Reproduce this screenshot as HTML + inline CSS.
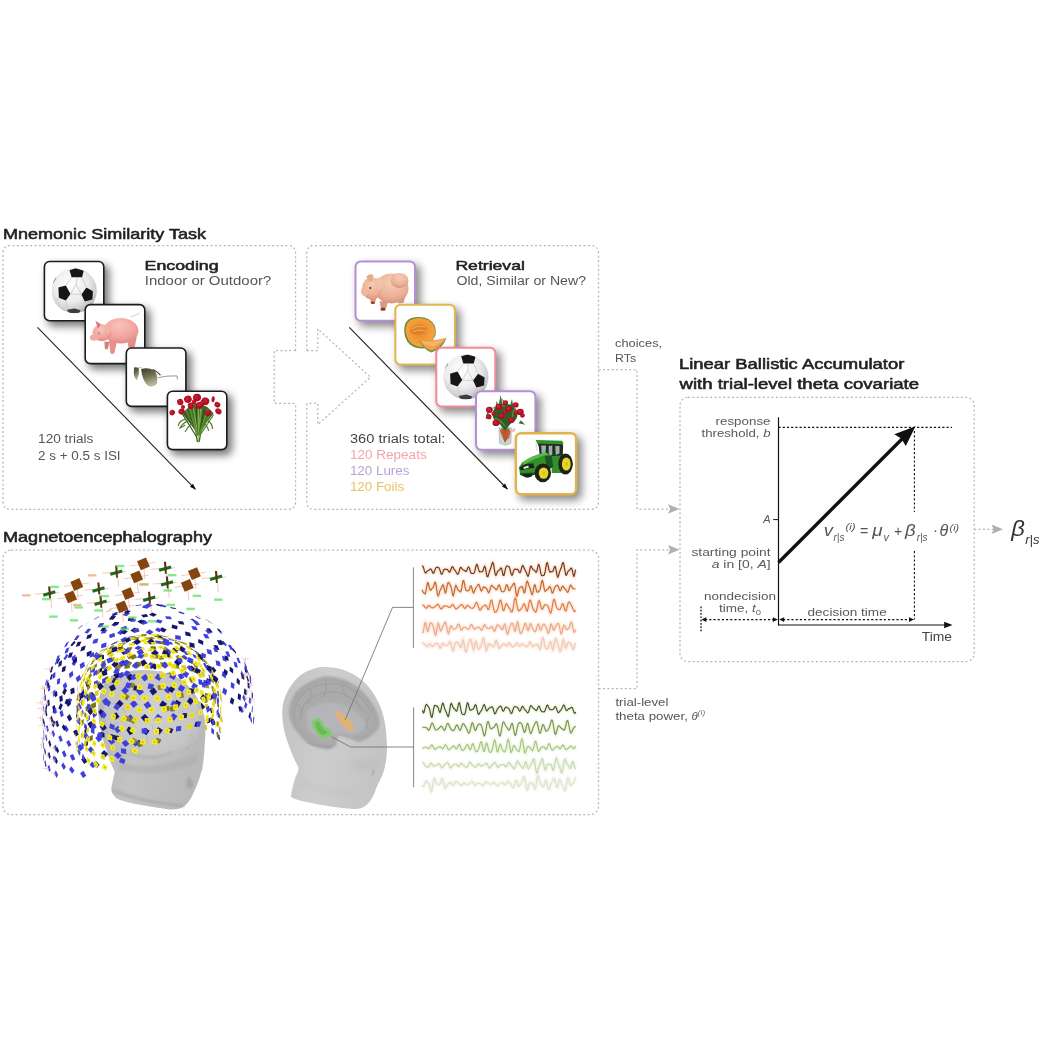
<!DOCTYPE html>
<html><head><meta charset="utf-8"><title>Figure</title>
<style>html,body{margin:0;padding:0;background:#fff;}svg{display:block;}text{font-family:"Liberation Sans", sans-serif;}</style>
</head><body>
<svg width="1042" height="1042" viewBox="0 0 1042 1042">
<rect width="1042" height="1042" fill="#fff"/>
<g opacity="0.999">
<defs>
<filter id="sh" x="-40%" y="-40%" width="190%" height="190%"><feGaussianBlur stdDeviation="4.2"/></filter>
<filter id="glow" x="-5%" y="-60%" width="110%" height="220%"><feGaussianBlur stdDeviation="1.3"/></filter>
<filter id="soft" x="-10%" y="-10%" width="120%" height="120%"><feGaussianBlur stdDeviation="0.6"/></filter>
<filter id="soft2" x="-20%" y="-20%" width="140%" height="140%"><feGaussianBlur stdDeviation="1.1"/></filter>
<filter id="soft3" x="-20%" y="-20%" width="140%" height="140%"><feGaussianBlur stdDeviation="3"/></filter>
</defs>
<text x="3" y="239.3" font-size="14.5" font-weight="normal" font-style="normal" fill="#222" text-anchor="start" textLength="203" lengthAdjust="spacingAndGlyphs" stroke="#222" stroke-width="0.55" stroke-linejoin="round">Mnemonic Similarity Task</text>
<text x="3" y="541.5" font-size="14.5" font-weight="normal" font-style="normal" fill="#222" text-anchor="start" textLength="209" lengthAdjust="spacingAndGlyphs" stroke="#222" stroke-width="0.55" stroke-linejoin="round">Magnetoencephalography</text>
<text x="679" y="369.4" font-size="14.5" font-weight="normal" font-style="normal" fill="#222" text-anchor="start" textLength="225.3" lengthAdjust="spacingAndGlyphs" stroke="#222" stroke-width="0.55" stroke-linejoin="round">Linear Ballistic Accumulator</text>
<text x="679.5" y="388.7" font-size="14.5" font-weight="normal" font-style="normal" fill="#222" text-anchor="start" textLength="239.6" lengthAdjust="spacingAndGlyphs" stroke="#222" stroke-width="0.55" stroke-linejoin="round">with trial-level theta covariate</text>
<path d="M295.6,350.6 L295.6,253.5 Q295.6,245.5 287.6,245.5 L11,245.5 Q3,245.5 3,253.5 L3,501.4 Q3,509.4 11,509.4 L287.6,509.4 Q295.6,509.4 295.6,501.4 L295.6,403.4" fill="none" stroke="#b6b6b6" stroke-width="1.25" stroke-dasharray="2 2.4"/>
<path d="M295.6,350.6 L274.2,350.6 L274.2,403.4 L295.6,403.4" fill="none" stroke="#b6b6b6" stroke-width="1.25" stroke-dasharray="2 2.4"/>
<path d="M306.8,350.6 L306.8,253.5 Q306.8,245.5 314.8,245.5 L590.5,245.5 Q598.5,245.5 598.5,253.5 L598.5,501.4 Q598.5,509.4 590.5,509.4 L314.8,509.4 Q306.8,509.4 306.8,501.4 L306.8,403.4" fill="none" stroke="#b6b6b6" stroke-width="1.25" stroke-dasharray="2 2.4"/>
<path d="M306.8,350.6 L317.8,350.6 L317.8,328.8 L370.4,377.2 L317.8,424.5 L317.8,403.4 L306.8,403.4" fill="none" stroke="#b6b6b6" stroke-width="1.25" stroke-dasharray="2 2.4"/>
<rect x="3" y="550.2" width="595.5" height="264.3" rx="8" fill="none" stroke="#b6b6b6" stroke-width="1.25" stroke-dasharray="2 2.4"/>
<rect x="680" y="397.3" width="294.2" height="264.2" rx="8" fill="none" stroke="#b6b6b6" stroke-width="1.25" stroke-dasharray="2 2.4"/>
<path d="M598.5,369.6 L637,369.6 L637,509 L670,509" fill="none" stroke="#b6b6b6" stroke-width="1.25" stroke-dasharray="2 2.4"/>
<path d="M598.5,688.5 L637,688.5 L637,549.8 L670,549.8" fill="none" stroke="#b6b6b6" stroke-width="1.25" stroke-dasharray="2 2.4"/>
<path d="M974.2,529.3 L994,529.3" fill="none" stroke="#b6b6b6" stroke-width="1.25" stroke-dasharray="2 2.4"/>
<path d="M679.5,509 L668.0,504.2 L670.2,509 L668.0,513.8 Z" fill="#b0b0b0"/>
<path d="M679.5,549.8 L668.0,545.0 L670.2,549.8 L668.0,554.5999999999999 Z" fill="#b0b0b0"/>
<path d="M1003,529.3 L991.5,524.5 L993.7,529.3 L991.5,534.0999999999999 Z" fill="#b0b0b0"/>
<text x="144.6" y="269.7" font-size="13.5" font-weight="normal" font-style="normal" fill="#222" text-anchor="start" textLength="74" lengthAdjust="spacingAndGlyphs" stroke="#222" stroke-width="0.55" stroke-linejoin="round">Encoding</text>
<text x="144.8" y="284.8" font-size="12.5" font-weight="normal" font-style="normal" fill="#555" text-anchor="start" textLength="126.5" lengthAdjust="spacingAndGlyphs">Indoor or Outdoor?</text>
<text x="38.1" y="442.7" font-size="12" font-weight="normal" font-style="normal" fill="#555" text-anchor="start" textLength="55.3" lengthAdjust="spacingAndGlyphs">120 trials</text>
<text x="38.1" y="459.5" font-size="12" font-weight="normal" font-style="normal" fill="#555" text-anchor="start" textLength="82.5" lengthAdjust="spacingAndGlyphs">2 s + 0.5 s ISI</text>
<text x="455.4" y="269.7" font-size="13.5" font-weight="normal" font-style="normal" fill="#222" text-anchor="start" textLength="69.5" lengthAdjust="spacingAndGlyphs" stroke="#222" stroke-width="0.55" stroke-linejoin="round">Retrieval</text>
<text x="456.5" y="285.1" font-size="12.5" font-weight="normal" font-style="normal" fill="#555" text-anchor="start" textLength="129.5" lengthAdjust="spacingAndGlyphs">Old, Similar or New?</text>
<text x="349.9" y="442.7" font-size="12" font-weight="normal" font-style="normal" fill="#444" text-anchor="start" textLength="95.4" lengthAdjust="spacingAndGlyphs">360 trials total:</text>
<text x="349.9" y="459.2" font-size="12" font-weight="normal" font-style="normal" fill="#f4a3ae" text-anchor="start" textLength="76.8" lengthAdjust="spacingAndGlyphs">120 Repeats</text>
<text x="349.9" y="475.3" font-size="12" font-weight="normal" font-style="normal" fill="#b9a2d9" text-anchor="start" textLength="59.6" lengthAdjust="spacingAndGlyphs">120 Lures</text>
<text x="349.9" y="490.6" font-size="12" font-weight="normal" font-style="normal" fill="#ecc062" text-anchor="start" textLength="54.2" lengthAdjust="spacingAndGlyphs">120 Foils</text>
<text x="615.1" y="347" font-size="11.5" font-weight="normal" font-style="normal" fill="#555" text-anchor="start" textLength="47" lengthAdjust="spacingAndGlyphs">choices,</text>
<text x="615.1" y="361.6" font-size="11.5" font-weight="normal" font-style="normal" fill="#555" text-anchor="start" textLength="21" lengthAdjust="spacingAndGlyphs">RTs</text>
<text x="615.4" y="705.6" font-size="11.5" font-weight="normal" font-style="normal" fill="#555" text-anchor="start" textLength="53" lengthAdjust="spacingAndGlyphs">trial-level</text>
<text x="615.4" y="719.7" font-size="11.5" font-weight="normal" font-style="normal" fill="#555" text-anchor="start" textLength="72.5" lengthAdjust="spacingAndGlyphs">theta power,</text>
<text x="691.5" y="719.7" font-size="11.5" font-style="italic" fill="#555">θ<tspan font-size="7" dy="-5" letter-spacing="0.6">(i)</tspan></text>
<line x1="37.5" y1="327.3" x2="195.3" y2="489.2" stroke="#222" stroke-width="1.1"/>
<path d="M195.9,489.8 L189.9,486.8 L193.0,483.7 Z" fill="#111"/>
<line x1="349.3" y1="327.3" x2="507.3" y2="489.0" stroke="#222" stroke-width="1.1"/>
<path d="M507.9,489.6 L501.9,486.6 L505.0,483.5 Z" fill="#111"/>
<rect x="47.6" y="264.9" width="61.6" height="61.4" rx="6" fill="#000" opacity="0.54" filter="url(#sh)"/>
<rect x="44.4" y="261.5" width="59.4" height="59.199999999999996" rx="5.2" fill="#fff" stroke="#1c1c1c" stroke-width="1.6"/>
<radialGradient id="sb43" cx="0.42" cy="0.36" r="0.7"><stop offset="0" stop-color="#ffffff"/><stop offset="0.55" stop-color="#ececee"/><stop offset="0.85" stop-color="#c9c9cd"/><stop offset="1" stop-color="#9a9aa0"/></radialGradient>
<clipPath id="csb43"><circle cx="30.6" cy="30.0" r="22.6"/></clipPath>
<g filter="url(#soft)"><circle cx="74.2" cy="290.7" r="22.6" fill="url(#sb43)"/>
<g clip-path="url(#csb43)" transform="translate(43.6,260.7)">
<polygon points="25.9,9.5 32.2,7.6 40.1,10 38.5,16.6 28,16.6" fill="#141414"/>
<polygon points="14.8,26.9 22.2,24.8 26.9,33.3 22.2,39.8 15.3,37.1" fill="#141414"/>
<polygon points="42.8,26.9 49.3,30.6 48.8,38.7 41.2,40.8 37.8,33.8" fill="#141414"/>
<polygon points="23.2,49.1 31.1,47.8 36.9,49.6 35.6,52.2 25.7,52.4" fill="#3c3c3c"/>
<polygon points="7,18 11.5,14.5 12.8,17.5 9.5,22.5" fill="#77777c"/>
<g stroke="#c2c2c8" stroke-width="0.7" fill="none">
<path d="M33.2,16.6 L32.5,24 M26.9,33.3 L37.8,33.8 M32.5,24 L26.9,33.3 M32.5,24 L37.8,33.8 M22.2,39.8 L24,47 M41.2,40.8 L37,49 M28,16.6 L22.2,24.8 M38.5,16.6 L42.8,26.9 M15.3,37.1 L11,42 M48.8,38.7 L50,44"/>
</g></g></g>
<rect x="88.4" y="308.0" width="61.800000000000004" height="61.2" rx="6" fill="#000" opacity="0.54" filter="url(#sh)"/>
<rect x="85.2" y="304.6" width="59.6" height="59.0" rx="5.2" fill="#fff" stroke="#1c1c1c" stroke-width="1.6"/>
<radialGradient id="pg1" cx="0.45" cy="0.3" r="0.8"><stop offset="0" stop-color="#f8c4bc"/><stop offset="0.6" stop-color="#f0a39c"/><stop offset="1" stop-color="#d9807c"/></radialGradient>
<g transform="translate(84.4,303.8)" filter="url(#soft)">
<path d="M46,13.5 Q50,12 55,9.5" stroke="#e4e0e0" stroke-width="1.6" fill="none"/>
<path d="M24.5,36 L26,49.5 Q28,51 30,49.5 L32.5,38 Z" fill="#e8908c"/>
<path d="M20,38 L20.5,45 Q22,46.5 23.5,45 L25,38 Z" fill="#d77f80"/>
<path d="M43,36 L44,44 L50,44 L52.5,33 Z" fill="#e58d8a"/>
<ellipse cx="36.5" cy="27" rx="17.5" ry="12.8" fill="url(#pg1)"/>
<ellipse cx="17.5" cy="29" rx="9.5" ry="8.5" fill="url(#pg1)"/>
<ellipse cx="9.5" cy="33.8" rx="4" ry="3.2" fill="#f3aaa6"/>
<path d="M11,17 L16.5,20.5 L13.5,25 Z" fill="#d8747c"/>
<path d="M21.5,20 Q25,17.5 27.5,22.5 Q27,28.5 23.5,31 Q20.5,26 21.5,20 Z" fill="#f2b0aa"/>
<circle cx="14.5" cy="29.5" r="0.7" fill="#8a4a50"/>
</g>
<rect x="129.5" y="351.4" width="61.800000000000004" height="60.6" rx="6" fill="#000" opacity="0.54" filter="url(#sh)"/>
<rect x="126.3" y="348.0" width="59.6" height="58.4" rx="5.2" fill="#fff" stroke="#1c1c1c" stroke-width="1.6"/>
<linearGradient id="gl" x1="0" y1="0" x2="0.3" y2="1"><stop offset="0" stop-color="#3c3d28"/><stop offset="0.5" stop-color="#6d6e50"/><stop offset="1" stop-color="#b9b99a"/></linearGradient>
<g transform="translate(125.5,347.2)" filter="url(#soft)">
<path d="M8.6,20.2 Q11,19.5 13.4,21 Q14.2,27 11.6,33 Q9,31.5 8.3,26 Z" fill="url(#gl)"/>
<path d="M15.6,22 Q22,19.5 29,23.5 Q33,28 31.5,36 Q28,41 22.5,38.5 Q17,34 15.6,22 Z" fill="url(#gl)"/>
<path d="M13,20.6 Q15,19.8 17,21.2" stroke="#b8b49a" stroke-width="0.8" fill="none"/>
<path d="M27,22.3 Q32,24 35,28" stroke="#3a3a30" stroke-width="1.2" fill="none"/>
<path d="M32.5,30.5 Q42,28.2 51.5,28.7 L52,32.2" stroke="#8c8c78" stroke-width="0.9" fill="none"/>
</g>
<rect x="170.6" y="394.59999999999997" width="61.6" height="60.6" rx="6" fill="#000" opacity="0.54" filter="url(#sh)"/>
<rect x="167.4" y="391.2" width="59.4" height="58.4" rx="5.2" fill="#fff" stroke="#1c1c1c" stroke-width="1.6"/>
<g transform="translate(166.6,390.4)" filter="url(#soft)">
<path d="M16,23 Q23,14 31,13 Q40,14 47,23 Q41,31 35.2,38 L33.4,51.2 Q31.7,52.8 30,51.2 L28.4,38 Q21.5,31 16,23 Z" fill="#3f6a27"/>
<path d="M15.5,23.2 Q23.5,35.6 31.7,49.4" stroke="#34591f" stroke-width="1.1" fill="none"/>
<path d="M17.5,22.2 Q24.6,35.1 31.7,43.1" stroke="#2f531d" stroke-width="1.1" fill="none"/>
<path d="M19.9,19.8 Q25.7,33.9 31.7,44.3" stroke="#6a9c3b" stroke-width="1.1" fill="none"/>
<path d="M21.2,19.8 Q26.4,33.9 31.7,46.3" stroke="#2f531d" stroke-width="1.1" fill="none"/>
<path d="M22.7,17.3 Q27.1,32.7 31.7,49.1" stroke="#6a9c3b" stroke-width="1.1" fill="none"/>
<path d="M24.0,18.8 Q27.8,33.4 31.7,44.1" stroke="#56882f" stroke-width="1.1" fill="none"/>
<path d="M26.5,15.3 Q29.1,31.7 31.7,48.8" stroke="#56882f" stroke-width="1.1" fill="none"/>
<path d="M26.7,17.0 Q29.2,32.5 31.7,48.0" stroke="#7fae4c" stroke-width="1.1" fill="none"/>
<path d="M29.6,15.8 Q30.6,31.9 31.7,46.1" stroke="#2f531d" stroke-width="1.1" fill="none"/>
<path d="M31.3,17.5 Q31.4,32.8 31.7,43.3" stroke="#56882f" stroke-width="1.1" fill="none"/>
<path d="M32.0,15.1 Q31.8,31.5 31.7,48.5" stroke="#7fae4c" stroke-width="1.1" fill="none"/>
<path d="M34.3,15.9 Q33.0,31.9 31.7,47.0" stroke="#7fae4c" stroke-width="1.1" fill="none"/>
<path d="M35.3,16.2 Q33.4,32.1 31.7,49.3" stroke="#6a9c3b" stroke-width="1.1" fill="none"/>
<path d="M37.2,18.9 Q34.4,33.4 31.7,49.9" stroke="#34591f" stroke-width="1.1" fill="none"/>
<path d="M38.7,16.5 Q35.2,32.3 31.7,49.8" stroke="#34591f" stroke-width="1.1" fill="none"/>
<path d="M40.8,19.0 Q36.2,33.5 31.7,47.4" stroke="#6a9c3b" stroke-width="1.1" fill="none"/>
<path d="M42.6,18.7 Q37.1,33.4 31.7,43.4" stroke="#56882f" stroke-width="1.1" fill="none"/>
<path d="M43.9,22.7 Q37.8,35.3 31.7,45.4" stroke="#56882f" stroke-width="1.1" fill="none"/>
<path d="M43.9,23.4 Q37.8,35.7 31.7,45.1" stroke="#56882f" stroke-width="1.1" fill="none"/>
<path d="M46.9,24.5 Q39.3,36.2 31.7,47.2" stroke="#56882f" stroke-width="1.1" fill="none"/>
<path d="M23,30 Q17,31.5 13.5,37.5 Q16,37 18.5,34.5 M41,30 Q45.5,32.5 46,38.5 M19,29 Q13,29.5 11.6,35.5 M25,33.5 Q20.5,36.5 18.5,41.5 M38.5,33.5 Q41.5,37 42,40.5" stroke="#4e7a2c" stroke-width="1.2" fill="none"/>
<path d="M30.3,45 L31.7,52.3 L33.1,45 Z" fill="#b4d67a"/>
<ellipse cx="13.6" cy="11.6" rx="3.1" ry="3.3" fill="#ae1024" transform="rotate(-20 13.6 11.6)"/>
<ellipse cx="13.1" cy="11.1" rx="1.55" ry="1.65" fill="#c81e30" transform="rotate(-20 13.6 11.6)"/>
<ellipse cx="21.3" cy="8.8" rx="3.9" ry="3.6" fill="#ae1024" transform="rotate(-15 21.3 8.8)"/>
<ellipse cx="20.8" cy="8.3" rx="1.95" ry="1.80" fill="#c81e30" transform="rotate(-15 21.3 8.8)"/>
<ellipse cx="30.4" cy="7.2" rx="4.0" ry="3.8" fill="#ae1024" transform="rotate(0 30.4 7.2)"/>
<ellipse cx="29.9" cy="6.7" rx="2.00" ry="1.90" fill="#c81e30" transform="rotate(0 30.4 7.2)"/>
<ellipse cx="38.8" cy="10.8" rx="3.9" ry="3.8" fill="#ae1024" transform="rotate(20 38.8 10.8)"/>
<ellipse cx="38.3" cy="10.3" rx="1.95" ry="1.90" fill="#c81e30" transform="rotate(20 38.8 10.8)"/>
<ellipse cx="46.5" cy="8.8" rx="1.6" ry="3.0" fill="#ae1024" transform="rotate(8 46.5 8.8)"/>
<ellipse cx="46.0" cy="8.3" rx="0.80" ry="1.50" fill="#c81e30" transform="rotate(8 46.5 8.8)"/>
<ellipse cx="50.8" cy="14.3" rx="3.0" ry="2.6" fill="#ae1024" transform="rotate(30 50.8 14.3)"/>
<ellipse cx="50.3" cy="13.8" rx="1.50" ry="1.30" fill="#c81e30" transform="rotate(30 50.8 14.3)"/>
<ellipse cx="51.8" cy="21" rx="3.3" ry="2.7" fill="#ae1024" transform="rotate(40 51.8 21)"/>
<ellipse cx="51.3" cy="20.5" rx="1.65" ry="1.35" fill="#c81e30" transform="rotate(40 51.8 21)"/>
<ellipse cx="41.4" cy="22.8" rx="3.0" ry="2.9" fill="#ae1024" transform="rotate(10 41.4 22.8)"/>
<ellipse cx="40.9" cy="22.3" rx="1.50" ry="1.45" fill="#c81e30" transform="rotate(10 41.4 22.8)"/>
<ellipse cx="32.8" cy="15" rx="3.7" ry="3.5" fill="#ae1024" transform="rotate(0 32.8 15)"/>
<ellipse cx="32.3" cy="14.5" rx="1.85" ry="1.75" fill="#c81e30" transform="rotate(0 32.8 15)"/>
<ellipse cx="24.2" cy="15.4" rx="3.0" ry="3.4" fill="#ae1024" transform="rotate(-10 24.2 15.4)"/>
<ellipse cx="23.7" cy="14.9" rx="1.50" ry="1.70" fill="#c81e30" transform="rotate(-10 24.2 15.4)"/>
<ellipse cx="15" cy="21" rx="3.2" ry="2.9" fill="#ae1024" transform="rotate(-30 15 21)"/>
<ellipse cx="14.5" cy="20.5" rx="1.60" ry="1.45" fill="#c81e30" transform="rotate(-30 15 21)"/>
<ellipse cx="5.6" cy="22.2" rx="2.8" ry="2.6" fill="#ae1024" transform="rotate(-40 5.6 22.2)"/>
<ellipse cx="5.1" cy="21.7" rx="1.40" ry="1.30" fill="#c81e30" transform="rotate(-40 5.6 22.2)"/>
<ellipse cx="16.4" cy="16.6" rx="2.0" ry="2.0" fill="#ae1024" transform="rotate(0 16.4 16.6)"/>
<ellipse cx="15.899999999999999" cy="16.1" rx="1.00" ry="1.00" fill="#c81e30" transform="rotate(0 16.4 16.6)"/>
<ellipse cx="36" cy="12.5" rx="2.4" ry="2.8" fill="#ae1024" transform="rotate(0 36 12.5)"/>
<ellipse cx="35.5" cy="12.0" rx="1.20" ry="1.40" fill="#c81e30" transform="rotate(0 36 12.5)"/>
<ellipse cx="27.5" cy="11.5" rx="2.2" ry="2.6" fill="#ae1024" transform="rotate(0 27.5 11.5)"/>
<ellipse cx="27.0" cy="11.0" rx="1.10" ry="1.30" fill="#c81e30" transform="rotate(0 27.5 11.5)"/>
</g>
<rect x="358.5" y="264.59999999999997" width="62.1" height="62.0" rx="6" fill="#000" opacity="0.45999999999999996" filter="url(#sh)"/>
<rect x="355.5" y="261.4" width="59.5" height="59.4" rx="5.2" fill="#fff" stroke="#b58fd6" stroke-width="2.0"/>
<radialGradient id="pg2" cx="0.5" cy="0.3" r="0.8"><stop offset="0" stop-color="#f6cdb6"/><stop offset="0.6" stop-color="#ecb096"/><stop offset="1" stop-color="#cf8a72"/></radialGradient>
<g transform="translate(354.5,260.4)" filter="url(#soft)">
<path d="M25,41 L26.5,48.5 Q29,50.5 31.5,48 L34,40 Z" fill="#d99a80"/>
<ellipse cx="28.5" cy="48.8" rx="2.6" ry="1.6" fill="#8a3a34"/>
<path d="M15,37 L16.5,42 Q18.5,43.5 20.5,42 L22,37 Z" fill="#d99a80"/>
<ellipse cx="18.3" cy="42.3" rx="2.2" ry="1.3" fill="#8a3a34"/>
<path d="M42,38 L44,43 L49,42.5 L51,35 Z" fill="#d99a80"/>
<ellipse cx="37" cy="28" rx="17" ry="15" fill="url(#pg2)"/>
<ellipse cx="45" cy="20" rx="9" ry="7.5" fill="url(#pg2)"/>
<ellipse cx="17.5" cy="28" rx="10" ry="11" fill="url(#pg2)"/>
<ellipse cx="10" cy="31" rx="3.6" ry="4.6" fill="#eeb9a0"/>
<path d="M12,16 Q15,12.5 19,15 L18,21 L13.5,21 Z" fill="#e8aa90"/>
<path d="M22,18 Q26,15.5 29,20 Q29,27 25,30 Q21.5,25 22,18 Z" fill="#f2c2aa"/>
<circle cx="15.8" cy="27.5" r="1" fill="#4a2a28"/>
</g>
<rect x="398.4" y="308.0" width="62.1" height="62.4" rx="6" fill="#000" opacity="0.45999999999999996" filter="url(#sh)"/>
<rect x="395.4" y="304.8" width="59.5" height="59.8" rx="5.2" fill="#fff" stroke="#e2b64f" stroke-width="2.0"/>
<radialGradient id="ml" cx="0.5" cy="0.45" r="0.6"><stop offset="0" stop-color="#e9832a"/><stop offset="0.55" stop-color="#f39a37"/><stop offset="1" stop-color="#f2a648"/></radialGradient>
<g transform="translate(394.4,303.8)" filter="url(#soft)">
<path d="M10,24 Q11,13 24,13.2 Q36,13 40.5,22 Q42,27 41,32 L33,44 Q20,47 13,38 Q9,31 10,24 Z" fill="#6f8a3a"/>
<path d="M11.5,23.5 Q13,14.5 24.5,14.2 Q36,14.5 39.8,22.5 Q41.5,28 40,33 L32,42.5 Q21,45 14.5,37 Q10.5,30 11.5,23.5 Z" fill="url(#ml)"/>
<ellipse cx="24" cy="26" rx="8.5" ry="5" fill="#e07f2a" transform="rotate(-10 24 26)"/>
<path d="M17,25 Q24,21 31,23 M18,28 Q24,25 31,27" stroke="#f4b268" stroke-width="0.9" fill="none"/>
<path d="M24.5,36.8 Q38,38.5 52,34.5 Q48,45.5 37,48.8 Q29,46 24.5,36.8 Z" fill="#7f9340"/>
<path d="M25.2,36.6 Q38,37.6 51.5,34.2 Q46.5,43.5 37,46.8 Q30,44.5 25.2,36.6 Z" fill="#f3a04a"/>
<path d="M27,37.5 Q38,39 49.5,35.5 Q45,41 38,42.5 Q31,42 27,37.5 Z" fill="#f6b467"/>
</g>
<rect x="439.3" y="351.0" width="61.6" height="61.4" rx="6" fill="#000" opacity="0.45999999999999996" filter="url(#sh)"/>
<rect x="436.3" y="347.8" width="59.0" height="58.8" rx="5.2" fill="#fff" stroke="#f08a9a" stroke-width="2.0"/>
<radialGradient id="sb435" cx="0.42" cy="0.36" r="0.7"><stop offset="0" stop-color="#ffffff"/><stop offset="0.55" stop-color="#ececee"/><stop offset="0.85" stop-color="#c9c9cd"/><stop offset="1" stop-color="#9a9aa0"/></radialGradient>
<clipPath id="csb435"><circle cx="30.6" cy="30.0" r="22.6"/></clipPath>
<g filter="url(#soft)"><circle cx="465.90000000000003" cy="376.8" r="22.6" fill="url(#sb435)"/>
<g clip-path="url(#csb435)" transform="translate(435.3,346.8)">
<polygon points="25.9,9.5 32.2,7.6 40.1,10 38.5,16.6 28,16.6" fill="#141414"/>
<polygon points="14.8,26.9 22.2,24.8 26.9,33.3 22.2,39.8 15.3,37.1" fill="#141414"/>
<polygon points="42.8,26.9 49.3,30.6 48.8,38.7 41.2,40.8 37.8,33.8" fill="#141414"/>
<polygon points="23.2,49.1 31.1,47.8 36.9,49.6 35.6,52.2 25.7,52.4" fill="#3c3c3c"/>
<polygon points="7,18 11.5,14.5 12.8,17.5 9.5,22.5" fill="#77777c"/>
<g stroke="#c2c2c8" stroke-width="0.7" fill="none">
<path d="M33.2,16.6 L32.5,24 M26.9,33.3 L37.8,33.8 M32.5,24 L26.9,33.3 M32.5,24 L37.8,33.8 M22.2,39.8 L24,47 M41.2,40.8 L37,49 M28,16.6 L22.2,24.8 M38.5,16.6 L42.8,26.9 M15.3,37.1 L11,42 M48.8,38.7 L50,44"/>
</g></g></g>
<rect x="479.0" y="394.5" width="62.0" height="61.0" rx="6" fill="#000" opacity="0.45999999999999996" filter="url(#sh)"/>
<rect x="476.0" y="391.3" width="59.4" height="58.4" rx="5.2" fill="#fff" stroke="#b58fd6" stroke-width="2.0"/>
<g transform="translate(475.0,390.3)" filter="url(#soft)">
<path d="M24,37.5 L24.6,53 Q30.2,56.2 35.8,53 L36.4,37.5 Z" fill="#c9d5d2" stroke="#95a8a4" stroke-width="0.6"/>
<path d="M26,38 L29.6,52 L30.8,52 L34.4,38 Z" fill="#668f42"/>
<path d="M24.6,39.5 Q30,37.5 36,40 L34.2,47.5 Q31,50.5 29.6,51.5 Q27,47 24.6,39.5 Z" fill="#c9502f" opacity="0.85"/>
<path d="M35.4,39.8 L40,37.6 L40.4,41 L36,42.4 Z" fill="#e9c3bb"/>
<path d="M25.6,4.6 L23.6,15 L28.2,16 Z M26.6,8 L30.2,17 L32,14 Z M37,8.6 L34.4,17 L38.4,17 Z M21.6,10.4 L20.8,17 L24,16.4 Z M12,22 L10.5,28.5 L16,25 Z M46,30 L50,34.5 L43.5,33 Z" fill="#3c7428"/>
<ellipse cx="30" cy="24" rx="12.5" ry="10.5" fill="#2f5f23"/>
<path d="M22.5,31 L30,40.5 L37.5,31 Z" fill="#2f5f23"/>
<path d="M18,18 Q24,14 30,16 M40,18 Q36,24 38,30 M20,28 Q26,30 30,36" stroke="#5f9440" stroke-width="1.1" fill="none"/>
<ellipse cx="14.4" cy="19.6" rx="3.4" ry="3.06" fill="#ad1024"/>
<ellipse cx="14.0" cy="19.1" rx="1.70" ry="1.53" fill="#c92233"/>
<ellipse cx="23.8" cy="16.6" rx="3.4" ry="3.06" fill="#ad1024"/>
<ellipse cx="23.400000000000002" cy="16.1" rx="1.70" ry="1.53" fill="#c92233"/>
<ellipse cx="30.4" cy="12.4" rx="2.6" ry="2.34" fill="#ad1024"/>
<ellipse cx="30.0" cy="11.9" rx="1.30" ry="1.17" fill="#c92233"/>
<ellipse cx="33.6" cy="18.6" rx="3.3" ry="2.97" fill="#ad1024"/>
<ellipse cx="33.2" cy="18.1" rx="1.65" ry="1.48" fill="#c92233"/>
<ellipse cx="40.6" cy="14.6" rx="3.0" ry="2.70" fill="#ad1024"/>
<ellipse cx="40.2" cy="14.1" rx="1.50" ry="1.35" fill="#c92233"/>
<ellipse cx="45.2" cy="21.6" rx="3.5" ry="3.15" fill="#ad1024"/>
<ellipse cx="44.800000000000004" cy="21.1" rx="1.75" ry="1.57" fill="#c92233"/>
<ellipse cx="47.4" cy="25.2" rx="2.4" ry="2.16" fill="#ad1024"/>
<ellipse cx="47.0" cy="24.7" rx="1.20" ry="1.08" fill="#c92233"/>
<ellipse cx="13.8" cy="26.6" rx="2.7" ry="2.43" fill="#ad1024"/>
<ellipse cx="13.4" cy="26.1" rx="1.35" ry="1.22" fill="#c92233"/>
<ellipse cx="26.6" cy="25.6" rx="3.2" ry="2.88" fill="#ad1024"/>
<ellipse cx="26.200000000000003" cy="25.1" rx="1.60" ry="1.44" fill="#c92233"/>
<ellipse cx="36.4" cy="29.6" rx="3.2" ry="2.88" fill="#ad1024"/>
<ellipse cx="36.0" cy="29.1" rx="1.60" ry="1.44" fill="#c92233"/>
<ellipse cx="21" cy="32.6" rx="3.5" ry="3.15" fill="#ad1024"/>
<ellipse cx="20.6" cy="32.1" rx="1.75" ry="1.57" fill="#c92233"/>
<ellipse cx="30" cy="21.8" rx="2.4" ry="2.16" fill="#ad1024"/>
<ellipse cx="29.6" cy="21.3" rx="1.20" ry="1.08" fill="#c92233"/>
<ellipse cx="41" cy="22.4" rx="2.4" ry="2.16" fill="#ad1024"/>
<ellipse cx="40.6" cy="21.9" rx="1.20" ry="1.08" fill="#c92233"/>
<ellipse cx="18.6" cy="23.4" rx="2.2" ry="1.98" fill="#ad1024"/>
<ellipse cx="18.200000000000003" cy="22.9" rx="1.10" ry="0.99" fill="#c92233"/>
</g>
<rect x="518.7" y="436.2" width="63.2" height="64.0" rx="6" fill="#000" opacity="0.45999999999999996" filter="url(#sh)"/>
<rect x="515.9000000000001" y="433.2" width="60.2" height="61.0" rx="5.2" fill="#fff" stroke="#e4b24a" stroke-width="2.4"/>
<g transform="translate(514.7,432.0)" filter="url(#soft)">
<path d="M22,10 L47,10.6 L48.4,13.4 L48,27 L25.5,28 L24,14 Z" fill="#242c27"/>
<path d="M21,8 L47.6,8.8 L48.8,12.2 L22.4,11.8 Z" fill="#33902a"/>
<path d="M26.4,13.6 L31.4,13.6 L30.6,24 L27.2,24 Z M34,13.8 L37.6,13.8 L37.6,23 L34,23.6 Z M40.6,14 L44.8,14 L44.8,21.5 L41,23 Z" fill="#9fb0a8"/>
<path d="M20.6,10.4 L22.4,10 L23,18.5 L21.4,18.5 Z" fill="#e4e4e4"/>
<path d="M37,24 L48,23.5 Q57,24 58.5,33 L50,41 L37,41 Z" fill="#33902a"/>
<path d="M7.5,30.5 Q17,23.5 31,20.5 L37,23.5 L38.5,35 L27,41.5 L9,41.5 Q3.6,39 4.2,35.4 Z" fill="#33902a"/>
<path d="M7.5,30.5 Q17,23.5 31,20.5 L33.6,22.2 Q20,26 9.6,32.6 Z" fill="#5cba4a"/>
<path d="M30,24 L37,23.5 L38.5,35 L32,38 Z" fill="#1d5520"/>
<path d="M5,35.6 Q11,30.6 18.6,31.6 L19.6,36 Q12,36 6,39 Z" fill="#1e231f"/>
<path d="M8.6,35.2 L13.6,33.6 L14.2,35.6 L9.2,37 Z" fill="#ececec"/>
<path d="M4.6,38.6 Q12,37 20,37.6 L21,42.4 Q12,45.4 5.6,43 Z" fill="#33902a"/>
<path d="M5,41 Q12,40.4 20.6,40.4 L21,42.4 Q12,45.4 5.6,43 Z" fill="#1d5520"/>
<path d="M6.5,42.6 Q11,47.5 17,44.6 L17.6,41.6 Z" fill="#1e231f"/>
<ellipse cx="50.8" cy="32" rx="7.2" ry="10.6" fill="#1e231f"/>
<ellipse cx="51.6" cy="32" rx="4.4" ry="6.6" fill="#ead426"/>
<ellipse cx="51.9" cy="32" rx="1.5" ry="2.3" fill="#d6c01e"/>
<ellipse cx="28.1" cy="40.9" rx="8.2" ry="9.4" fill="#1e231f"/>
<ellipse cx="28.9" cy="41.1" rx="4.8" ry="5.7" fill="#ead426"/>
<ellipse cx="29.2" cy="41.1" rx="1.6" ry="2" fill="#d6c01e"/>
</g>
<g>
<polygon points="147.4,663.4 142.7,666.4 139.5,662.3 144.2,659.2" fill="#17176a"/>
<polygon points="164.2,688.3 160.7,692.2 156.3,688.8 159.8,684.9" fill="#17176a"/>
<polygon points="164.9,701.5 161.8,705.6 157.1,702.5 160.3,698.3" fill="#17176a"/>
<polygon points="168.6,701.3 165.7,705.0 161.5,702.2 164.4,698.5" fill="#3f3fdc"/>
<polygon points="131.8,663.0 128.5,667.4 124.1,664.7 127.4,660.3" fill="#3f3fdc"/>
<polygon points="128.0,651.5 123.7,655.1 120.3,651.7 124.6,648.2" fill="#17176a"/>
<polygon points="119.0,663.9 115.1,668.0 111.4,664.7 115.3,660.6" fill="#17176a"/>
<polygon points="138.3,629.7 134.3,632.7 130.4,630.4 134.5,627.4" fill="#17176a"/>
<polygon points="124.7,631.6 120.7,634.9 117.0,633.0 121.0,629.6" fill="#3f3fdc"/>
<polygon points="127.8,631.5 124.2,634.5 120.9,632.8 124.5,629.8" fill="#17176a"/>
<polygon points="99.9,654.3 96.5,658.8 92.9,656.6 96.3,652.1" fill="#3f3fdc"/>
<polygon points="205.2,707.1 201.9,710.2 198.3,705.8 201.6,702.8" fill="#17176a"/>
<polygon points="147.0,622.4 142.3,624.4 139.2,621.9 143.8,620.0" fill="#17176a"/>
<polygon points="94.9,695.1 91.0,699.2 88.2,695.8 92.0,691.7" fill="#17176a"/>
<polygon points="213.3,670.6 210.5,673.9 206.9,669.6 209.7,666.4" fill="#3f3fdc"/>
<polygon points="216.4,670.4 213.8,673.3 210.6,669.5 213.1,666.6" fill="#17176a"/>
<polygon points="118.7,623.4 114.7,626.5 111.1,625.2 115.1,622.1" fill="#3f3fdc"/>
<polygon points="217.1,697.3 214.2,700.4 210.8,696.0 213.6,692.9" fill="#3f3fdc"/>
<polygon points="216.1,723.8 212.5,725.8 209.9,720.8 213.4,718.8" fill="#17176a"/>
<polygon points="213.5,697.5 210.9,700.2 207.8,696.3 210.4,693.5" fill="#17176a"/>
<polygon points="156.9,614.4 153.7,616.8 149.0,614.8 152.2,612.4" fill="#17176a"/>
<polygon points="82.6,696.7 79.8,701.7 76.5,699.5 79.2,694.6" fill="#17176a"/>
<polygon points="77.3,661.1 74.3,665.9 71.6,663.9 74.7,659.1" fill="#3f3fdc"/>
<polygon points="72.2,699.5 70.0,704.7 66.9,703.1 69.1,697.9" fill="#3f3fdc"/>
<polygon points="69.3,700.1 67.3,704.8 64.5,703.3 66.5,698.7" fill="#17176a"/>
<polygon points="197.1,621.4 194.8,622.2 190.2,619.3 192.5,618.5" fill="#3f3fdc"/>
<polygon points="67.0,690.3 64.5,695.2 62.2,692.7 64.6,687.8" fill="#17176a"/>
<polygon points="152.7,605.4 148.8,607.5 144.7,605.3 148.7,603.1" fill="#3f3fdc"/>
<polygon points="75.6,642.4 71.8,646.6 70.5,645.0 74.3,640.8" fill="#17176a"/>
<polygon points="226.7,644.5 225.9,646.6 222.0,642.6 222.9,640.5" fill="#3f3fdc"/>
<polygon points="224.0,643.1 223.3,644.9 219.8,641.3 220.5,639.4" fill="#17176a"/>
<polygon points="166.8,606.1 165.1,607.5 159.4,605.7 161.1,604.3" fill="#3f3fdc"/>
<polygon points="62.8,705.1 60.7,710.2 58.4,708.2 60.5,703.1" fill="#17176a"/>
<polygon points="162.3,605.4 160.8,606.6 155.7,605.0 157.2,603.8" fill="#17176a"/>
<polygon points="68.3,655.3 65.3,660.1 63.4,658.9 66.4,654.1" fill="#3f3fdc"/>
<polygon points="201.2,618.9 199.8,619.1 195.0,616.4 196.4,616.2" fill="#17176a"/>
<polygon points="243.7,711.7 241.5,713.1 239.9,707.8 242.0,706.3" fill="#3f3fdc"/>
<polygon points="241.7,710.6 239.7,711.9 238.3,707.1 240.3,705.8" fill="#17176a"/>
<polygon points="99.5,616.7 94.6,619.5 93.6,619.4 98.4,616.5" fill="#3f3fdc"/>
<polygon points="233.8,649.6 233.6,651.7 230.2,647.4 230.4,645.4" fill="#3f3fdc"/>
<polygon points="236.0,651.9 235.8,653.7 232.7,649.9 232.9,648.1" fill="#17176a"/>
<polygon points="142.5,604.9 136.5,605.9 134.7,605.6 140.7,604.6" fill="#3f3fdc"/>
<polygon points="55.5,722.6 53.5,727.5 51.9,724.9 53.8,720.0" fill="#17176a"/>
<polygon points="112.6,609.6 107.7,611.6 105.7,612.0 110.6,610.0" fill="#17176a"/>
<polygon points="56.0,708.6 54.5,713.9 52.5,712.5 54.0,707.1" fill="#3f3fdc"/>
<polygon points="60.0,659.5 57.3,664.2 56.5,662.3 59.3,657.5" fill="#17176a"/>
<polygon points="245.8,698.8 244.4,701.9 242.4,697.3 243.8,694.2" fill="#3f3fdc"/>
<polygon points="58.1,661.0 55.6,665.3 54.9,663.5 57.4,659.2" fill="#3f3fdc"/>
<polygon points="243.9,675.2 243.0,678.1 240.6,673.5 241.5,670.6" fill="#3f3fdc"/>
<polygon points="210.5,622.3 209.9,622.2 205.2,619.1 205.8,619.2" fill="#17176a"/>
<polygon points="213.0,623.7 212.4,623.7 208.2,620.9 208.7,620.9" fill="#3f3fdc"/>
<polygon points="90.0,621.3 85.4,624.5 85.0,624.6 89.6,621.4" fill="#3f3fdc"/>
<polygon points="53.0,674.9 51.1,680.3 49.8,679.0 51.7,673.7" fill="#17176a"/>
<polygon points="200.5,616.9 200.0,616.4 195.0,613.9 195.5,614.3" fill="#17176a"/>
<polygon points="249.1,681.0 247.9,682.1 246.2,676.6 247.3,675.5" fill="#17176a"/>
<polygon points="81.7,625.5 77.6,629.1 79.4,628.2 83.5,624.6" fill="#17176a"/>
<polygon points="176.3,609.3 175.2,608.1 169.8,607.0 171.0,608.3" fill="#17176a"/>
<polygon points="247.8,671.7 247.8,673.5 245.6,668.3 245.6,666.5" fill="#17176a"/>
<polygon points="47.4,680.1 45.8,685.7 45.1,684.4 46.7,678.9" fill="#3f3fdc"/>
<polygon points="47.4,705.8 46.2,711.2 45.2,709.0 46.4,703.6" fill="#17176a"/>
<polygon points="249.0,674.3 249.0,675.8 247.0,671.1 247.0,669.6" fill="#3f3fdc"/>
<polygon points="252.1,720.8 251.3,723.6 250.0,718.4 250.9,715.7" fill="#3f3fdc"/>
<polygon points="149.4,606.4 143.9,605.1 141.9,607.4 147.3,608.8" fill="#3f3fdc"/>
<polygon points="244.3,661.5 244.8,662.7 242.1,657.6 241.6,656.3" fill="#3f3fdc"/>
<polygon points="220.1,633.0 222.6,634.0 219.1,630.0 216.6,629.0" fill="#3f3fdc"/>
<polygon points="220.0,631.8 222.3,632.7 219.1,629.1 216.8,628.2" fill="#17176a"/>
<polygon points="183.4,614.3 184.8,613.3 179.6,611.3 178.2,612.4" fill="#3f3fdc"/>
<polygon points="116.8,611.7 111.6,613.9 113.1,615.0 118.3,612.9" fill="#3f3fdc"/>
<polygon points="116.4,613.2 111.7,615.1 113.1,616.2 117.8,614.2" fill="#17176a"/>
<polygon points="45.2,685.7 44.2,691.3 44.3,689.5 45.3,683.9" fill="#3f3fdc"/>
<polygon points="245.9,667.3 247.1,668.2 245.1,662.7 243.9,661.8" fill="#3f3fdc"/>
<polygon points="43.3,737.3 43.0,743.3 42.7,743.0 42.9,736.9" fill="#17176a"/>
<polygon points="43.5,734.7 43.3,740.1 43.0,739.9 43.2,734.4" fill="#3f3fdc"/>
<polygon points="66.3,642.9 64.0,647.6 66.8,646.0 69.1,641.3" fill="#3f3fdc"/>
<polygon points="43.0,700.5 42.9,706.3 42.8,704.6 42.9,698.8" fill="#3f3fdc"/>
<polygon points="126.1,612.1 122.4,615.1 126.5,616.3 130.2,613.3" fill="#3f3fdc"/>
<polygon points="127.2,609.9 123.8,612.6 127.5,613.7 130.9,611.0" fill="#17176a"/>
<polygon points="148.7,686.0 143.9,686.9 142.8,682.5 147.7,681.5" fill="#15155e"/>
<polygon points="146.8,676.4 141.9,676.2 142.2,671.7 147.1,671.9" fill="#7f7a1e"/>
<polygon points="164.3,697.8 159.6,698.8 158.2,694.4 163.0,693.4" fill="#7f7a1e"/>
<polygon points="164.9,707.2 160.7,709.4 158.1,705.4 162.3,703.2" fill="#7f7a1e"/>
<polygon points="152.4,687.5 147.0,688.5 145.9,683.6 151.3,682.6" fill="#8c8622"/>
<polygon points="150.3,676.2 144.8,676.0 145.1,670.9 150.6,671.2" fill="#f0e428"/>
<polygon points="150.1,707.9 144.6,708.3 144.2,703.2 149.7,702.9" fill="#f0e428"/>
<polygon points="150.2,696.9 144.8,698.3 143.4,693.5 148.7,692.0" fill="#a39c28"/>
<polygon points="147.5,718.3 142.2,719.5 141.0,714.6 146.4,713.4" fill="#f0e428"/>
<polygon points="133.6,707.6 128.8,707.6 129.2,703.0 134.1,703.0" fill="#15155e"/>
<polygon points="160.1,718.5 155.2,720.5 152.8,715.9 157.6,713.9" fill="#e6da26"/>
<polygon points="142.5,730.1 137.0,730.4 137.0,725.4 142.4,725.1" fill="#8c8622"/>
<polygon points="161.2,697.5 155.9,698.6 154.4,693.7 159.7,692.6" fill="#7a7420"/>
<polygon points="162.6,706.7 157.9,709.1 155.1,704.7 159.7,702.3" fill="#e6da26"/>
<polygon points="162.7,676.6 157.2,676.8 156.7,671.8 162.2,671.6" fill="#a39c28"/>
<polygon points="141.2,687.8 135.8,688.8 135.0,683.8 140.4,682.8" fill="#8c8622"/>
<polygon points="164.0,687.7 158.6,687.6 158.2,682.6 163.6,682.6" fill="#e6da26"/>
<polygon points="155.5,666.0 150.5,667.9 148.2,663.7 153.2,661.8" fill="#f0e428"/>
<polygon points="139.1,676.3 133.7,677.5 132.9,672.6 138.2,671.4" fill="#f0e428"/>
<polygon points="137.1,708.3 131.7,708.2 132.2,703.2 137.6,703.2" fill="#a39c28"/>
<polygon points="174.6,719.9 170.3,721.5 168.1,717.2 172.4,715.6" fill="#15155e"/>
<polygon points="138.5,696.1 134.0,699.2 131.1,695.2 135.6,692.1" fill="#3f3fdc"/>
<polygon points="142.0,665.7 136.8,667.4 135.2,663.1 140.5,661.4" fill="#f0e428"/>
<polygon points="136.5,716.9 131.9,720.0 129.0,716.0 133.6,712.9" fill="#8c8622"/>
<polygon points="166.0,667.2 160.6,666.9 160.3,662.3 165.7,662.6" fill="#8c8622"/>
<polygon points="172.0,718.3 167.2,720.0 164.8,715.3 169.6,713.5" fill="#f0e428"/>
<polygon points="131.8,730.6 126.5,731.8 126.0,726.9 131.2,725.7" fill="#e6da26"/>
<polygon points="173.0,698.1 168.0,699.0 166.4,694.0 171.4,693.1" fill="#a39c28"/>
<polygon points="172.7,709.1 168.1,710.9 165.6,706.1 170.2,704.3" fill="#7a7420"/>
<polygon points="172.9,677.2 167.8,677.9 166.4,672.9 171.5,672.2" fill="#7a7420"/>
<polygon points="124.1,707.4 120.2,710.5 117.6,707.1 121.5,704.0" fill="#15155e"/>
<polygon points="164.3,659.1 159.7,660.0 157.8,656.5 162.4,655.6" fill="#7f7a1e"/>
<polygon points="129.2,687.2 124.3,689.8 122.3,685.5 127.1,682.9" fill="#d8cc24"/>
<polygon points="128.8,697.7 124.2,697.9 124.7,693.4 129.3,693.1" fill="#7f7a1e"/>
<polygon points="175.9,688.1 170.8,688.0 170.1,682.9 175.3,683.0" fill="#e6da26"/>
<polygon points="148.7,656.4 143.4,657.7 141.9,653.9 147.1,652.6" fill="#e6da26"/>
<polygon points="129.8,668.1 124.5,669.1 124.4,664.6 129.7,663.6" fill="#7a7420"/>
<polygon points="128.6,676.0 124.0,678.9 121.7,674.7 126.3,671.8" fill="#a39c28"/>
<polygon points="126.9,708.5 122.6,711.9 119.7,708.1 124.0,704.7" fill="#3f3fdc"/>
<polygon points="133.3,657.4 128.8,659.4 126.9,656.3 131.4,654.3" fill="#8c8622"/>
<polygon points="179.5,668.8 174.9,668.6 174.0,664.4 178.6,664.6" fill="#8c8622"/>
<polygon points="161.2,657.9 156.1,658.9 154.0,655.1 159.1,654.0" fill="#e6da26"/>
<polygon points="126.2,699.7 121.0,700.0 121.5,694.9 126.7,694.6" fill="#3f3fdc"/>
<polygon points="125.4,720.9 120.3,722.2 119.8,717.3 124.9,716.0" fill="#f0e428"/>
<polygon points="178.3,721.1 173.8,721.1 173.0,716.5 177.4,716.5" fill="#7f7a1e"/>
<polygon points="137.1,657.4 132.1,659.7 130.0,656.3 135.0,654.0" fill="#7a7420"/>
<polygon points="176.7,668.8 171.6,668.6 170.6,663.9 175.7,664.1" fill="#e6da26"/>
<polygon points="181.0,721.3 176.1,721.3 175.2,716.2 180.1,716.2" fill="#d8cc24"/>
<polygon points="120.8,730.1 116.2,732.8 114.4,728.4 119.1,725.7" fill="#e6da26"/>
<polygon points="183.2,700.2 178.5,700.9 176.9,695.8 181.6,695.1" fill="#8c8622"/>
<polygon points="116.5,690.7 112.7,693.7 110.5,690.2 114.3,687.2" fill="#15155e"/>
<polygon points="173.3,658.1 168.7,659.2 166.0,655.2 170.6,654.1" fill="#f0e428"/>
<polygon points="184.2,711.5 179.6,712.3 177.9,707.3 182.6,706.5" fill="#e6da26"/>
<polygon points="183.6,688.6 179.6,689.6 177.8,685.0 181.8,684.1" fill="#7f7a1e"/>
<polygon points="184.4,677.8 180.3,679.7 177.6,674.9 181.8,673.0" fill="#3f3fdc"/>
<polygon points="123.3,666.1 119.1,668.7 117.6,665.3 121.8,662.7" fill="#8c8622"/>
<polygon points="119.3,688.4 115.0,691.8 112.6,687.9 116.8,684.5" fill="#e6da26"/>
<polygon points="112.0,711.1 107.6,712.5 107.3,708.0 111.6,706.7" fill="#7f7a1e"/>
<polygon points="186.9,690.6 182.5,691.6 180.5,686.6 185.0,685.5" fill="#f0e428"/>
<polygon points="120.7,668.2 116.1,671.0 114.4,667.3 119.1,664.4" fill="#8c8622"/>
<polygon points="156.3,649.5 150.8,649.6 150.3,646.3 155.7,646.2" fill="#7a7420"/>
<polygon points="116.8,678.8 112.1,681.1 110.9,676.4 115.6,674.1" fill="#8c8622"/>
<polygon points="124.8,659.9 119.7,660.7 120.4,656.7 125.5,655.8" fill="#f0e428"/>
<polygon points="144.8,650.0 139.4,651.2 138.2,648.1 143.6,646.9" fill="#f0e428"/>
<polygon points="115.4,712.1 110.6,713.6 110.2,708.7 115.0,707.2" fill="#f0e428"/>
<polygon points="117.2,719.2 113.3,721.9 111.7,718.0 115.7,715.4" fill="#8c8622"/>
<polygon points="115.6,700.8 110.9,703.1 109.7,698.6 114.3,696.2" fill="#f0e428"/>
<polygon points="114.9,721.5 110.5,724.4 108.7,720.2 113.1,717.2" fill="#8c8622"/>
<polygon points="187.5,669.5 183.4,670.5 180.9,665.8 185.0,664.8" fill="#d8cc24"/>
<polygon points="168.9,649.5 164.6,650.8 161.3,647.6 165.6,646.4" fill="#a39c28"/>
<polygon points="181.5,658.6 178.1,659.7 175.2,656.0 178.6,655.0" fill="#8c8622"/>
<polygon points="184.8,659.6 181.0,660.8 177.8,656.8 181.6,655.6" fill="#f0e428"/>
<polygon points="131.3,650.3 126.1,650.8 127.2,647.4 132.4,646.9" fill="#7a7420"/>
<polygon points="113.1,734.4 109.0,735.6 108.9,731.1 113.0,729.9" fill="#8c8622"/>
<polygon points="191.8,723.8 187.2,722.8 186.9,717.7 191.5,718.7" fill="#3f3fdc"/>
<polygon points="110.4,734.7 105.9,736.1 105.8,731.1 110.3,729.7" fill="#e6da26"/>
<polygon points="193.1,703.5 188.7,703.6 187.6,698.4 192.0,698.3" fill="#a39c28"/>
<polygon points="193.7,713.3 189.3,712.9 188.6,707.7 193.0,708.1" fill="#3f3fdc"/>
<polygon points="194.0,681.4 190.0,682.4 188.1,677.3 192.1,676.3" fill="#d8cc24"/>
<polygon points="109.6,689.7 105.8,693.4 103.5,689.7 107.3,686.0" fill="#f0e428"/>
<polygon points="108.6,680.3 104.7,681.8 104.6,677.3 108.5,675.9" fill="#8c8622"/>
<polygon points="178.3,653.1 173.4,652.4 172.0,649.0 176.9,649.7" fill="#7a7420"/>
<polygon points="114.0,660.9 109.3,662.4 110.0,658.3 114.7,656.9" fill="#a39c28"/>
<polygon points="194.8,694.0 190.5,693.4 189.8,688.2 194.2,688.8" fill="#7a7420"/>
<polygon points="109.2,669.7 104.9,672.7 103.7,668.9 108.0,665.9" fill="#3f3fdc"/>
<polygon points="103.3,711.6 99.9,714.8 98.1,711.3 101.6,708.1" fill="#15155e"/>
<polygon points="164.4,644.3 159.5,643.9 159.0,641.3 163.9,641.7" fill="#7f7a1e"/>
<polygon points="108.5,703.4 104.7,704.8 104.6,700.3 108.4,698.9" fill="#15155e"/>
<polygon points="149.4,644.2 144.0,644.1 144.4,641.1 149.9,641.2" fill="#f0e428"/>
<polygon points="106.6,682.5 102.2,684.1 102.1,679.1 106.4,677.5" fill="#3f3fdc"/>
<polygon points="105.8,712.6 102.0,716.2 100.0,712.3 103.9,708.8" fill="#7a7420"/>
<polygon points="161.1,643.8 155.6,643.4 155.1,640.4 160.6,640.9" fill="#3f3fdc"/>
<polygon points="106.1,703.7 101.8,705.3 101.7,700.3 106.0,698.7" fill="#e6da26"/>
<polygon points="194.2,671.4 190.8,671.4 189.1,667.0 192.6,667.0" fill="#7f7a1e"/>
<polygon points="122.3,650.5 117.3,652.9 116.5,650.1 121.5,647.8" fill="#f0e428"/>
<polygon points="138.3,643.3 132.9,644.8 131.8,642.4 137.1,640.8" fill="#3f3fdc"/>
<polygon points="105.5,723.0 101.9,726.8 99.8,723.3 103.4,719.4" fill="#f0e428"/>
<polygon points="197.2,672.5 193.3,672.5 191.5,667.6 195.4,667.6" fill="#a39c28"/>
<polygon points="193.5,663.9 189.2,662.7 187.9,658.5 192.2,659.7" fill="#7a7420"/>
<polygon points="198.6,725.3 195.0,724.3 194.7,719.7 198.3,720.7" fill="#8c8622"/>
<polygon points="170.0,644.9 165.5,644.4 163.9,641.9 168.3,642.4" fill="#7f7a1e"/>
<polygon points="103.2,737.3 99.6,739.0 99.4,734.6 102.9,732.9" fill="#7f7a1e"/>
<polygon points="200.9,727.2 196.9,726.1 196.6,720.9 200.6,722.1" fill="#e6da26"/>
<polygon points="198.4,704.5 194.8,703.6 194.4,699.0 197.9,699.8" fill="#7f7a1e"/>
<polygon points="173.2,644.7 168.3,644.1 166.4,641.3 171.4,641.9" fill="#3f3fdc"/>
<polygon points="122.8,644.4 118.2,646.1 117.9,644.2 122.5,642.5" fill="#8c8622"/>
<polygon points="101.4,737.1 97.5,739.0 97.2,734.1 101.1,732.2" fill="#3f3fdc"/>
<polygon points="201.2,706.9 197.2,706.0 196.8,700.8 200.7,701.7" fill="#d8cc24"/>
<polygon points="189.4,654.7 186.0,655.0 182.6,651.3 186.0,651.0" fill="#3f3fdc"/>
<polygon points="202.0,717.6 198.1,716.4 197.9,711.2 201.8,712.5" fill="#8c8622"/>
<polygon points="202.6,685.3 198.7,684.3 198.2,679.1 202.1,680.1" fill="#3f3fdc"/>
<polygon points="125.8,644.1 120.6,646.0 120.3,643.8 125.5,642.0" fill="#a39c28"/>
<polygon points="102.1,671.1 98.6,673.5 98.4,669.8 101.9,667.3" fill="#15155e"/>
<polygon points="104.3,664.5 100.4,665.6 102.0,661.2 106.0,660.2" fill="#7a7420"/>
<polygon points="98.6,695.2 94.8,696.5 95.0,691.3 98.9,690.0" fill="#d8cc24"/>
<polygon points="99.6,685.6 96.2,687.2 96.1,682.7 99.5,681.1" fill="#7f7a1e"/>
<polygon points="99.9,673.0 96.0,675.7 95.8,671.6 99.7,668.9" fill="#a39c28"/>
<polygon points="203.9,696.0 200.2,695.0 199.7,689.8 203.5,690.7" fill="#f0e428"/>
<polygon points="111.4,654.0 106.9,655.8 108.1,652.4 112.6,650.6" fill="#d8cc24"/>
<polygon points="93.7,707.4 90.4,709.4 90.0,705.1 93.3,703.1" fill="#8c8622"/>
<polygon points="149.9,640.0 144.4,640.0 144.7,636.9 150.2,637.0" fill="#d8cc24"/>
<polygon points="97.8,685.0 94.1,686.8 94.0,681.8 97.7,680.0" fill="#3f3fdc"/>
<polygon points="97.0,715.1 93.5,718.3 92.3,714.0 95.8,710.8" fill="#3f3fdc"/>
<polygon points="135.4,639.3 130.6,639.9 132.0,637.5 136.8,637.0" fill="#7f7a1e"/>
<polygon points="96.1,706.7 92.4,708.9 92.0,704.1 95.7,701.8" fill="#7a7420"/>
<polygon points="162.6,639.7 157.4,639.5 155.5,636.8 160.7,637.0" fill="#f0e428"/>
<polygon points="184.9,648.0 181.1,647.7 177.8,644.7 181.6,645.0" fill="#f0e428"/>
<polygon points="138.3,639.4 132.9,640.0 134.5,637.4 139.8,636.8" fill="#8c8622"/>
<polygon points="95.2,728.2 91.7,729.8 91.7,724.7 95.3,723.1" fill="#8c8622"/>
<polygon points="205.0,677.6 201.5,676.1 200.6,671.3 204.2,672.8" fill="#d8cc24"/>
<polygon points="202.8,666.8 200.1,667.2 197.2,662.7 199.8,662.2" fill="#f0e428"/>
<polygon points="113.5,648.2 109.1,650.3 109.5,648.4 113.8,646.3" fill="#7f7a1e"/>
<polygon points="115.8,647.6 111.0,649.9 111.4,647.8 116.2,645.4" fill="#d8cc24"/>
<polygon points="207.3,730.4 204.0,729.4 203.4,724.2 206.8,725.1" fill="#d8cc24"/>
<polygon points="197.8,659.1 193.9,657.4 192.1,653.8 196.0,655.5" fill="#3f3fdc"/>
<polygon points="130.6,638.8 125.8,640.4 125.7,639.2 130.5,637.5" fill="#7f7a1e"/>
<polygon points="174.5,641.1 169.6,640.1 167.5,638.0 172.5,639.0" fill="#3f3fdc"/>
<polygon points="92.9,739.6 89.6,741.7 89.4,736.7 92.7,734.7" fill="#7a7420"/>
<polygon points="209.0,709.3 206.0,709.6 204.7,704.2 207.8,704.0" fill="#d8cc24"/>
<polygon points="209.4,721.0 206.3,720.8 205.3,715.5 208.4,715.6" fill="#f0e428"/>
<polygon points="128.1,639.5 122.8,641.4 122.7,639.9 128.0,638.1" fill="#a39c28"/>
<polygon points="90.2,698.3 87.6,701.7 86.4,698.2 89.0,694.9" fill="#15155e"/>
<polygon points="209.2,688.5 206.0,687.7 205.4,682.4 208.6,683.2" fill="#a39c28"/>
<polygon points="208.4,697.8 205.8,697.9 204.8,693.1 207.4,693.0" fill="#7f7a1e"/>
<polygon points="96.8,666.6 93.1,669.7 93.4,666.2 97.1,663.1" fill="#7a7420"/>
<polygon points="91.9,697.5 89.0,701.3 87.8,697.4 90.7,693.7" fill="#8c8622"/>
<polygon points="100.8,657.9 97.4,659.4 99.7,655.6 103.1,654.1" fill="#8c8622"/>
<polygon points="191.3,649.4 188.3,648.4 185.5,645.6 188.5,646.5" fill="#8c8622"/>
<polygon points="210.1,700.6 207.3,700.7 206.1,695.3 209.0,695.2" fill="#f0e428"/>
<polygon points="91.9,675.6 88.9,679.7 87.8,676.6 90.9,672.6" fill="#8c8622"/>
<polygon points="163.4,638.0 158.7,637.8 156.3,635.8 161.0,636.0" fill="#15155e"/>
<polygon points="193.5,650.2 190.2,649.2 187.0,646.0 190.4,647.0" fill="#7a7420"/>
<polygon points="90.5,707.4 87.9,709.9 87.4,705.8 90.0,703.3" fill="#8c8622"/>
<polygon points="90.5,687.1 87.7,690.9 86.5,687.0 89.3,683.3" fill="#8c8622"/>
<polygon points="145.9,636.3 140.3,636.8 141.5,634.3 147.1,633.8" fill="#8c8622"/>
<polygon points="90.0,719.8 87.0,722.1 86.7,717.3 89.7,714.9" fill="#3f3fdc"/>
<polygon points="160.0,637.4 154.8,637.1 152.1,635.0 157.3,635.2" fill="#8c8622"/>
<polygon points="88.9,709.0 86.0,711.8 85.4,707.2 88.3,704.4" fill="#7a7420"/>
<polygon points="87.2,731.7 84.7,734.1 84.3,729.9 86.8,727.5" fill="#15155e"/>
<polygon points="187.6,645.0 184.9,644.5 181.3,642.3 184.0,642.8" fill="#7f7a1e"/>
<polygon points="214.1,683.5 211.5,681.9 210.7,677.6 213.2,679.1" fill="#8c8622"/>
<polygon points="89.1,731.5 86.3,734.1 85.9,729.4 88.7,726.8" fill="#e6da26"/>
<polygon points="184.8,643.9 181.8,643.3 177.8,640.9 180.8,641.5" fill="#7a7420"/>
<polygon points="212.2,681.0 209.3,679.3 208.4,674.5 211.2,676.2" fill="#3f3fdc"/>
<polygon points="114.8,643.3 110.5,645.2 111.8,643.8 116.0,641.9" fill="#15155e"/>
<polygon points="209.4,670.6 206.9,669.7 204.7,665.1 207.2,665.9" fill="#3f3fdc"/>
<polygon points="106.9,649.2 102.7,651.9 104.0,649.7 108.2,647.0" fill="#a39c28"/>
<polygon points="135.2,636.6 129.8,637.7 131.7,636.5 137.1,635.4" fill="#7a7420"/>
<polygon points="116.8,642.8 112.1,644.9 113.6,643.3 118.3,641.2" fill="#3f3fdc"/>
<polygon points="204.7,662.2 202.5,661.6 199.4,657.4 201.6,658.1" fill="#8c8622"/>
<polygon points="170.8,638.6 167.4,638.1 162.9,636.5 166.3,637.0" fill="#e6da26"/>
<polygon points="213.8,734.8 211.2,732.4 211.4,727.6 214.1,730.0" fill="#3f3fdc"/>
<polygon points="87.8,745.2 85.5,746.5 85.7,741.9 88.0,740.5" fill="#15155e"/>
<polygon points="212.9,712.4 211.0,713.3 209.8,708.5 211.7,707.6" fill="#15155e"/>
<polygon points="213.4,722.4 211.3,722.4 210.5,717.5 212.6,717.5" fill="#15155e"/>
<polygon points="86.4,744.8 83.9,746.3 84.1,741.1 86.7,739.6" fill="#d8cc24"/>
<polygon points="214.3,690.8 212.4,691.5 211.2,686.6 213.2,685.9" fill="#7f7a1e"/>
<polygon points="214.6,712.8 212.5,713.8 211.1,708.5 213.3,707.5" fill="#e6da26"/>
<polygon points="214.8,724.9 212.4,724.9 211.5,719.5 213.9,719.5" fill="#3f3fdc"/>
<polygon points="215.8,692.8 213.7,693.6 212.4,688.2 214.6,687.5" fill="#a39c28"/>
<polygon points="94.6,660.9 91.7,663.1 93.8,659.4 96.7,657.2" fill="#f0e428"/>
<polygon points="89.3,669.9 86.5,672.8 87.5,668.9 90.4,666.0" fill="#8c8622"/>
<polygon points="199.4,654.6 196.7,652.9 194.1,650.0 196.7,651.7" fill="#15155e"/>
<polygon points="85.3,700.6 83.2,704.8 82.0,701.4 84.1,697.2" fill="#f0e428"/>
<polygon points="216.2,704.2 213.9,702.6 213.7,697.4 216.0,699.0" fill="#a39c28"/>
<polygon points="84.8,680.7 82.4,683.5 82.8,679.1 85.3,676.3" fill="#d8cc24"/>
<polygon points="200.8,655.5 197.9,653.6 194.9,650.4 197.9,652.3" fill="#8c8622"/>
<polygon points="124.4,638.7 119.4,640.5 120.3,640.0 125.4,638.2" fill="#a39c28"/>
<polygon points="84.1,691.4 81.9,694.1 81.5,689.4 83.8,686.7" fill="#3f3fdc"/>
<polygon points="182.1,641.9 178.4,640.4 175.7,639.3 179.4,640.8" fill="#8c8622"/>
<polygon points="83.6,723.9 81.3,725.9 81.3,720.9 83.6,718.8" fill="#7a7420"/>
<polygon points="155.9,634.0 151.1,633.7 147.1,634.3 151.8,634.7" fill="#e6da26"/>
<polygon points="192.0,648.2 190.0,647.3 185.8,644.5 187.8,645.4" fill="#f0e428"/>
<polygon points="83.6,713.5 81.5,716.9 80.9,712.6 83.0,709.2" fill="#3f3fdc"/>
<polygon points="181.3,641.5 177.2,639.9 174.2,638.6 178.3,640.3" fill="#f0e428"/>
<polygon points="218.3,685.6 217.1,686.2 215.4,681.5 216.6,680.9" fill="#7f7a1e"/>
<polygon points="140.3,634.9 135.3,635.6 138.5,635.5 143.6,634.8" fill="#7a7420"/>
<polygon points="83.0,736.5 80.9,738.8 80.8,733.9 82.9,731.5" fill="#d8cc24"/>
<polygon points="108.7,645.5 104.4,648.3 106.1,647.0 110.3,644.2" fill="#3f3fdc"/>
<polygon points="217.1,684.1 215.7,684.8 213.9,679.5 215.3,678.9" fill="#8c8622"/>
<polygon points="169.1,637.1 164.4,636.1 162.2,636.1 166.9,637.1" fill="#8c8622"/>
<polygon points="98.6,653.2 95.2,656.1 97.3,653.7 100.7,650.7" fill="#f0e428"/>
<polygon points="214.0,674.9 212.0,673.1 210.1,668.5 212.2,670.3" fill="#8c8622"/>
<polygon points="166.5,636.5 161.4,635.5 158.9,635.4 164.1,636.5" fill="#3f3fdc"/>
<polygon points="220.1,739.5 218.5,739.8 217.7,734.9 219.2,734.5" fill="#15155e"/>
<polygon points="210.3,667.0 208.2,664.9 205.7,660.9 207.8,663.0" fill="#e6da26"/>
<polygon points="218.9,737.5 217.2,737.9 216.2,732.3 218.0,732.0" fill="#7a7420"/>
<polygon points="220.6,719.7 218.9,717.7 218.9,713.1 220.6,715.2" fill="#8c8622"/>
<polygon points="219.5,718.8 217.6,716.5 217.6,711.4 219.5,713.7" fill="#3f3fdc"/>
<polygon points="219.3,728.6 217.4,726.3 217.4,721.2 219.3,723.5" fill="#d8cc24"/>
<polygon points="87.1,665.9 85.1,668.3 87.2,664.9 89.2,662.5" fill="#8c8622"/>
<polygon points="219.4,696.3 217.8,696.5 216.9,690.9 218.6,690.7" fill="#7a7420"/>
<polygon points="82.7,676.2 80.7,679.2 81.9,675.7 83.9,672.7" fill="#8c8622"/>
<polygon points="78.7,707.8 77.4,712.0 76.5,709.2 77.9,705.0" fill="#8c8622"/>
<polygon points="88.2,664.7 85.9,667.4 88.3,663.7 90.5,661.0" fill="#e6da26"/>
<polygon points="129.5,636.5 125.7,638.0 129.5,637.5 133.2,636.0" fill="#3f3fdc"/>
<polygon points="116.2,641.5 112.5,643.7 115.9,642.4 119.5,640.2" fill="#7a7420"/>
<polygon points="84.1,674.1 81.9,677.4 83.2,673.5 85.4,670.2" fill="#f0e428"/>
<polygon points="79.9,704.9 78.4,709.6 77.5,706.5 79.0,701.8" fill="#8c8622"/>
<polygon points="205.2,660.0 203.2,657.8 199.9,654.3 201.9,656.5" fill="#f0e428"/>
<polygon points="218.9,708.7 217.2,706.0 217.3,701.1 219.0,703.9" fill="#7a7420"/>
<polygon points="81.3,685.5 79.4,689.2 79.8,685.2 81.7,681.5" fill="#f0e428"/>
<polygon points="177.9,641.5 176.6,640.3 172.1,639.1 173.4,640.3" fill="#8c8622"/>
<polygon points="187.0,644.6 186.8,643.8 182.0,641.3 182.1,642.1" fill="#a39c28"/>
<polygon points="80.5,695.0 79.1,699.9 78.2,697.1 79.6,692.2" fill="#3f3fdc"/>
<polygon points="196.5,652.9 195.4,651.5 191.2,648.3 192.3,649.7" fill="#3f3fdc"/>
<polygon points="161.7,635.2 157.9,634.2 154.2,635.4 157.9,636.3" fill="#8c8622"/>
<polygon points="80.6,727.3 79.0,731.3 78.5,727.3 80.1,723.3" fill="#f0e428"/>
<polygon points="175.2,640.5 173.8,639.2 168.7,637.8 170.2,639.2" fill="#e6da26"/>
<polygon points="78.9,718.6 77.3,721.0 77.4,715.9 79.0,713.5" fill="#e6da26"/>
<polygon points="158.6,635.0 154.4,633.9 150.2,635.2 154.4,636.3" fill="#f0e428"/>
<polygon points="93.9,657.8 91.9,660.5 94.7,657.6 96.6,655.0" fill="#8c8622"/>
<polygon points="100.8,650.8 99.1,652.9 103.0,650.0 104.8,647.9" fill="#7a7420"/>
<polygon points="143.8,635.7 138.1,636.1 138.6,637.4 144.4,637.0" fill="#f0e428"/>
<polygon points="79.6,739.5 78.1,742.4 78.0,737.5 79.5,734.6" fill="#f0e428"/>
<polygon points="218.5,681.1 217.2,678.6 215.6,674.5 216.9,677.1" fill="#8c8622"/>
<polygon points="219.4,690.4 217.8,687.2 217.1,682.6 218.6,685.8" fill="#e6da26"/>
<polygon points="93.5,658.5 91.4,661.4 94.5,658.2 96.6,655.3" fill="#f0e428"/>
<polygon points="218.1,680.6 216.6,677.8 214.9,673.3 216.4,676.1" fill="#f0e428"/>
<polygon points="212.8,670.9 212.5,670.2 209.5,665.3 209.8,666.0" fill="#a39c28"/>
<polygon points="222.5,722.3 221.6,722.2 221.1,717.0 222.0,717.1" fill="#7f7a1e"/>
<polygon points="221.8,722.0 220.8,721.9 220.3,716.1 221.3,716.2" fill="#f0e428"/>
<polygon points="221.2,701.2 220.3,698.8 220.2,694.2 221.2,696.5" fill="#7f7a1e"/>
<polygon points="123.2,639.5 118.9,642.0 121.9,642.0 126.1,639.6" fill="#e6da26"/>
<polygon points="220.5,734.1 219.5,732.1 219.3,726.7 220.3,728.7" fill="#3f3fdc"/>
<polygon points="221.8,702.3 220.7,699.6 220.7,694.5 221.7,697.1" fill="#e6da26"/>
<polygon points="78.2,709.3 77.5,713.7 77.1,711.0 77.8,706.6" fill="#15155e"/>
<polygon points="111.7,645.7 108.0,649.0 111.1,648.4 114.8,645.1" fill="#7a7420"/>
<polygon points="167.5,640.1 164.9,638.3 160.2,638.1 162.8,640.0" fill="#7a7420"/>
<polygon points="85.3,669.9 84.4,672.5 87.1,668.1 88.0,665.5" fill="#8c8622"/>
<polygon points="206.8,664.3 206.4,662.3 203.2,658.6 203.6,660.6" fill="#15155e"/>
<polygon points="77.8,709.2 77.0,714.2 76.5,711.2 77.3,706.2" fill="#8c8622"/>
<polygon points="80.7,678.7 79.1,683.1 80.5,679.9 82.0,675.5" fill="#a39c28"/>
<polygon points="221.1,713.7 220.4,713.0 220.1,707.2 220.8,707.9" fill="#a39c28"/>
<polygon points="207.5,664.1 207.1,661.9 203.5,657.7 204.0,659.9" fill="#d8cc24"/>
<polygon points="77.6,697.3 77.0,700.6 76.9,696.6 77.5,693.2" fill="#15155e"/>
<polygon points="201.6,659.5 201.0,657.1 197.2,654.1 197.9,656.5" fill="#7f7a1e"/>
<polygon points="77.9,687.7 76.7,692.8 77.0,690.3 78.2,685.2" fill="#3f3fdc"/>
<polygon points="132.4,637.8 129.0,639.9 133.1,640.1 136.6,638.0" fill="#d8cc24"/>
<polygon points="191.2,650.3 190.9,648.2 186.2,645.3 186.5,647.5" fill="#f0e428"/>
<polygon points="77.3,699.7 76.6,703.4 76.5,698.9 77.2,695.2" fill="#d8cc24"/>
<polygon points="200.2,657.1 199.5,654.5 195.4,651.2 196.1,653.8" fill="#8c8622"/>
<polygon points="179.6,645.2 179.9,643.3 174.8,641.0 174.5,642.9" fill="#8c8622"/>
<polygon points="77.3,733.1 76.7,736.6 76.6,732.0 77.2,728.5" fill="#8c8622"/>
<polygon points="77.2,722.3 76.6,725.9 76.6,721.3 77.2,717.7" fill="#d8cc24"/>
<polygon points="155.3,638.2 151.2,636.8 147.3,638.6 151.3,640.1" fill="#8c8622"/>
<polygon points="98.9,654.2 97.9,657.5 101.9,654.5 103.0,651.3" fill="#e6da26"/>
<polygon points="77.7,743.5 77.2,747.8 77.1,743.7 77.5,739.5" fill="#3f3fdc"/>
<polygon points="220.9,695.2 220.6,692.5 219.6,687.4 219.9,690.1" fill="#8c8622"/>
<polygon points="92.4,660.9 90.1,665.5 92.8,663.8 95.0,659.3" fill="#8c8622"/>
<polygon points="218.9,684.6 218.7,681.8 216.8,677.0 217.1,679.8" fill="#a39c28"/>
<polygon points="214.1,675.6 214.2,673.1 211.5,668.5 211.4,670.9" fill="#e6da26"/>
</g>
<linearGradient id="h1g" x1="0" y1="0" x2="1" y2="0.3"><stop offset="0" stop-color="#b4b4b4"/><stop offset="0.5" stop-color="#c3c3c3"/><stop offset="1" stop-color="#b9b9b9"/></linearGradient>
<radialGradient id="br1" cx="0.5" cy="0.45" r="0.6"><stop offset="0" stop-color="#d2d2d2"/><stop offset="0.8" stop-color="#c4c4c4"/><stop offset="1" stop-color="#b6b6b6"/></radialGradient>
<g filter="url(#soft)"><path d="M98,710 Q98.5,694 104,684 Q112,674 124,672 Q137,669.5 150,670.3 Q163,671.5 174,675.5 Q186,682 193.5,692 Q201,703 204.3,716 Q206,728 205,740 Q204.5,751 203.5,760 Q203,769 199.5,778 Q196.5,787 193,794 Q189.5,802 184,806.5 Q178,810 170,809.5 Q154,807.5 139,804.5 Q124,802 116.5,798.5 Q111.5,794 111.3,788 Q113,779 114.8,772 Q111,764 108.8,757 Q104,745 101.6,734 Q98.5,722 98,710 Z" fill="url(#h1g)"/>
<path d="M104,700 Q106,684 122,676 Q146,668.5 172,677 Q192,688 198,708 Q202,724 198,738 Q190,748 176,750 Q160,762 144,760 Q124,757 112,742 Q103,722 104,700 Z" fill="url(#br1)"/>
</g>
<g filter="url(#soft2)" opacity="0.55">
<path d="M120,762 Q150,772 196,754 L199,762 Q160,780 118,770 Z" fill="#adadad"/>
<path d="M188,776 Q194,780 193,788 Q189,790 186,786 Z" fill="#9a9a9a"/>
<path d="M112,790 Q140,802 184,806" stroke="#a2a2a2" stroke-width="3" fill="none"/>
<path d="M130,752 Q150,762 172,752" stroke="#a8a8a8" stroke-width="2.5" fill="none"/>
</g>
<g stroke="#b2b2b2" stroke-width="0.9" fill="none" opacity="0.8" filter="url(#soft)">
<path d="M148.2,717.8 q-3.1,-1.3 -6.1,1.5"/>
<path d="M152.6,719.6 q2.7,-0.2 5.5,3.6"/>
<path d="M162.4,732.8 q2.6,-1.2 5.3,1.6"/>
<path d="M119.3,733.8 q-1.2,-0.3 -2.4,3.5"/>
<path d="M190.6,743.7 q-1.6,1.1 -3.3,6.3"/>
<path d="M124.6,683.0 q-0.2,0.1 -0.4,4.3"/>
<path d="M127.2,697.5 q3.1,-1.7 6.3,0.6"/>
<path d="M147.2,735.9 q-0.2,1.6 -0.4,7.2"/>
<path d="M152.0,724.4 q0.4,0.7 0.7,5.3"/>
<path d="M191.8,745.7 q-3.3,-0.2 -6.6,3.6"/>
<path d="M137.2,696.7 q1.3,-0.3 2.7,3.4"/>
<path d="M173.3,707.6 q-2.6,-0.6 -5.3,2.7"/>
<path d="M188.6,736.2 q2.5,-2.0 5.0,0.0"/>
<path d="M184.8,712.1 q-3.0,-1.8 -6.0,0.4"/>
<path d="M117.8,722.3 q-2.1,-0.3 -4.1,3.4"/>
<path d="M119.0,703.3 q-3.9,-1.6 -7.7,0.9"/>
<path d="M121.4,697.8 q2.0,-1.3 4.1,1.3"/>
<path d="M175.8,693.4 q-0.6,1.1 -1.2,6.1"/>
<path d="M127.3,728.8 q3.3,-0.6 6.6,2.9"/>
<path d="M121.3,708.9 q2.1,-0.3 4.2,3.3"/>
<path d="M189.7,733.4 q2.4,1.4 4.9,6.9"/>
<path d="M128.9,707.2 q-3.2,-0.4 -6.5,3.2"/>
<path d="M120.0,745.3 q2.1,-0.4 4.1,3.3"/>
<path d="M173.8,703.1 q1.3,-0.2 2.6,3.5"/>
<path d="M119.2,719.3 q2.5,0.4 5.1,4.8"/>
<path d="M141.7,711.0 q-3.2,-1.6 -6.4,0.8"/>
</g>
<g>
<polygon points="196.8,625.4 200.2,624.6 196.4,620.8 193.0,621.6" fill="#3f3fdc"/>
<polygon points="111.6,615.8 108.7,619.4 113.2,619.7 116.1,616.2" fill="#17176a"/>
<polygon points="254.1,706.3 254.2,707.3 254.3,701.3 254.2,700.4" fill="#3f3fdc"/>
<polygon points="76.9,635.4 73.9,640.1 76.8,640.1 79.8,635.5" fill="#3f3fdc"/>
<polygon points="88.1,628.6 84.5,632.8 87.6,633.6 91.1,629.3" fill="#3f3fdc"/>
<polygon points="44.3,689.0 43.9,695.0 44.5,694.8 45.0,688.8" fill="#17176a"/>
<polygon points="250.0,682.4 251.4,684.8 250.8,679.4 249.3,677.0" fill="#3f3fdc"/>
<polygon points="230.5,649.7 233.2,650.1 230.7,645.0 228.0,644.7" fill="#3f3fdc"/>
<polygon points="209.3,632.8 212.8,632.5 209.6,628.2 206.1,628.5" fill="#17176a"/>
<polygon points="42.3,715.8 42.5,721.8 42.8,721.4 42.6,715.4" fill="#3f3fdc"/>
<polygon points="250.0,679.1 251.2,681.2 250.7,676.4 249.4,674.2" fill="#17176a"/>
<polygon points="207.9,633.8 211.0,633.6 208.2,629.7 205.1,629.9" fill="#3f3fdc"/>
<polygon points="57.5,656.0 55.7,661.3 58.1,660.4 59.9,655.1" fill="#3f3fdc"/>
<polygon points="141.1,615.1 143.1,617.4 148.4,616.4 146.4,614.0" fill="#17176a"/>
<polygon points="99.6,623.3 97.4,627.3 102.1,626.9 104.2,623.0" fill="#3f3fdc"/>
<polygon points="51.3,667.0 49.9,672.7 51.8,671.9 53.2,666.3" fill="#17176a"/>
<polygon points="245.2,671.9 247.3,673.8 246.4,668.4 244.2,666.5" fill="#17176a"/>
<polygon points="245.4,669.0 247.3,670.7 246.4,665.8 244.5,664.2" fill="#3f3fdc"/>
<polygon points="166.5,619.1 171.9,619.3 170.5,616.4 165.1,616.3" fill="#3f3fdc"/>
<polygon points="43.0,743.1 43.4,749.1 43.9,748.3 43.5,742.4" fill="#17176a"/>
<polygon points="238.4,663.1 240.7,663.2 238.7,657.8 236.4,657.7" fill="#3f3fdc"/>
<polygon points="43.1,755.3 43.6,761.2 44.1,760.0 43.6,754.1" fill="#3f3fdc"/>
<polygon points="43.4,731.3 43.9,736.9 44.3,734.8 43.8,729.2" fill="#3f3fdc"/>
<polygon points="252.9,723.5 253.5,723.9 253.9,717.9 253.3,717.5" fill="#17176a"/>
<polygon points="66.0,648.8 64.5,653.7 67.9,652.2 69.4,647.3" fill="#3f3fdc"/>
<polygon points="46.8,681.8 46.5,687.2 48.2,684.8 48.5,679.4" fill="#3f3fdc"/>
<polygon points="251.7,697.5 252.8,699.1 252.8,693.4 251.7,691.7" fill="#17176a"/>
<polygon points="253.5,721.7 254.0,722.1 254.4,716.7 253.8,716.3" fill="#3f3fdc"/>
<polygon points="219.0,644.7 222.8,645.2 220.6,640.5 216.9,640.0" fill="#17176a"/>
<polygon points="179.0,624.1 184.3,624.8 183.2,621.6 177.9,620.9" fill="#17176a"/>
<polygon points="43.1,706.8 43.8,712.4 44.4,710.5 43.7,704.9" fill="#3f3fdc"/>
<polygon points="128.3,618.0 127.9,621.0 133.4,620.4 133.8,617.5" fill="#17176a"/>
<polygon points="130.7,619.4 130.4,622.0 135.4,621.5 135.8,618.9" fill="#3f3fdc"/>
<polygon points="114.6,622.0 112.3,625.3 117.2,625.3 119.5,622.0" fill="#17176a"/>
<polygon points="193.0,629.8 197.8,630.3 196.0,626.5 191.2,626.0" fill="#3f3fdc"/>
<polygon points="251.5,711.9 252.4,712.6 253.0,706.7 252.2,706.0" fill="#3f3fdc"/>
<polygon points="77.6,642.1 75.7,646.7 79.5,646.1 81.5,641.5" fill="#17176a"/>
<polygon points="87.3,635.2 86.3,639.2 91.0,637.8 92.0,633.7" fill="#17176a"/>
<polygon points="44.3,695.9 44.7,701.5 46.1,699.7 45.7,694.1" fill="#3f3fdc"/>
<polygon points="205.2,638.2 209.5,638.5 207.3,634.3 203.0,633.9" fill="#3f3fdc"/>
<polygon points="227.3,656.5 230.5,656.7 228.5,651.6 225.2,651.4" fill="#3f3fdc"/>
<polygon points="247.7,687.6 249.6,689.1 249.5,683.4 247.5,682.0" fill="#17176a"/>
<polygon points="43.6,721.8 44.4,727.6 45.3,726.4 44.5,720.6" fill="#3f3fdc"/>
<polygon points="155.4,622.1 160.7,623.6 162.7,620.8 157.5,619.3" fill="#3f3fdc"/>
<polygon points="42.7,719.3 43.5,724.5 44.3,723.4 43.6,718.2" fill="#17176a"/>
<polygon points="58.9,662.2 58.3,667.2 61.5,665.2 62.1,660.1" fill="#17176a"/>
<polygon points="102.9,629.7 100.7,633.5 105.4,633.3 107.6,629.5" fill="#3f3fdc"/>
<polygon points="140.4,622.2 143.4,624.8 148.2,622.9 145.1,620.2" fill="#3f3fdc"/>
<polygon points="102.2,627.9 100.2,631.3 104.4,631.1 106.4,627.6" fill="#17176a"/>
<polygon points="52.8,674.1 52.6,679.2 55.3,676.9 55.4,671.8" fill="#3f3fdc"/>
<polygon points="137.3,621.2 140.1,623.6 144.4,621.8 141.6,619.5" fill="#17176a"/>
<polygon points="241.6,678.3 244.3,680.1 243.9,674.8 241.3,672.9" fill="#17176a"/>
<polygon points="44.0,749.9 45.2,755.2 46.1,752.6 44.9,747.4" fill="#3f3fdc"/>
<polygon points="234.6,666.7 237.8,667.9 236.8,662.7 233.6,661.5" fill="#3f3fdc"/>
<polygon points="44.4,761.3 45.3,767.1 46.6,766.2 45.7,760.5" fill="#3f3fdc"/>
<polygon points="45.2,736.0 46.3,741.5 47.4,739.5 46.2,734.0" fill="#3f3fdc"/>
<polygon points="69.4,653.0 67.8,658.0 71.4,657.3 73.0,652.3" fill="#17176a"/>
<polygon points="171.5,627.9 177.0,629.4 177.7,626.1 172.2,624.6" fill="#17176a"/>
<polygon points="248.7,702.1 250.3,704.6 251.1,699.3 249.6,696.8" fill="#3f3fdc"/>
<polygon points="48.1,685.9 48.0,691.6 50.2,690.5 50.3,684.9" fill="#3f3fdc"/>
<polygon points="47.3,683.6 47.1,688.7 49.1,687.7 49.2,682.6" fill="#17176a"/>
<polygon points="120.9,627.4 122.0,630.6 127.4,628.9 126.3,625.7" fill="#3f3fdc"/>
<polygon points="215.5,649.6 219.5,650.1 217.5,645.4 213.5,644.9" fill="#17176a"/>
<polygon points="214.7,651.7 218.3,652.2 216.5,648.0 213.0,647.5" fill="#3f3fdc"/>
<polygon points="45.0,711.3 46.2,716.8 47.4,715.0 46.2,709.5" fill="#17176a"/>
<polygon points="185.6,635.4 190.8,636.6 190.3,632.8 185.0,631.6" fill="#17176a"/>
<polygon points="81.5,646.9 80.3,651.4 84.6,650.1 85.8,645.6" fill="#17176a"/>
<polygon points="93.7,639.5 92.3,643.8 97.1,642.9 98.4,638.6" fill="#3f3fdc"/>
<polygon points="248.5,716.6 249.7,719.2 251.1,714.1 250.0,711.5" fill="#17176a"/>
<polygon points="198.2,642.8 203.2,644.9 203.3,641.0 198.3,639.0" fill="#17176a"/>
<polygon points="47.3,700.5 47.8,706.2 49.8,705.3 49.3,699.6" fill="#17176a"/>
<polygon points="222.8,660.2 226.7,661.9 226.0,657.2 222.0,655.4" fill="#3f3fdc"/>
<polygon points="159.1,630.3 164.0,632.6 166.7,629.5 161.8,627.3" fill="#17176a"/>
<polygon points="225.2,659.4 228.7,661.0 228.1,656.8 224.5,655.2" fill="#17176a"/>
<polygon points="243.9,693.7 246.4,695.6 246.7,690.3 244.3,688.3" fill="#17176a"/>
<polygon points="46.1,726.3 47.3,731.9 48.8,730.8 47.7,725.2" fill="#3f3fdc"/>
<polygon points="109.1,634.7 109.8,638.3 115.1,636.4 114.4,632.8" fill="#3f3fdc"/>
<polygon points="62.4,667.2 61.7,672.3 65.2,670.9 65.9,665.7" fill="#17176a"/>
<polygon points="155.0,630.1 159.4,632.2 161.8,629.4 157.4,627.4" fill="#3f3fdc"/>
<polygon points="132.8,629.3 134.1,632.9 139.6,631.5 138.2,627.9" fill="#3f3fdc"/>
<polygon points="57.2,679.3 56.9,684.7 59.9,683.2 60.2,677.9" fill="#3f3fdc"/>
<polygon points="145.6,632.2 149.8,634.8 153.6,632.0 149.5,629.4" fill="#3f3fdc"/>
<polygon points="236.5,682.6 239.5,685.2 239.9,680.4 236.9,677.7" fill="#17176a"/>
<polygon points="229.6,671.1 233.1,673.6 233.2,668.9 229.7,666.4" fill="#17176a"/>
<polygon points="47.8,754.1 49.4,759.2 50.7,756.8 49.2,751.7" fill="#17176a"/>
<polygon points="47.7,766.7 49.1,772.1 50.7,770.2 49.2,764.8" fill="#3f3fdc"/>
<polygon points="72.7,659.2 73.0,663.5 77.1,660.9 76.8,656.5" fill="#17176a"/>
<polygon points="48.3,741.9 49.8,747.2 51.3,745.0 49.7,739.8" fill="#17176a"/>
<polygon points="71.7,656.9 72.0,660.8 75.7,658.4 75.4,654.5" fill="#3f3fdc"/>
<polygon points="244.2,706.3 246.0,709.3 247.3,704.4 245.5,701.5" fill="#3f3fdc"/>
<polygon points="175.2,638.9 180.7,640.1 180.8,636.0 175.3,634.9" fill="#3f3fdc"/>
<polygon points="52.8,691.7 53.4,696.9 56.0,694.7 55.3,689.5" fill="#3f3fdc"/>
<polygon points="207.6,653.7 212.1,654.8 211.1,650.1 206.5,649.1" fill="#3f3fdc"/>
<polygon points="54.7,692.7 55.2,697.4 57.5,695.4 57.0,690.7" fill="#17176a"/>
<polygon points="50.2,718.1 51.9,723.2 53.3,720.7 51.6,715.6" fill="#17176a"/>
<polygon points="101.4,643.9 101.1,648.2 106.2,647.0 106.5,642.6" fill="#3f3fdc"/>
<polygon points="86.7,652.4 86.8,656.8 91.5,654.9 91.5,650.4" fill="#17176a"/>
<polygon points="120.4,639.4 122.9,642.7 127.8,640.0 125.3,636.7" fill="#3f3fdc"/>
<polygon points="89.7,653.7 89.7,657.7 94.0,655.9 93.9,651.9" fill="#3f3fdc"/>
<polygon points="189.6,646.7 194.7,647.9 194.4,643.6 189.3,642.3" fill="#17176a"/>
<polygon points="124.3,639.8 126.6,642.8 131.0,640.4 128.8,637.4" fill="#17176a"/>
<polygon points="216.3,665.3 220.6,666.5 219.9,661.5 215.6,660.3" fill="#3f3fdc"/>
<polygon points="52.3,706.6 53.3,712.0 55.6,710.3 54.7,704.9" fill="#17176a"/>
<polygon points="162.2,642.0 167.4,644.0 169.3,640.2 164.0,638.2" fill="#3f3fdc"/>
<polygon points="53.9,709.0 54.8,713.9 56.9,712.4 56.0,707.5" fill="#3f3fdc"/>
<polygon points="68.9,673.7 69.7,678.2 73.4,675.3 72.6,670.8" fill="#3f3fdc"/>
<polygon points="51.6,732.8 53.7,737.4 55.0,734.3 53.0,729.7" fill="#3f3fdc"/>
<polygon points="237.6,698.7 240.5,700.4 241.0,695.0 238.1,693.3" fill="#17176a"/>
<polygon points="133.3,641.7 136.8,644.9 141.2,641.9 137.7,638.7" fill="#17176a"/>
<polygon points="62.8,685.1 64.0,689.7 67.2,686.5 66.0,681.9" fill="#3f3fdc"/>
<polygon points="147.1,641.3 150.6,644.8 155.0,642.1 151.5,638.6" fill="#17176a"/>
<polygon points="230.7,687.2 234.1,689.1 234.5,683.9 231.1,682.0" fill="#3f3fdc"/>
<polygon points="221.7,675.5 225.5,678.5 226.6,674.0 222.7,671.0" fill="#3f3fdc"/>
<polygon points="223.5,672.7 226.9,675.4 227.9,671.4 224.4,668.7" fill="#17176a"/>
<polygon points="79.7,664.3 80.5,668.9 84.9,666.3 84.1,661.8" fill="#3f3fdc"/>
<polygon points="54.2,759.3 56.2,764.2 57.9,761.4 55.8,756.6" fill="#17176a"/>
<polygon points="197.7,657.8 202.5,660.2 203.4,655.8 198.5,653.5" fill="#17176a"/>
<polygon points="52.6,757.7 54.5,762.0 56.0,759.5 54.1,755.2" fill="#3f3fdc"/>
<polygon points="200.9,656.4 205.3,658.5 206.1,654.6 201.7,652.5" fill="#3f3fdc"/>
<polygon points="54.3,773.4 56.6,778.0 58.1,774.8 55.8,770.3" fill="#3f3fdc"/>
<polygon points="53.8,747.3 56.0,752.0 57.6,749.1 55.5,744.4" fill="#3f3fdc"/>
<polygon points="111.5,648.1 112.0,652.6 117.4,651.1 116.8,646.6" fill="#17176a"/>
<polygon points="55.7,749.4 57.7,753.6 59.1,751.0 57.2,746.8" fill="#17176a"/>
<polygon points="178.5,649.6 183.2,652.6 185.8,649.1 181.0,646.0" fill="#17176a"/>
<polygon points="59.2,696.8 59.9,702.2 62.9,700.5 62.2,695.1" fill="#17176a"/>
<polygon points="95.5,655.6 95.6,660.3 100.6,658.8 100.5,654.0" fill="#3f3fdc"/>
<polygon points="99.4,656.0 99.5,660.3 104.0,658.9 103.9,654.7" fill="#17176a"/>
<polygon points="55.1,722.0 57.0,727.3 59.2,725.4 57.3,720.2" fill="#17176a"/>
<polygon points="206.7,669.8 211.3,671.7 211.7,666.8 207.1,664.9" fill="#17176a"/>
<polygon points="122.9,651.3 126.3,654.7 130.7,651.3 127.4,647.9" fill="#3f3fdc"/>
<polygon points="75.6,677.9 77.3,682.3 81.2,679.1 79.6,674.7" fill="#3f3fdc"/>
<polygon points="59.5,711.9 61.0,717.3 63.8,715.4 62.3,710.1" fill="#3f3fdc"/>
<polygon points="164.7,652.8 169.9,654.9 171.8,650.7 166.6,648.5" fill="#3f3fdc"/>
<polygon points="161.9,653.6 166.6,655.6 168.4,651.8 163.7,649.8" fill="#17176a"/>
<polygon points="229.8,702.4 233.0,704.7 234.3,699.5 231.1,697.3" fill="#17176a"/>
<polygon points="58.3,736.7 60.1,742.0 62.7,740.6 60.9,735.3" fill="#3f3fdc"/>
<polygon points="187.0,661.4 192.0,663.8 193.6,659.4 188.6,657.0" fill="#3f3fdc"/>
<polygon points="212.6,679.6 216.5,683.0 218.4,678.7 214.4,675.3" fill="#17176a"/>
<polygon points="90.0,667.8 90.4,672.9 95.2,671.2 94.8,666.2" fill="#3f3fdc"/>
<polygon points="70.3,689.0 70.8,694.4 74.7,692.8 74.2,687.4" fill="#17176a"/>
<polygon points="136.5,651.5 139.4,655.4 144.2,652.8 141.3,648.8" fill="#3f3fdc"/>
<polygon points="222.1,692.4 225.8,695.2 227.2,690.3 223.5,687.5" fill="#3f3fdc"/>
<polygon points="150.9,652.9 154.8,656.4 158.9,653.1 154.9,649.6" fill="#17176a"/>
<polygon points="106.3,659.3 108.1,663.6 113.1,661.1 111.3,656.7" fill="#3f3fdc"/>
<polygon points="61.2,765.3 63.8,770.0 65.9,767.1 63.3,762.4" fill="#3f3fdc"/>
<polygon points="61.9,752.3 64.1,757.4 66.6,755.4 64.4,750.3" fill="#3f3fdc"/>
<polygon points="65.9,702.4 67.9,707.1 71.0,703.9 68.9,699.2" fill="#17176a"/>
<polygon points="63.7,727.8 66.5,732.4 68.7,729.5 65.9,724.9" fill="#3f3fdc"/>
<polygon points="194.4,672.1 199.1,674.9 200.9,670.3 196.2,667.6" fill="#17176a"/>
<polygon points="61.8,726.9 64.2,731.0 66.2,728.4 63.7,724.2" fill="#17176a"/>
<polygon points="173.9,662.3 178.2,665.9 181.5,662.4 177.2,658.7" fill="#17176a"/>
<polygon points="118.5,662.6 121.1,666.9 125.9,664.0 123.4,659.7" fill="#3f3fdc"/>
<polygon points="85.1,681.8 86.4,686.8 90.9,684.4 89.6,679.4" fill="#17176a"/>
<polygon points="122.4,662.2 124.7,666.0 129.1,663.4 126.8,659.6" fill="#17176a"/>
<polygon points="66.8,716.7 69.1,721.6 72.1,719.0 69.8,714.0" fill="#17176a"/>
<polygon points="101.4,671.4 102.5,676.4 107.5,674.4 106.4,669.4" fill="#17176a"/>
<polygon points="66.2,742.0 68.7,747.0 71.5,744.9 69.0,739.9" fill="#3f3fdc"/>
<polygon points="202.8,684.7 207.4,686.6 208.4,681.5 203.8,679.6" fill="#3f3fdc"/>
<polygon points="205.9,682.7 210.1,684.4 211.0,679.7 206.8,678.0" fill="#17176a"/>
<polygon points="161.0,665.0 165.1,668.8 168.9,665.2 164.8,661.5" fill="#3f3fdc"/>
<polygon points="79.7,694.0 82.1,698.5 85.8,695.1 83.4,690.7" fill="#17176a"/>
<polygon points="132.8,665.0 136.4,668.7 140.7,665.1 137.0,661.4" fill="#3f3fdc"/>
<polygon points="211.4,695.6 215.0,699.2 217.6,694.8 213.9,691.3" fill="#3f3fdc"/>
<polygon points="82.9,694.8 85.1,698.9 88.4,695.8 86.3,691.8" fill="#3f3fdc"/>
<polygon points="146.9,666.1 151.5,669.2 154.9,665.0 150.3,661.9" fill="#3f3fdc"/>
<polygon points="151.0,666.9 155.1,669.7 158.1,666.0 154.1,663.2" fill="#17176a"/>
<polygon points="69.0,769.3 72.2,773.7 74.5,770.6 71.3,766.2" fill="#3f3fdc"/>
<polygon points="182.0,674.7 186.6,677.9 189.2,673.6 184.6,670.4" fill="#3f3fdc"/>
<polygon points="69.8,755.6 72.1,760.8 75.3,759.3 73.1,754.0" fill="#3f3fdc"/>
<polygon points="76.0,706.2 78.4,711.0 81.9,707.9 79.5,703.1" fill="#3f3fdc"/>
<polygon points="113.5,674.4 115.8,679.1 120.7,676.3 118.4,671.7" fill="#17176a"/>
<polygon points="73.1,731.2 75.4,736.4 78.8,734.8 76.5,729.6" fill="#17176a"/>
<polygon points="96.7,686.3 99.8,690.4 103.8,686.6 100.8,682.5" fill="#17176a"/>
<polygon points="118.0,674.2 120.0,678.4 124.4,675.9 122.4,671.7" fill="#3f3fdc"/>
<polygon points="191.1,687.0 195.7,690.0 198.0,685.4 193.5,682.4" fill="#3f3fdc"/>
<polygon points="169.1,677.3 174.1,679.9 176.4,675.2 171.4,672.6" fill="#3f3fdc"/>
<polygon points="76.3,720.5 79.2,725.1 82.4,722.0 79.4,717.4" fill="#3f3fdc"/>
<polygon points="77.3,746.8 80.6,751.2 83.4,748.2 80.0,743.7" fill="#3f3fdc"/>
<polygon points="90.3,697.0 92.3,702.0 96.7,699.5 94.7,694.5" fill="#3f3fdc"/>
<polygon points="126.2,676.8 129.4,681.1 134.0,677.8 130.8,673.5" fill="#17176a"/>
<polygon points="200.0,698.2 203.8,701.8 206.8,697.5 203.0,693.9" fill="#17176a"/>
<polygon points="130.3,676.7 133.1,680.6 137.3,677.6 134.5,673.7" fill="#3f3fdc"/>
<polygon points="154.6,677.9 159.3,681.0 162.4,676.5 157.7,673.4" fill="#3f3fdc"/>
<polygon points="141.0,677.2 144.3,681.5 148.9,678.3 145.5,673.9" fill="#3f3fdc"/>
<polygon points="80.1,773.2 83.0,778.0 86.3,775.7 83.4,770.8" fill="#3f3fdc"/>
<polygon points="108.9,686.8 111.2,691.7 116.0,688.9 113.7,684.1" fill="#17176a"/>
<polygon points="81.1,759.3 84.2,764.1 87.5,761.6 84.4,756.9" fill="#17176a"/>
<polygon points="87.1,710.9 90.2,715.3 93.7,711.7 90.6,707.4" fill="#17176a"/>
<polygon points="177.8,689.3 182.4,692.3 185.1,687.6 180.5,684.6" fill="#3f3fdc"/>
<polygon points="82.9,735.0 85.7,739.8 89.3,737.6 86.4,732.8" fill="#3f3fdc"/>
<polygon points="102.0,700.9 105.0,705.5 109.2,702.1 106.2,697.5" fill="#3f3fdc"/>
<polygon points="121.3,690.5 125.1,694.4 129.1,690.4 125.2,686.5" fill="#3f3fdc"/>
<polygon points="186.8,701.7 190.9,705.1 194.0,700.6 189.8,697.2" fill="#17176a"/>
<polygon points="87.4,723.6 90.2,728.4 94.0,725.8 91.2,721.0" fill="#17176a"/>
<polygon points="90.7,725.2 93.3,729.6 96.7,727.2 94.2,722.8" fill="#3f3fdc"/>
<polygon points="163.8,690.3 168.2,693.7 171.6,689.3 167.1,685.9" fill="#3f3fdc"/>
<polygon points="87.7,749.4 91.3,753.7 94.4,750.6 90.8,746.3" fill="#3f3fdc"/>
<polygon points="168.0,689.9 172.0,693.0 175.0,689.1 171.0,685.9" fill="#17176a"/>
<polygon points="136.1,691.3 139.6,695.6 144.0,692.0 140.4,687.7" fill="#3f3fdc"/>
<polygon points="149.3,690.8 152.6,695.4 157.2,692.1 153.9,687.6" fill="#17176a"/>
<polygon points="98.9,713.3 101.7,718.2 106.0,715.3 103.2,710.5" fill="#3f3fdc"/>
<polygon points="92.8,764.2 96.7,768.2 99.6,764.7 95.7,760.7" fill="#17176a"/>
<polygon points="89.5,764.7 93.0,768.3 95.7,765.2 92.1,761.6" fill="#3f3fdc"/>
<polygon points="115.8,703.7 119.6,707.7 123.5,703.7 119.6,699.7" fill="#17176a"/>
<polygon points="173.6,704.7 178.4,707.5 181.0,702.5 176.3,699.7" fill="#17176a"/>
<polygon points="95.2,738.0 98.8,742.3 102.2,739.2 98.5,734.9" fill="#3f3fdc"/>
<polygon points="170.5,704.6 174.8,707.1 177.2,702.7 172.9,700.2" fill="#3f3fdc"/>
<polygon points="99.6,726.4 103.0,731.0 106.9,727.9 103.5,723.4" fill="#17176a"/>
<polygon points="101.0,753.5 105.0,757.4 108.2,754.0 104.1,750.0" fill="#17176a"/>
<polygon points="129.9,703.7 133.6,707.9 137.8,704.2 134.1,699.9" fill="#3f3fdc"/>
<polygon points="159.2,705.2 163.9,708.5 167.0,703.8 162.4,700.6" fill="#17176a"/>
<polygon points="112.1,715.3 115.3,720.0 119.6,716.8 116.4,712.2" fill="#17176a"/>
<polygon points="143.6,704.4 146.8,709.1 151.5,705.9 148.3,701.2" fill="#3f3fdc"/>
<polygon points="169.7,717.5 174.1,720.7 177.4,716.1 173.0,712.9" fill="#3f3fdc"/>
<polygon points="107.8,740.4 111.3,744.8 115.2,742.0 111.7,737.6" fill="#3f3fdc"/>
<polygon points="114.0,728.7 117.3,733.3 121.5,730.3 118.2,725.8" fill="#3f3fdc"/>
<polygon points="126.3,718.2 130.3,722.3 134.2,718.4 130.3,714.3" fill="#3f3fdc"/>
<polygon points="114.0,755.2 118.0,759.1 121.6,755.7 117.6,751.8" fill="#3f3fdc"/>
<polygon points="154.3,718.4 158.8,721.7 162.2,717.2 157.7,713.8" fill="#3f3fdc"/>
<polygon points="140.7,717.6 144.5,721.8 148.7,718.0 144.9,713.9" fill="#17176a"/>
<polygon points="121.6,742.7 125.3,746.9 129.4,743.9 125.7,739.7" fill="#3f3fdc"/>
<polygon points="126.7,730.5 129.8,735.2 134.4,732.4 131.3,727.7" fill="#17176a"/>
<polygon points="155.0,731.6 159.6,734.6 162.9,730.1 158.2,727.1" fill="#17176a"/>
<polygon points="141.8,732.1 146.4,735.2 149.6,730.8 145.0,727.7" fill="#17176a"/>
<polygon points="135.2,743.5 139.4,747.1 143.1,743.3 138.9,739.8" fill="#17176a"/>
<polygon points="131.7,743.5 135.5,746.6 138.8,743.2 135.0,740.1" fill="#3f3fdc"/>
<polygon points="221.2,725.4 221.2,722.2 221.2,718.0 221.2,721.2" fill="#15155e"/>
<polygon points="118.7,645.9 117.1,649.1 121.4,648.5 123.0,645.3" fill="#15155e"/>
<polygon points="221.2,727.7 221.2,724.1 221.2,719.4 221.2,723.0" fill="#ece024"/>
<polygon points="108.5,651.4 107.2,654.9 111.3,653.5 112.5,650.1" fill="#7f7a1e"/>
<polygon points="118.5,644.0 116.6,647.6 121.4,646.9 123.2,643.3" fill="#f4ea20"/>
<polygon points="221.2,724.8 221.2,723.7 221.2,722.3 221.2,723.4" fill="#c9b81a"/>
<polygon points="221.0,706.2 221.1,704.4 221.1,698.8 221.0,700.7" fill="#4141dc"/>
<polygon points="76.5,714.9 76.7,719.6 76.9,717.0 76.7,712.4" fill="#15155e"/>
<polygon points="139.7,639.9 141.2,642.5 146.6,641.6 145.1,639.0" fill="#f4ea20"/>
<polygon points="107.3,649.7 106.0,653.5 110.4,652.0 111.8,648.2" fill="#ece024"/>
<polygon points="168.5,645.9 169.2,642.9 163.9,641.5 163.1,644.5" fill="#4141dc"/>
<polygon points="119.5,645.0 118.9,646.1 120.4,645.9 120.9,644.8" fill="#c9b81a"/>
<polygon points="84.0,675.4 84.4,678.1 87.1,673.5 86.6,670.8" fill="#f4ea20"/>
<polygon points="76.4,713.1 76.6,718.2 76.7,715.3 76.5,710.2" fill="#4141dc"/>
<polygon points="142.1,640.5 142.6,641.3 144.2,641.0 143.8,640.2" fill="#c9b81a"/>
<polygon points="108.4,650.5 108.0,651.7 109.4,651.2 109.8,650.0" fill="#c9b81a"/>
<polygon points="80.1,684.2 80.5,687.2 82.3,682.4 82.0,679.4" fill="#f4ea20"/>
<polygon points="85.0,674.8 85.2,675.6 86.0,674.2 85.9,673.3" fill="#c9b81a"/>
<polygon points="221.0,717.6 221.3,716.1 221.4,710.4 221.1,711.9" fill="#ece024"/>
<polygon points="77.5,706.5 77.9,709.1 77.9,704.5 77.5,701.9" fill="#8c8622"/>
<polygon points="205.8,668.5 207.9,667.7 205.0,662.7 203.0,663.5" fill="#4141dc"/>
<polygon points="77.8,692.5 77.7,697.5 78.7,694.6 78.8,689.5" fill="#f4ea20"/>
<polygon points="80.9,683.6 81.0,684.5 81.6,683.0 81.5,682.1" fill="#c9b81a"/>
<polygon points="175.9,651.4 179.0,650.2 175.6,647.2 172.4,648.3" fill="#15155e"/>
<polygon points="152.6,645.0 157.6,644.1 155.1,641.7 150.2,642.6" fill="#ece024"/>
<polygon points="189.5,655.7 192.4,654.5 188.8,650.6 185.8,651.7" fill="#f4ea20"/>
<polygon points="221.1,715.1 221.2,714.6 221.2,712.9 221.1,713.4" fill="#c9b81a"/>
<polygon points="128.8,643.4 129.0,646.3 134.5,645.3 134.2,642.4" fill="#f4ea20"/>
<polygon points="77.2,704.8 77.6,707.7 77.6,702.6 77.2,699.7" fill="#f4ea20"/>
<polygon points="199.0,661.4 201.2,660.1 197.7,655.7 195.4,657.1" fill="#f4ea20"/>
<polygon points="78.1,693.2 78.0,694.8 78.4,693.9 78.4,692.3" fill="#c9b81a"/>
<polygon points="75.6,735.8 76.1,740.4 76.2,736.7 75.8,732.1" fill="#f4ea20"/>
<polygon points="177.0,650.5 180.5,649.2 176.7,645.8 173.2,647.1" fill="#f4ea20"/>
<polygon points="153.5,643.8 155.0,643.6 154.3,642.8 152.8,643.1" fill="#c9b81a"/>
<polygon points="189.2,653.9 190.1,653.6 189.0,652.3 188.1,652.7" fill="#c9b81a"/>
<polygon points="130.7,644.1 130.8,645.0 132.5,644.6 132.4,643.7" fill="#c9b81a"/>
<polygon points="77.3,704.1 77.5,704.9 77.5,703.4 77.3,702.5" fill="#c9b81a"/>
<polygon points="76.6,726.7 77.2,730.5 77.3,726.1 76.7,722.3" fill="#f4ea20"/>
<polygon points="198.5,659.4 199.2,659.0 198.1,657.7 197.4,658.1" fill="#c9b81a"/>
<polygon points="75.8,736.1 75.9,737.5 76.0,736.4 75.9,735.0" fill="#c9b81a"/>
<polygon points="75.8,744.7 76.4,747.6 76.5,743.1 75.8,740.3" fill="#7f7a1e"/>
<polygon points="176.9,648.9 178.0,648.5 176.8,647.4 175.7,647.8" fill="#c9b81a"/>
<polygon points="76.8,726.5 77.0,727.7 77.0,726.3 76.9,725.1" fill="#c9b81a"/>
<polygon points="97.4,659.5 98.2,662.6 102.3,659.2 101.5,656.1" fill="#f4ea20"/>
<polygon points="76.2,748.1 76.9,751.2 76.9,746.3 76.2,743.1" fill="#f4ea20"/>
<polygon points="220.8,699.5 221.6,696.3 220.6,691.4 219.8,694.6" fill="#f4ea20"/>
<polygon points="99.1,659.4 99.3,660.4 100.6,659.3 100.4,658.4" fill="#c9b81a"/>
<polygon points="90.8,667.5 91.2,671.0 94.8,667.4 94.3,663.9" fill="#ece024"/>
<polygon points="76.4,747.4 76.6,748.4 76.7,746.9 76.4,745.9" fill="#c9b81a"/>
<polygon points="213.7,679.8 214.7,677.4 212.3,673.2 211.3,675.6" fill="#15155e"/>
<polygon points="217.1,689.6 217.9,686.4 216.0,681.8 215.2,685.0" fill="#f4ea20"/>
<polygon points="220.7,696.7 221.0,695.7 220.7,694.2 220.4,695.2" fill="#c9b81a"/>
<polygon points="92.2,667.4 92.3,668.5 93.4,667.4 93.3,666.3" fill="#c9b81a"/>
<polygon points="212.3,680.8 213.4,678.1 210.8,673.5 209.6,676.2" fill="#f4ea20"/>
<polygon points="216.7,686.9 217.0,685.9 216.4,684.5 216.2,685.5" fill="#c9b81a"/>
<polygon points="211.8,678.3 212.1,677.5 211.3,676.0 210.9,676.9" fill="#c9b81a"/>
<polygon points="118.4,649.0 119.8,651.2 124.2,649.0 122.9,646.8" fill="#7f7a1e"/>
<polygon points="220.0,732.3 221.1,730.4 221.3,725.0 220.2,726.9" fill="#f4ea20"/>
<polygon points="118.9,650.7 120.4,653.2 125.3,650.8 123.8,648.3" fill="#f4ea20"/>
<polygon points="160.9,649.6 164.9,648.0 161.1,645.2 157.2,646.8" fill="#f4ea20"/>
<polygon points="220.5,729.8 220.8,729.2 220.9,727.5 220.5,728.1" fill="#c9b81a"/>
<polygon points="220.2,712.1 221.5,709.1 221.4,704.2 220.1,707.3" fill="#f4ea20"/>
<polygon points="76.4,716.2 77.5,720.3 78.0,717.2 76.9,713.1" fill="#15155e"/>
<polygon points="108.0,656.0 110.5,657.9 114.7,654.4 112.2,652.5" fill="#ece024"/>
<polygon points="121.1,650.7 121.6,651.5 123.1,650.7 122.6,650.0" fill="#c9b81a"/>
<polygon points="85.6,678.6 86.0,682.8 89.0,679.4 88.6,675.3" fill="#f4ea20"/>
<polygon points="161.0,648.1 162.2,647.6 161.0,646.7 159.8,647.2" fill="#c9b81a"/>
<polygon points="220.6,709.4 221.0,708.4 221.0,706.9 220.6,707.9" fill="#c9b81a"/>
<polygon points="76.9,717.7 78.2,722.2 78.7,718.7 77.5,714.2" fill="#f4ea20"/>
<polygon points="110.3,655.5 111.1,656.0 112.4,654.9 111.6,654.4" fill="#c9b81a"/>
<polygon points="134.3,648.2 138.1,650.1 142.0,647.4 138.2,645.5" fill="#4141dc"/>
<polygon points="86.8,678.9 86.9,680.2 87.8,679.1 87.7,677.9" fill="#c9b81a"/>
<polygon points="81.2,687.5 81.8,691.9 84.0,688.3 83.4,684.0" fill="#ece024"/>
<polygon points="219.9,723.5 221.3,720.7 221.3,715.7 219.9,718.5" fill="#f4ea20"/>
<polygon points="77.6,718.0 77.9,719.4 78.1,718.4 77.7,717.0" fill="#c9b81a"/>
<polygon points="195.2,667.7 198.3,667.4 196.0,663.3 192.8,663.7" fill="#8c8622"/>
<polygon points="202.9,673.0 205.9,672.8 203.8,667.8 200.7,668.0" fill="#ece024"/>
<polygon points="77.4,698.3 78.5,702.5 79.8,698.6 78.7,694.4" fill="#f4ea20"/>
<polygon points="185.6,660.1 188.2,658.3 184.1,654.7 181.5,656.5" fill="#4141dc"/>
<polygon points="82.2,687.8 82.4,689.2 83.0,688.1 82.8,686.7" fill="#c9b81a"/>
<polygon points="220.4,720.8 220.8,719.9 220.8,718.4 220.4,719.2" fill="#c9b81a"/>
<polygon points="78.1,709.1 79.6,712.2 79.7,707.5 78.2,704.3" fill="#ece024"/>
<polygon points="195.6,666.0 199.1,665.7 196.5,661.1 193.0,661.5" fill="#f4ea20"/>
<polygon points="172.7,654.2 176.7,653.1 173.3,649.6 169.3,650.8" fill="#f4ea20"/>
<polygon points="203.2,671.2 204.1,671.1 203.5,669.6 202.5,669.7" fill="#c9b81a"/>
<polygon points="78.2,698.4 78.6,699.7 79.0,698.5 78.7,697.2" fill="#c9b81a"/>
<polygon points="78.1,740.8 79.6,744.9 80.1,741.0 78.6,736.9" fill="#f4ea20"/>
<polygon points="78.6,708.5 79.1,709.5 79.1,708.0 78.7,707.1" fill="#c9b81a"/>
<polygon points="78.0,731.9 79.5,734.6 79.6,729.6 78.0,726.9" fill="#f4ea20"/>
<polygon points="101.0,667.4 102.6,669.7 106.2,666.4 104.7,664.1" fill="#7f7a1e"/>
<polygon points="195.9,664.3 197.0,664.2 196.2,662.8 195.1,663.0" fill="#c9b81a"/>
<polygon points="172.9,652.6 174.1,652.3 173.1,651.2 171.9,651.6" fill="#c9b81a"/>
<polygon points="78.8,740.8 79.3,742.1 79.4,740.9 79.0,739.6" fill="#c9b81a"/>
<polygon points="77.5,751.0 78.9,754.4 79.3,750.6 77.9,747.3" fill="#7f7a1e"/>
<polygon points="147.6,651.3 153.0,652.1 154.2,648.8 148.9,648.0" fill="#f4ea20"/>
<polygon points="78.5,731.1 79.0,732.0 79.0,730.4 78.5,729.6" fill="#c9b81a"/>
<polygon points="100.7,665.5 102.4,668.1 106.4,664.3 104.7,661.8" fill="#4141dc"/>
<polygon points="78.4,752.7 80.0,756.5 80.4,752.3 78.8,748.5" fill="#4141dc"/>
<polygon points="149.9,650.4 151.6,650.7 152.0,649.7 150.3,649.4" fill="#c9b81a"/>
<polygon points="217.4,704.2 219.2,702.0 218.4,696.8 216.6,699.1" fill="#4141dc"/>
<polygon points="93.3,672.4 93.4,676.5 97.3,673.8 97.1,669.6" fill="#4141dc"/>
<polygon points="213.9,693.2 216.3,693.2 215.6,687.7 213.1,687.6" fill="#ece024"/>
<polygon points="208.1,685.1 210.7,684.3 208.8,679.1 206.2,679.9" fill="#4141dc"/>
<polygon points="214.5,691.3 215.2,691.3 215.0,689.6 214.2,689.6" fill="#c9b81a"/>
<polygon points="125.9,654.4 128.5,657.2 133.1,654.5 130.6,651.8" fill="#f4ea20"/>
<polygon points="128.4,654.5 129.2,655.3 130.6,654.5 129.9,653.6" fill="#c9b81a"/>
<polygon points="113.4,660.5 115.9,663.0 120.2,659.6 117.7,657.1" fill="#f4ea20"/>
<polygon points="165.2,656.9 170.0,657.3 169.4,653.8 164.6,653.4" fill="#15155e"/>
<polygon points="85.6,683.4 87.3,685.8 89.7,681.7 88.0,679.3" fill="#8c8622"/>
<polygon points="216.7,715.8 218.6,713.2 218.5,708.3 216.5,710.9" fill="#4141dc"/>
<polygon points="115.8,660.2 116.5,661.0 117.8,659.9 117.1,659.1" fill="#c9b81a"/>
<polygon points="177.2,663.6 181.5,663.8 180.1,659.9 175.8,659.7" fill="#15155e"/>
<polygon points="162.3,657.9 167.7,658.2 167.0,654.3 161.6,654.0" fill="#f4ea20"/>
<polygon points="87.4,683.1 89.3,685.8 92.0,681.2 90.1,678.6" fill="#f4ea20"/>
<polygon points="216.5,727.0 218.4,725.1 218.4,720.5 216.5,722.5" fill="#7f7a1e"/>
<polygon points="79.6,721.8 81.4,726.3 82.5,723.2 80.7,718.6" fill="#f4ea20"/>
<polygon points="178.2,662.2 183.0,662.4 181.4,658.2 176.6,657.9" fill="#4141dc"/>
<polygon points="80.5,702.7 82.0,706.2 83.5,702.7 82.0,699.2" fill="#7f7a1e"/>
<polygon points="163.9,656.6 165.6,656.7 165.4,655.5 163.7,655.4" fill="#c9b81a"/>
<polygon points="192.4,671.1 195.1,669.3 191.9,665.5 189.2,667.3" fill="#15155e"/>
<polygon points="89.0,682.5 89.6,683.3 90.4,681.9 89.8,681.1" fill="#c9b81a"/>
<polygon points="215.1,727.7 217.1,725.5 217.1,720.5 215.1,722.7" fill="#f4ea20"/>
<polygon points="83.7,693.9 85.8,696.2 87.6,691.2 85.5,688.9" fill="#ece024"/>
<polygon points="80.6,722.2 81.1,723.6 81.5,722.7 80.9,721.3" fill="#c9b81a"/>
<polygon points="199.1,677.7 202.7,677.9 201.0,672.9 197.4,672.7" fill="#ece024"/>
<polygon points="81.5,703.1 83.2,707.0 84.8,703.1 83.2,699.2" fill="#f4ea20"/>
<polygon points="190.1,671.2 193.0,669.2 189.5,664.9 186.6,666.9" fill="#4141dc"/>
<polygon points="215.8,725.2 216.4,724.6 216.4,723.0 215.8,723.7" fill="#c9b81a"/>
<polygon points="85.0,693.0 85.7,693.7 86.2,692.2 85.6,691.4" fill="#c9b81a"/>
<polygon points="80.4,714.9 82.5,717.8 82.8,713.2 80.7,710.3" fill="#ece024"/>
<polygon points="199.7,676.1 200.9,676.1 200.3,674.6 199.2,674.5" fill="#c9b81a"/>
<polygon points="81.3,746.2 83.4,749.2 83.8,744.6 81.6,741.7" fill="#4141dc"/>
<polygon points="153.5,658.4 158.4,658.4 158.1,654.8 153.1,654.8" fill="#8c8622"/>
<polygon points="82.7,703.1 83.2,704.3 83.7,703.1 83.2,701.9" fill="#c9b81a"/>
<polygon points="137.1,657.5 142.1,658.7 144.3,654.9 139.3,653.7" fill="#4141dc"/>
<polygon points="81.4,736.0 83.5,739.4 84.1,735.2 82.0,731.8" fill="#ece024"/>
<polygon points="81.2,714.3 81.9,715.2 82.0,713.8 81.3,712.9" fill="#c9b81a"/>
<polygon points="106.5,668.1 108.0,671.6 112.4,668.4 110.8,664.9" fill="#f4ea20"/>
<polygon points="150.2,658.8 155.7,658.7 155.3,654.7 149.8,654.7" fill="#ece024"/>
<polygon points="82.3,735.7 82.9,736.8 83.1,735.5 82.5,734.4" fill="#c9b81a"/>
<polygon points="81.8,757.1 83.8,761.2 84.9,757.7 82.9,753.6" fill="#4141dc"/>
<polygon points="108.5,668.2 109.0,669.3 110.3,668.3 109.9,667.2" fill="#c9b81a"/>
<polygon points="152.0,657.3 153.7,657.3 153.5,656.1 151.9,656.1" fill="#c9b81a"/>
<polygon points="97.5,678.1 100.4,680.1 103.4,675.5 100.5,673.5" fill="#f4ea20"/>
<polygon points="212.3,706.9 214.8,706.6 214.7,701.1 212.2,701.4" fill="#ece024"/>
<polygon points="125.7,664.4 129.2,666.3 132.4,662.8 128.9,660.9" fill="#8c8622"/>
<polygon points="99.5,677.2 100.4,677.8 101.3,676.4 100.4,675.8" fill="#c9b81a"/>
<polygon points="213.1,704.9 213.9,704.8 213.9,703.1 213.1,703.2" fill="#c9b81a"/>
<polygon points="208.0,697.9 211.0,698.9 211.0,693.5 208.0,692.5" fill="#f4ea20"/>
<polygon points="202.3,687.2 205.8,687.8 205.0,682.5 201.5,681.9" fill="#4141dc"/>
<polygon points="122.5,663.7 126.4,665.8 129.9,661.9 126.1,659.8" fill="#4141dc"/>
<polygon points="209.0,696.4 210.0,696.7 210.0,695.0 209.0,694.7" fill="#c9b81a"/>
<polygon points="168.5,666.9 173.4,666.2 171.4,661.8 166.5,662.5" fill="#f4ea20"/>
<polygon points="169.5,665.1 171.0,664.9 170.4,663.5 168.9,663.8" fill="#c9b81a"/>
<polygon points="211.5,719.4 214.1,717.2 214.0,712.3 211.3,714.5" fill="#f4ea20"/>
<polygon points="92.7,686.3 94.4,690.3 97.8,686.8 96.2,682.7" fill="#f4ea20"/>
<polygon points="191.3,683.0 194.7,681.8 192.6,677.4 189.2,678.5" fill="#7f7a1e"/>
<polygon points="87.9,695.1 89.8,698.5 92.1,694.9 90.2,691.5" fill="#8c8622"/>
<polygon points="212.3,717.0 213.2,716.3 213.1,714.7 212.3,715.4" fill="#c9b81a"/>
<polygon points="84.0,727.8 86.7,730.4 87.1,725.7 84.4,723.1" fill="#4141dc"/>
<polygon points="181.6,673.7 185.7,672.2 182.9,667.6 178.9,669.1" fill="#f4ea20"/>
<polygon points="94.5,686.4 95.0,687.7 96.1,686.6 95.5,685.4" fill="#c9b81a"/>
<polygon points="135.0,664.8 138.5,667.4 141.9,664.1 138.5,661.6" fill="#7f7a1e"/>
<polygon points="192.9,682.4 196.6,681.1 194.3,676.1 190.5,677.4" fill="#f4ea20"/>
<polygon points="84.2,716.2 86.8,718.5 87.1,714.2 84.6,711.9" fill="#7f7a1e"/>
<polygon points="89.3,696.6 91.4,700.3 94.0,696.3 91.9,692.6" fill="#4141dc"/>
<polygon points="182.1,671.6 183.3,671.1 182.5,669.7 181.2,670.2" fill="#c9b81a"/>
<polygon points="86.6,708.4 89.4,710.6 90.4,705.5 87.5,703.3" fill="#4141dc"/>
<polygon points="131.6,665.9 135.4,668.7 139.3,665.1 135.5,662.3" fill="#4141dc"/>
<polygon points="113.1,672.7 117.2,674.3 120.0,669.7 115.9,668.1" fill="#4141dc"/>
<polygon points="193.3,680.2 194.5,679.8 193.8,678.3 192.6,678.7" fill="#c9b81a"/>
<polygon points="85.7,718.8 88.5,721.4 88.9,716.6 86.1,714.1" fill="#f4ea20"/>
<polygon points="84.9,749.8 87.8,752.5 88.3,747.8 85.4,745.1" fill="#f4ea20"/>
<polygon points="156.1,668.5 161.6,668.9 161.5,664.3 156.0,664.0" fill="#f4ea20"/>
<polygon points="85.9,739.4 88.7,743.1 89.8,739.1 87.0,735.5" fill="#f4ea20"/>
<polygon points="86.8,718.0 87.7,718.8 87.8,717.4 86.9,716.6" fill="#c9b81a"/>
<polygon points="86.1,749.1 87.0,749.9 87.1,748.5 86.2,747.7" fill="#c9b81a"/>
<polygon points="158.0,667.1 159.7,667.2 159.6,665.8 158.0,665.7" fill="#c9b81a"/>
<polygon points="144.0,668.6 149.3,669.5 150.6,665.1 145.2,664.1" fill="#f4ea20"/>
<polygon points="87.3,739.3 88.1,740.4 88.4,739.2 87.6,738.1" fill="#c9b81a"/>
<polygon points="105.2,680.4 107.5,684.0 111.5,680.3 109.1,676.7" fill="#f4ea20"/>
<polygon points="86.4,760.7 89.2,764.3 90.4,760.3 87.5,756.7" fill="#f4ea20"/>
<polygon points="146.3,667.4 147.9,667.7 148.3,666.3 146.6,666.0" fill="#c9b81a"/>
<polygon points="204.6,703.2 207.8,702.3 206.9,697.4 203.7,698.3" fill="#8c8622"/>
<polygon points="207.1,712.7 210.1,710.4 209.0,705.4 206.0,707.8" fill="#4141dc"/>
<polygon points="107.3,680.4 108.1,681.5 109.3,680.3 108.6,679.2" fill="#c9b81a"/>
<polygon points="87.8,760.6 88.6,761.7 89.0,760.5 88.1,759.4" fill="#c9b81a"/>
<polygon points="195.2,692.7 199.2,692.8 198.5,687.4 194.4,687.4" fill="#f4ea20"/>
<polygon points="202.1,702.7 205.6,701.7 204.7,696.3 201.1,697.3" fill="#f4ea20"/>
<polygon points="196.3,690.9 197.6,690.9 197.3,689.3 196.1,689.3" fill="#c9b81a"/>
<polygon points="203.0,700.5 204.1,700.2 203.8,698.5 202.7,698.8" fill="#c9b81a"/>
<polygon points="172.0,676.2 176.7,674.9 174.4,670.1 169.7,671.5" fill="#f4ea20"/>
<polygon points="207.0,723.5 210.0,722.4 210.4,717.7 207.4,718.8" fill="#15155e"/>
<polygon points="123.2,674.7 127.6,676.8 130.5,672.3 126.1,670.2" fill="#4141dc"/>
<polygon points="172.8,674.1 174.2,673.7 173.5,672.2 172.1,672.7" fill="#c9b81a"/>
<polygon points="101.0,692.8 104.7,694.8 106.9,689.8 103.2,687.8" fill="#f4ea20"/>
<polygon points="205.1,723.1 208.5,721.9 208.8,716.7 205.5,717.9" fill="#f4ea20"/>
<polygon points="183.1,685.6 187.4,683.9 185.0,679.0 180.8,680.6" fill="#f4ea20"/>
<polygon points="103.0,691.8 104.2,692.4 104.9,690.8 103.7,690.2" fill="#c9b81a"/>
<polygon points="90.8,732.2 94.3,734.2 94.5,729.3 91.0,727.3" fill="#4141dc"/>
<polygon points="206.4,720.9 207.4,720.5 207.5,718.9 206.5,719.3" fill="#c9b81a"/>
<polygon points="183.8,683.3 185.1,682.8 184.4,681.3 183.1,681.8" fill="#c9b81a"/>
<polygon points="95.6,701.3 98.8,704.5 101.2,700.0 98.1,696.8" fill="#f4ea20"/>
<polygon points="111.6,682.2 115.5,683.9 117.7,679.5 113.8,677.8" fill="#15155e"/>
<polygon points="92.5,713.1 96.1,714.4 96.6,709.1 92.9,707.8" fill="#ece024"/>
<polygon points="91.9,722.4 95.5,724.6 95.9,719.7 92.3,717.5" fill="#f4ea20"/>
<polygon points="97.6,700.9 98.5,701.9 99.3,700.5 98.3,699.5" fill="#c9b81a"/>
<polygon points="159.5,677.4 164.9,678.0 165.1,673.1 159.7,672.5" fill="#ece024"/>
<polygon points="91.1,753.0 94.2,757.0 96.0,753.4 92.8,749.4" fill="#f4ea20"/>
<polygon points="113.5,684.0 117.8,685.9 120.3,681.0 116.0,679.1" fill="#ece024"/>
<polygon points="134.6,676.8 139.0,679.6 142.3,675.4 137.9,672.7" fill="#ece024"/>
<polygon points="93.9,711.7 95.0,712.1 95.1,710.5 94.0,710.1" fill="#c9b81a"/>
<polygon points="92.5,745.3 96.2,746.5 95.8,741.4 92.2,740.2" fill="#f4ea20"/>
<polygon points="93.3,721.4 94.4,722.1 94.5,720.6 93.4,720.0" fill="#c9b81a"/>
<polygon points="161.5,675.9 163.1,676.1 163.2,674.6 161.5,674.4" fill="#c9b81a"/>
<polygon points="92.8,753.1 93.8,754.4 94.3,753.3 93.3,752.0" fill="#c9b81a"/>
<polygon points="189.3,693.1 193.4,693.7 193.5,688.8 189.3,688.2" fill="#15155e"/>
<polygon points="115.9,682.9 117.2,683.5 117.9,682.0 116.6,681.4" fill="#c9b81a"/>
<polygon points="137.3,676.3 138.6,677.2 139.6,675.9 138.3,675.1" fill="#c9b81a"/>
<polygon points="93.7,744.0 94.8,744.3 94.7,742.7 93.6,742.4" fill="#c9b81a"/>
<polygon points="147.6,679.6 153.1,679.6 153.1,674.6 147.6,674.5" fill="#f4ea20"/>
<polygon points="93.4,764.2 96.6,768.3 98.5,764.8 95.3,760.8" fill="#f4ea20"/>
<polygon points="186.4,694.4 191.1,695.1 191.1,689.7 186.5,689.0" fill="#f4ea20"/>
<polygon points="198.5,715.2 202.4,715.0 202.7,709.5 198.8,709.8" fill="#f4ea20"/>
<polygon points="149.5,677.8 151.2,677.9 151.2,676.3 149.5,676.3" fill="#c9b81a"/>
<polygon points="95.1,764.4 96.1,765.7 96.7,764.6 95.7,763.4" fill="#c9b81a"/>
<polygon points="194.0,705.0 198.1,703.6 196.9,698.3 192.8,699.7" fill="#f4ea20"/>
<polygon points="188.0,692.8 189.5,693.0 189.5,691.3 188.1,691.1" fill="#c9b81a"/>
<polygon points="200.0,713.2 201.2,713.2 201.3,711.5 200.1,711.6" fill="#c9b81a"/>
<polygon points="171.3,687.0 176.4,688.4 177.2,683.3 172.1,681.9" fill="#f4ea20"/>
<polygon points="195.0,702.7 196.3,702.2 195.9,700.6 194.7,701.0" fill="#c9b81a"/>
<polygon points="108.4,695.9 112.8,697.6 114.7,692.4 110.3,690.7" fill="#f4ea20"/>
<polygon points="194.2,726.4 197.6,726.9 199.0,722.2 195.7,721.7" fill="#15155e"/>
<polygon points="128.8,686.7 133.1,688.3 135.1,683.8 130.8,682.2" fill="#8c8622"/>
<polygon points="173.3,685.7 174.9,686.2 175.1,684.6 173.6,684.2" fill="#c9b81a"/>
<polygon points="100.9,736.4 104.6,737.6 104.4,733.0 100.7,731.8" fill="#15155e"/>
<polygon points="110.6,694.7 111.9,695.2 112.5,693.6 111.1,693.1" fill="#c9b81a"/>
<polygon points="195.9,726.3 199.6,726.9 201.2,721.7 197.5,721.1" fill="#4141dc"/>
<polygon points="124.8,686.9 129.6,688.7 131.8,683.7 127.0,681.9" fill="#4141dc"/>
<polygon points="98.5,737.0 102.6,738.2 102.4,733.1 98.3,731.9" fill="#4141dc"/>
<polygon points="98.4,712.1 101.3,715.8 103.8,712.5 100.9,708.8" fill="#15155e"/>
<polygon points="104.9,704.0 108.7,706.9 111.1,702.2 107.3,699.3" fill="#4141dc"/>
<polygon points="158.0,690.0 162.9,689.7 162.3,684.9 157.4,685.2" fill="#8c8622"/>
<polygon points="179.8,698.3 184.2,697.4 183.2,692.6 178.8,693.4" fill="#8c8622"/>
<polygon points="100.7,714.5 104.0,718.6 106.8,715.0 103.6,710.9" fill="#4141dc"/>
<polygon points="133.2,690.2 138.0,690.8 138.8,686.0 134.0,685.4" fill="#15155e"/>
<polygon points="99.0,724.4 102.9,727.8 104.6,723.7 100.7,720.4" fill="#f4ea20"/>
<polygon points="160.8,688.8 166.2,688.4 165.5,683.1 160.2,683.5" fill="#f4ea20"/>
<polygon points="100.9,759.1 105.2,760.0 104.7,754.8 100.5,754.0" fill="#ece024"/>
<polygon points="99.8,744.9 103.5,748.8 105.7,745.2 102.0,741.4" fill="#f4ea20"/>
<polygon points="176.6,697.6 181.5,696.7 180.3,691.3 175.4,692.2" fill="#f4ea20"/>
<polygon points="136.5,689.6 141.8,690.3 142.7,685.0 137.3,684.3" fill="#f4ea20"/>
<polygon points="101.0,724.2 102.1,725.2 102.7,724.0 101.5,722.9" fill="#c9b81a"/>
<polygon points="162.4,686.8 164.1,686.7 163.9,685.1 162.2,685.2" fill="#c9b81a"/>
<polygon points="102.2,757.7 103.5,757.9 103.4,756.3 102.1,756.1" fill="#c9b81a"/>
<polygon points="123.2,698.0 127.2,700.3 129.5,695.9 125.5,693.6" fill="#7f7a1e"/>
<polygon points="102.0,768.0 106.2,770.8 107.5,766.4 103.3,763.6" fill="#f4ea20"/>
<polygon points="101.8,745.0 103.0,746.2 103.6,745.1 102.5,743.9" fill="#c9b81a"/>
<polygon points="147.4,688.4 152.8,689.6 154.0,684.4 148.7,683.2" fill="#4141dc"/>
<polygon points="177.9,695.4 179.4,695.1 179.0,693.5 177.5,693.8" fill="#c9b81a"/>
<polygon points="138.6,688.0 140.3,688.2 140.6,686.6 138.9,686.4" fill="#c9b81a"/>
<polygon points="189.9,718.7 194.4,717.3 193.8,712.1 189.3,713.4" fill="#ece024"/>
<polygon points="183.2,707.8 188.0,707.9 188.1,702.4 183.4,702.3" fill="#f4ea20"/>
<polygon points="119.4,697.7 123.8,700.2 126.4,695.4 122.0,692.8" fill="#ece024"/>
<polygon points="103.9,767.5 105.2,768.3 105.6,767.0 104.3,766.1" fill="#c9b81a"/>
<polygon points="191.2,716.4 192.6,716.0 192.4,714.3 191.1,714.8" fill="#c9b81a"/>
<polygon points="184.9,706.0 186.4,706.0 186.4,704.3 185.0,704.3" fill="#c9b81a"/>
<polygon points="121.8,696.9 123.2,697.7 124.0,696.2 122.6,695.4" fill="#c9b81a"/>
<polygon points="110.5,738.5 114.7,739.7 114.8,735.3 110.6,734.0" fill="#15155e"/>
<polygon points="186.9,728.8 191.3,729.0 192.5,723.8 188.1,723.6" fill="#ece024"/>
<polygon points="165.5,699.1 170.6,700.6 171.9,695.3 166.7,693.8" fill="#f4ea20"/>
<polygon points="113.4,707.4 117.4,710.7 120.3,706.2 116.3,703.0" fill="#4141dc"/>
<polygon points="107.5,739.4 112.2,740.8 112.3,735.8 107.7,734.4" fill="#f4ea20"/>
<polygon points="188.8,727.1 190.2,727.1 190.6,725.5 189.2,725.5" fill="#c9b81a"/>
<polygon points="167.7,697.8 169.3,698.2 169.7,696.6 168.1,696.2" fill="#c9b81a"/>
<polygon points="130.2,700.3 135.5,701.0 136.4,695.6 131.0,694.8" fill="#f4ea20"/>
<polygon points="110.8,718.8 115.6,719.7 115.9,714.4 111.1,713.5" fill="#f4ea20"/>
<polygon points="109.2,738.1 110.6,738.6 110.7,737.0 109.2,736.6" fill="#c9b81a"/>
<polygon points="109.2,727.9 113.9,730.1 114.9,725.5 110.3,723.3" fill="#4141dc"/>
<polygon points="170.2,711.5 174.9,711.2 174.7,706.3 170.1,706.5" fill="#7f7a1e"/>
<polygon points="109.2,760.4 113.9,762.1 114.5,757.3 109.8,755.5" fill="#f4ea20"/>
<polygon points="110.6,750.0 115.3,750.6 114.9,745.5 110.1,744.9" fill="#f4ea20"/>
<polygon points="182.1,717.9 186.5,718.1 187.2,713.2 182.8,713.0" fill="#15155e"/>
<polygon points="132.3,698.7 134.0,698.9 134.2,697.2 132.6,697.0" fill="#c9b81a"/>
<polygon points="112.6,717.3 114.1,717.6 114.1,715.9 112.7,715.6" fill="#c9b81a"/>
<polygon points="153.6,699.8 158.6,702.0 160.8,697.0 155.8,694.7" fill="#f4ea20"/>
<polygon points="173.2,710.0 178.3,709.7 178.1,704.2 173.0,704.5" fill="#f4ea20"/>
<polygon points="111.0,759.3 112.5,759.8 112.6,758.3 111.2,757.8" fill="#c9b81a"/>
<polygon points="140.8,699.8 145.9,701.9 148.1,696.8 143.0,694.7" fill="#f4ea20"/>
<polygon points="112.1,748.4 113.5,748.6 113.4,747.1 111.9,746.9" fill="#c9b81a"/>
<polygon points="178.6,720.0 183.5,720.2 184.2,714.8 179.3,714.6" fill="#f4ea20"/>
<polygon points="156.1,698.8 157.6,699.5 158.3,697.9 156.8,697.2" fill="#c9b81a"/>
<polygon points="174.9,708.0 176.5,707.9 176.4,706.3 174.8,706.3" fill="#c9b81a"/>
<polygon points="143.3,698.7 144.9,699.4 145.6,697.8 144.0,697.2" fill="#c9b81a"/>
<polygon points="180.6,718.2 182.1,718.3 182.3,716.6 180.8,716.6" fill="#c9b81a"/>
<polygon points="124.2,708.4 128.9,711.1 131.4,706.4 126.8,703.6" fill="#ece024"/>
<polygon points="114.5,739.9 119.0,740.6 119.0,736.1 114.4,735.3" fill="#15155e"/>
<polygon points="124.2,719.8 128.6,721.7 130.1,717.3 125.7,715.4" fill="#8c8622"/>
<polygon points="164.9,711.5 169.7,710.8 169.2,705.9 164.3,706.5" fill="#7f7a1e"/>
<polygon points="176.0,731.5 181.0,730.8 181.3,725.8 176.3,726.4" fill="#4141dc"/>
<polygon points="126.7,707.7 128.1,708.5 128.9,707.1 127.5,706.2" fill="#c9b81a"/>
<polygon points="117.2,741.8 122.2,742.6 122.2,737.6 117.1,736.7" fill="#f4ea20"/>
<polygon points="120.4,720.1 125.3,722.2 127.0,717.2 122.1,715.1" fill="#f4ea20"/>
<polygon points="161.8,711.9 167.1,711.2 166.5,705.8 161.1,706.5" fill="#f4ea20"/>
<polygon points="118.2,728.7 122.7,731.9 125.1,727.9 120.6,724.7" fill="#f4ea20"/>
<polygon points="119.0,761.9 123.9,764.3 125.6,759.8 120.7,757.4" fill="#4141dc"/>
<polygon points="118.9,740.3 120.5,740.6 120.5,739.0 118.9,738.8" fill="#c9b81a"/>
<polygon points="121.0,753.2 126.2,753.9 126.1,748.9 120.9,748.2" fill="#4141dc"/>
<polygon points="136.4,712.2 141.9,712.7 142.3,707.2 136.9,706.7" fill="#f4ea20"/>
<polygon points="122.7,719.1 124.2,719.7 124.7,718.2 123.2,717.6" fill="#c9b81a"/>
<polygon points="163.4,709.8 165.0,709.6 164.9,707.9 163.2,708.1" fill="#c9b81a"/>
<polygon points="167.7,722.6 172.9,721.5 172.2,716.3 167.0,717.4" fill="#f4ea20"/>
<polygon points="120.6,728.4 122.0,729.4 122.7,728.2 121.3,727.2" fill="#c9b81a"/>
<polygon points="148.9,712.9 154.4,712.5 154.1,707.1 148.6,707.4" fill="#f4ea20"/>
<polygon points="167.2,732.1 171.6,733.3 173.4,728.9 169.0,727.7" fill="#15155e"/>
<polygon points="138.5,710.5 140.1,710.6 140.3,709.0 138.6,708.8" fill="#c9b81a"/>
<polygon points="129.5,721.3 133.7,723.9 136.1,719.9 131.9,717.3" fill="#8c8622"/>
<polygon points="131.1,741.8 135.5,744.0 137.4,740.0 133.0,737.8" fill="#8c8622"/>
<polygon points="169.3,720.4 170.9,720.1 170.7,718.5 169.0,718.8" fill="#c9b81a"/>
<polygon points="150.7,710.9 152.4,710.8 152.3,709.1 150.6,709.2" fill="#c9b81a"/>
<polygon points="126.4,730.2 130.7,732.7 132.9,728.8 128.6,726.4" fill="#15155e"/>
<polygon points="163.9,732.4 168.8,733.8 170.9,728.9 166.0,727.5" fill="#f4ea20"/>
<polygon points="131.7,720.4 136.4,723.3 139.1,718.8 134.4,715.9" fill="#ece024"/>
<polygon points="128.2,742.3 133.1,744.8 135.2,740.4 130.3,737.9" fill="#f4ea20"/>
<polygon points="129.3,731.1 134.1,733.8 136.5,729.5 131.7,726.8" fill="#f4ea20"/>
<polygon points="155.3,722.8 160.8,722.8 160.9,717.4 155.4,717.5" fill="#f4ea20"/>
<polygon points="166.3,731.2 167.8,731.6 168.5,730.1 167.0,729.7" fill="#c9b81a"/>
<polygon points="131.3,752.0 136.3,754.4 138.4,750.0 133.4,747.6" fill="#f4ea20"/>
<polygon points="137.5,745.8 142.4,746.5 143.0,742.0 138.1,741.3" fill="#7f7a1e"/>
<polygon points="134.3,719.8 135.7,720.7 136.5,719.3 135.1,718.4" fill="#c9b81a"/>
<polygon points="155.0,742.0 159.6,743.6 161.5,739.4 156.9,737.8" fill="#7f7a1e"/>
<polygon points="130.6,741.7 132.1,742.4 132.8,741.1 131.2,740.3" fill="#c9b81a"/>
<polygon points="144.6,723.4 150.1,723.6 150.2,718.2 144.7,718.1" fill="#ece024"/>
<polygon points="131.8,730.6 133.3,731.4 134.0,730.1 132.6,729.2" fill="#c9b81a"/>
<polygon points="157.2,721.0 158.9,720.9 158.9,719.3 157.3,719.3" fill="#c9b81a"/>
<polygon points="133.8,751.3 135.3,752.0 135.9,750.7 134.4,749.9" fill="#c9b81a"/>
<polygon points="153.7,734.3 159.2,733.8 158.9,728.7 153.4,729.3" fill="#f4ea20"/>
<polygon points="139.9,744.3 145.4,745.1 146.1,740.1 140.6,739.3" fill="#f4ea20"/>
<polygon points="151.0,743.6 156.1,745.3 158.2,740.6 153.1,738.8" fill="#f4ea20"/>
<polygon points="141.8,733.4 147.4,733.4 147.1,728.3 141.6,728.4" fill="#4141dc"/>
<polygon points="146.5,721.6 148.2,721.7 148.3,720.0 146.6,720.0" fill="#c9b81a"/>
<polygon points="155.5,732.4 157.2,732.2 157.1,730.7 155.4,730.8" fill="#c9b81a"/>
<polygon points="142.0,742.9 143.7,743.1 143.9,741.6 142.3,741.3" fill="#c9b81a"/>
<polygon points="153.5,742.5 155.0,743.1 155.7,741.6 154.1,741.1" fill="#c9b81a"/>
<path d="M51.5,669.5 l-6.8,-1.0 M49.5,667.0 l0,5" stroke="#eeb0a2" stroke-width="0.55" fill="none"/>
<path d="M243.2,659.5 l6.1,-1.0 M245.2,657.0 l0,5" stroke="#eeb0a2" stroke-width="0.55" fill="none"/>
<path d="M242.8,676.5 l5.2,-1.7 M244.8,674.0 l0,5" stroke="#eeb0a2" stroke-width="0.55" fill="none"/>
<path d="M248.6,685.5 l4.7,-0.0 M250.6,683.0 l0,5" stroke="#eeb0a2" stroke-width="0.55" fill="none"/>
<path d="M245.3,692.0 l6.8,-1.6 M247.3,689.5 l0,5" stroke="#eeb0a2" stroke-width="0.55" fill="none"/>
<path d="M54.4,693.2 l-5.1,-0.4 M52.4,690.7 l0,5" stroke="#eeb0a2" stroke-width="0.55" fill="none"/>
<path d="M49.1,688.2 l-5.5,-0.2 M47.1,685.7 l0,5" stroke="#eeb0a2" stroke-width="0.55" fill="none"/>
<path d="M48.6,702.9 l-6.2,1.9 M46.6,700.4 l0,5" stroke="#eeb0a2" stroke-width="0.55" fill="none"/>
<path d="M45.2,697.8 l-4.6,0.2 M43.2,695.3 l0,5" stroke="#eeb0a2" stroke-width="0.55" fill="none"/>
<path d="M44.8,687.6 l-4.1,1.1 M42.8,685.1 l0,5" stroke="#eeb0a2" stroke-width="0.55" fill="none"/>
<path d="M242.3,674.3 l6.2,-2.0 M244.3,671.8 l0,5" stroke="#eeb0a2" stroke-width="0.55" fill="none"/>
<path d="M247.6,678.8 l6.0,0.1 M249.6,676.3 l0,5" stroke="#eeb0a2" stroke-width="0.55" fill="none"/>
<path d="M249.9,700.7 l5.0,-1.2 M251.9,698.2 l0,5" stroke="#eeb0a2" stroke-width="0.55" fill="none"/>
<path d="M57.2,723.7 l-6.6,0.2 M55.2,721.2 l0,5" stroke="#eeb0a2" stroke-width="0.55" fill="none"/>
<path d="M51.7,719.4 l-5.0,-1.4 M49.7,716.9 l0,5" stroke="#eeb0a2" stroke-width="0.55" fill="none"/>
<path d="M46.2,713.2 l-4.5,1.3 M44.2,710.7 l0,5" stroke="#eeb0a2" stroke-width="0.55" fill="none"/>
<path d="M43.8,708.7 l-6.5,-0.4 M41.8,706.2 l0,5" stroke="#eeb0a2" stroke-width="0.55" fill="none"/>
<path d="M42.9,702.5 l-6.7,0.4 M40.9,700.0 l0,5" stroke="#eeb0a2" stroke-width="0.55" fill="none"/>
<path d="M244.1,698.1 l4.8,0.0 M246.1,695.6 l0,5" stroke="#eeb0a2" stroke-width="0.55" fill="none"/>
<path d="M53.3,733.5 l-4.7,-0.6 M51.3,731.0 l0,5" stroke="#eeb0a2" stroke-width="0.55" fill="none"/>
<path d="M47.5,728.5 l-5.3,0.3 M45.5,726.0 l0,5" stroke="#eeb0a2" stroke-width="0.55" fill="none"/>
<path d="M44.5,724.1 l-6.0,1.9 M42.5,721.6 l0,5" stroke="#eeb0a2" stroke-width="0.55" fill="none"/>
<path d="M42.6,718.6 l-4.9,-0.6 M40.6,716.1 l0,5" stroke="#eeb0a2" stroke-width="0.55" fill="none"/>
<path d="M241.8,709.7 l5.0,-1.9 M243.8,707.2 l0,5" stroke="#eeb0a2" stroke-width="0.55" fill="none"/>
<path d="M55.7,748.2 l-6.4,-0.3 M53.7,745.7 l0,5" stroke="#eeb0a2" stroke-width="0.55" fill="none"/>
<path d="M46.3,737.7 l-6.1,1.1 M44.3,735.2 l0,5" stroke="#eeb0a2" stroke-width="0.55" fill="none"/>
<path d="M56.0,760.4 l-6.7,-1.4 M54.0,757.9 l0,5" stroke="#eeb0a2" stroke-width="0.55" fill="none"/>
<path d="M49.3,755.4 l-6.6,-1.2 M47.3,752.9 l0,5" stroke="#eeb0a2" stroke-width="0.55" fill="none"/>
<path d="M43.5,745.7 l-4.1,-1.6 M41.5,743.2 l0,5" stroke="#eeb0a2" stroke-width="0.55" fill="none"/>
<path d="M53.7,723.7 l-4.7,1.2 M51.7,721.2 l0,5" stroke="#eeb0a2" stroke-width="0.55" fill="none"/>
<path d="M56.2,774.1 l-5.5,-1.5 M54.2,771.6 l0,5" stroke="#eeb0a2" stroke-width="0.55" fill="none"/>
<path d="M49.2,768.5 l-6.2,0.0 M47.2,766.0 l0,5" stroke="#eeb0a2" stroke-width="0.55" fill="none"/>
</g>
<g stroke="#ef9a86" stroke-width="0.55" fill="none">
<path d="M35.1,594.1 L59.1,592.6 M50.1,589.1 L51.6,608.1"/>
<path d="M84.3,590.1 L108.3,588.6 M99.3,585.1 L100.8,604.1"/>
<path d="M102.1,573.2 L126.1,571.7 M117.1,568.2 L118.6,587.2"/>
<path d="M86.4,603.3 L110.4,601.8 M101.4,598.3 L102.9,617.3"/>
<path d="M150.9,569.2 L174.9,567.7 M165.9,564.2 L167.4,583.2"/>
<path d="M152.8,584 L176.8,582.5 M167.8,579 L169.3,598"/>
<path d="M135,599.3 L159,597.8 M150,594.3 L151.5,613.3"/>
<path d="M201.9,578.4 L225.9,576.9 M216.9,573.4 L218.4,592.4"/>
<path d="M63.8,586.5 L88.8,583.0 M76.8,584.5 L78.3,599.5"/>
<path d="M57.599999999999994,598.8 L82.6,595.3 M70.6,596.8 L72.1,611.8"/>
<path d="M130.4,565.9 L155.4,562.4 M143.4,563.9 L144.9,578.9"/>
<path d="M123.69999999999999,578.8 L148.7,575.3 M136.7,576.8 L138.2,591.8"/>
<path d="M115,595.7 L140,592.2 M128,593.7 L129.5,608.7"/>
<path d="M108.9,608.9 L133.9,605.4 M121.9,606.9 L123.4,621.9"/>
<path d="M181.4,575.7 L206.4,572.2 M194.4,573.7 L195.9,588.7"/>
<path d="M174.3,587.4 L199.3,583.9 M187.3,585.4 L188.8,600.4"/>
</g>
<polygon points="83.2,587.1 74.2,590.9 70.4,581.9 79.4,578.1" fill="#85450f"/>
<polygon points="77.0,599.4 68.0,603.2 64.2,594.2 73.2,590.4" fill="#85450f"/>
<polygon points="149.8,566.5 140.8,570.3 137.0,561.3 146.0,557.5" fill="#85450f"/>
<polygon points="143.1,579.4 134.1,583.2 130.3,574.2 139.3,570.4" fill="#85450f"/>
<polygon points="134.4,596.3 125.4,600.1 121.6,591.1 130.6,587.3" fill="#85450f"/>
<polygon points="128.3,609.5 119.3,613.3 115.5,604.3 124.5,600.5" fill="#85450f"/>
<polygon points="200.8,576.3 191.8,580.1 188.0,571.1 197.0,567.3" fill="#85450f"/>
<polygon points="193.7,588.0 184.7,591.8 180.9,582.8 189.9,579.0" fill="#85450f"/>
<path d="M42.9,593.7 L54.9,590.3000000000001 L55.7,593.3000000000001 L43.7,596.7 Z" fill="#1d6b1d"/>
<path d="M48.1,586.6 L50.300000000000004,586.6 L50.9,598.6 L49.1,598.6 Z" fill="#5a3412"/>
<path d="M92.1,589.7 L104.1,586.3000000000001 L104.89999999999999,589.3000000000001 L92.89999999999999,592.7 Z" fill="#1d6b1d"/>
<path d="M97.3,582.6 L99.5,582.6 L100.1,594.6 L98.3,594.6 Z" fill="#5a3412"/>
<path d="M109.89999999999999,572.8000000000001 L121.89999999999999,569.4000000000001 L122.69999999999999,572.4000000000001 L110.69999999999999,575.8000000000001 Z" fill="#1d6b1d"/>
<path d="M115.1,565.7 L117.3,565.7 L117.89999999999999,577.7 L116.1,577.7 Z" fill="#5a3412"/>
<path d="M94.2,602.9 L106.2,599.5 L107.0,602.5 L95.0,605.9 Z" fill="#1d6b1d"/>
<path d="M99.4,595.8 L101.60000000000001,595.8 L102.2,607.8 L100.4,607.8 Z" fill="#5a3412"/>
<path d="M158.70000000000002,568.8000000000001 L170.70000000000002,565.4000000000001 L171.5,568.4000000000001 L159.5,571.8000000000001 Z" fill="#1d6b1d"/>
<path d="M163.9,561.7 L166.1,561.7 L166.70000000000002,573.7 L164.9,573.7 Z" fill="#5a3412"/>
<path d="M160.60000000000002,583.6 L172.60000000000002,580.2 L173.4,583.2 L161.4,586.6 Z" fill="#1d6b1d"/>
<path d="M165.8,576.5 L168.0,576.5 L168.60000000000002,588.5 L166.8,588.5 Z" fill="#5a3412"/>
<path d="M142.8,598.9 L154.8,595.5 L155.6,598.5 L143.6,601.9 Z" fill="#1d6b1d"/>
<path d="M148,591.8 L150.2,591.8 L150.8,603.8 L149,603.8 Z" fill="#5a3412"/>
<path d="M209.70000000000002,578.0 L221.70000000000002,574.6 L222.5,577.6 L210.5,581.0 Z" fill="#1d6b1d"/>
<path d="M214.9,570.9 L217.1,570.9 L217.70000000000002,582.9 L215.9,582.9 Z" fill="#5a3412"/>
<rect x="50.4" y="585.7" width="8.5" height="2.4" fill="#55e055" opacity="0.7" filter="url(#soft)"/>
<rect x="42.1" y="597.9000000000001" width="8.5" height="2.4" fill="#55e055" opacity="0.7" filter="url(#soft)"/>
<rect x="49.1" y="615.4000000000001" width="8.5" height="2.4" fill="#55e055" opacity="0.7" filter="url(#soft)"/>
<rect x="69.7" y="619.1" width="8.5" height="2.4" fill="#55e055" opacity="0.7" filter="url(#soft)"/>
<rect x="74.3" y="606.2" width="8.5" height="2.4" fill="#55e055" opacity="0.7" filter="url(#soft)"/>
<rect x="100.4" y="594.9000000000001" width="8.5" height="2.4" fill="#55e055" opacity="0.7" filter="url(#soft)"/>
<rect x="94.3" y="609.3000000000001" width="8.5" height="2.4" fill="#55e055" opacity="0.7" filter="url(#soft)"/>
<rect x="115.8" y="564.8000000000001" width="8.5" height="2.4" fill="#55e055" opacity="0.7" filter="url(#soft)"/>
<rect x="140.3" y="583.2" width="8.5" height="2.4" fill="#55e055" opacity="0.7" filter="url(#soft)"/>
<rect x="168" y="574.0" width="8.5" height="2.4" fill="#55e055" opacity="0.7" filter="url(#soft)"/>
<rect x="163.4" y="589.3000000000001" width="8.5" height="2.4" fill="#55e055" opacity="0.7" filter="url(#soft)"/>
<rect x="192.6" y="594.6" width="8.5" height="2.4" fill="#55e055" opacity="0.7" filter="url(#soft)"/>
<rect x="214.1" y="598.5" width="8.5" height="2.4" fill="#55e055" opacity="0.7" filter="url(#soft)"/>
<rect x="186.4" y="607.7" width="8.5" height="2.4" fill="#55e055" opacity="0.7" filter="url(#soft)"/>
<rect x="166.5" y="603.7" width="8.5" height="2.4" fill="#55e055" opacity="0.7" filter="url(#soft)"/>
<rect x="128.1" y="616.4000000000001" width="8.5" height="2.4" fill="#55e055" opacity="0.7" filter="url(#soft)"/>
<rect x="148" y="620.1" width="8.5" height="2.4" fill="#55e055" opacity="0.7" filter="url(#soft)"/>
<rect x="120.4" y="627.7" width="8.5" height="2.4" fill="#55e055" opacity="0.7" filter="url(#soft)"/>
<rect x="100.4" y="625.3000000000001" width="8.5" height="2.4" fill="#55e055" opacity="0.7" filter="url(#soft)"/>
<rect x="22" y="594.3" width="8.5" height="2.2" fill="#f0a878" opacity="0.8" filter="url(#soft)"/>
<rect x="88" y="574.3" width="8.5" height="2.2" fill="#f0a878" opacity="0.8" filter="url(#soft)"/>
<rect x="139" y="583.3" width="8.5" height="2.2" fill="#f0a878" opacity="0.8" filter="url(#soft)"/>
<rect x="73" y="603.8" width="8.5" height="2.2" fill="#f0a878" opacity="0.8" filter="url(#soft)"/>
<linearGradient id="h2g" x1="0" y1="0" x2="1" y2="0.15"><stop offset="0" stop-color="#c2c2c2"/><stop offset="0.45" stop-color="#cdcdcd"/><stop offset="1" stop-color="#c4c4c4"/></linearGradient>
<g filter="url(#soft)"><path d="M316.0,668.0 C311.4,669.3 305.0,671.8 300.7,675.0 C296.4,678.2 292.8,682.9 290.0,687.2 C287.2,691.5 285.1,696.1 283.8,701.0 C282.5,705.9 282.1,710.8 282.3,716.4 C282.6,722.0 283.5,728.1 285.3,734.8 C287.1,741.4 290.8,750.7 293.0,756.3 C295.2,761.9 298.0,765.0 298.4,768.6 C298.8,772.2 296.4,773.7 295.3,777.8 C294.2,781.9 291.8,789.7 291.5,793.1 C291.2,796.5 289.4,796.4 293.5,798.2 C297.6,800.0 307.1,802.2 316.0,803.9 C324.9,805.6 339.0,807.9 346.7,808.5 C354.4,809.1 358.0,809.2 362.1,807.7 C366.2,806.2 368.8,803.0 371.3,799.3 C373.9,795.6 375.3,790.1 377.4,785.5 C379.4,780.9 382.1,776.8 383.6,771.7 C385.2,766.6 386.2,759.9 386.7,754.8 C387.2,749.7 387.0,746.1 386.7,741.0 C386.4,735.9 386.1,729.6 385.1,724.0 C384.1,718.4 382.8,712.8 380.5,707.2 C378.2,701.6 374.9,695.2 371.3,690.3 C367.7,685.4 363.9,681.5 359.0,678.0 C354.1,674.5 347.2,671.4 342.1,669.6 C337.0,667.8 332.7,667.6 328.3,667.3 C323.9,667.0 320.6,666.7 316.0,668.0 Z" fill="url(#h2g)"/></g>
<g filter="url(#soft2)">
<path d="M289.2,716.4 C288.4,712.3 288.9,708.1 290.0,704.0 C291.1,699.9 292.9,695.4 296.0,691.8 C299.1,688.2 303.8,685.1 308.4,682.6 C313.0,680.1 318.6,677.3 323.7,676.5 C328.8,675.7 333.6,676.5 339.0,678.0 C344.4,679.5 350.9,682.1 356.0,685.7 C361.1,689.3 366.2,694.9 369.8,699.5 C373.4,704.1 375.8,709.2 377.4,713.3 C379.0,717.4 379.9,720.9 379.7,724.0 C379.4,727.1 377.8,729.5 375.9,731.8 C374.0,734.1 371.0,736.2 368.2,737.9 C365.4,739.5 362.1,741.6 359.0,741.7 C355.9,741.8 353.2,739.6 349.8,738.7 C346.4,737.8 340.8,735.2 338.5,736.4 C336.2,737.5 337.7,743.4 336.0,745.6 C334.3,747.8 331.6,749.1 328.3,749.4 C325.0,749.6 319.8,748.5 316.0,747.1 C312.2,745.7 308.9,744.1 305.3,741.0 C301.7,737.9 297.3,732.8 294.6,728.7 C291.9,724.6 290.0,720.5 289.2,716.4 Z" fill="#a7a7a7"/>
<path d="M294.9,715.8 C294.2,712.2 294.6,708.6 295.6,705.0 C296.6,701.5 298.1,697.5 300.8,694.4 C303.5,691.3 307.6,688.6 311.6,686.4 C315.6,684.2 320.5,681.8 324.9,681.1 C329.3,680.4 333.5,681.1 338.2,682.4 C342.9,683.8 348.5,686.0 353.0,689.1 C357.5,692.2 361.9,697.1 365.0,701.1 C368.1,705.1 370.2,709.6 371.6,713.1 C373.1,716.7 373.8,719.8 373.6,722.4 C373.4,725.1 372.0,727.2 370.3,729.2 C368.7,731.2 366.1,733.1 363.6,734.5 C361.2,736.0 358.3,737.7 355.6,737.8 C353.0,738.0 350.6,736.0 347.6,735.2 C344.6,734.5 339.8,732.2 337.8,733.2 C335.8,734.2 337.1,739.3 335.6,741.2 C334.1,743.1 331.8,744.3 328.9,744.5 C326.0,744.8 321.5,743.8 318.2,742.5 C314.9,741.3 312.0,739.9 308.9,737.2 C305.8,734.6 301.9,730.1 299.6,726.5 C297.3,723.0 295.6,719.4 294.9,715.8 Z" fill="#ababab"/>
<path d="M306,712 Q316,701 336,703 Q356,708 366,724 Q362,735 348,735 Q338,731 330,738 Q316,740 308,728 Z" fill="#b7bac2" opacity="0.65"/>
</g>
<g stroke="#9b9b9b" stroke-width="1.3" fill="none" opacity="0.65" filter="url(#soft)">
<path d="M294,716 Q295,698 309,689 Q328,680 346,686 Q362,694 371,712"/>
<path d="M300,722 Q300,704 314,696 Q330,689 344,694 Q356,700 363,712"/>
<path d="M310,688 Q314,696 308,704 M326,680 Q328,690 322,698 M342,682 Q342,692 348,698 M358,692 Q354,700 360,708 M296,704 Q304,708 302,718 M370,716 Q364,722 368,730"/>
<path d="M306,742 Q318,748 332,746"/>
</g>
<g filter="url(#soft)">
<path d="M311.6,722 Q314,717.5 319.5,718.2 Q323.5,721.5 325,727 Q331.5,728.5 333,733.5 Q330,739 323.5,738.2 Q317.5,736 314.6,730.5 Q311.5,726.5 311.6,722 Z" fill="#7ccb66" opacity="0.85"/>
<path d="M315,722.5 Q318,720.5 320,723 Q321.5,729 328,732 Q325,736 321,734.5 Q316.5,731 315,722.5 Z" fill="#62b852" opacity="0.75"/>
<path d="M334,712 Q339,709.5 346,715.5 Q353,722 354.2,730.5 Q350.5,733 345.5,728.5 Q338,722.5 334,712 Z" fill="#e5b26f" opacity="0.85"/>
</g>
<path d="M373.8,769.5 Q375.2,774.5 370.8,777.6 Q373,774 372.6,770.5 Z" fill="#a9a9a9" filter="url(#soft)"/>
<g filter="url(#soft3)" opacity="0.35">
<path d="M350,760 Q364,764 380,758 L378,768 Q364,772 352,768 Z" fill="#b4b4b4"/>
<path d="M296,780 Q320,792 360,794" stroke="#b8b8b8" stroke-width="4" fill="none"/>
</g>
<g stroke="#777" stroke-width="0.9" fill="none">
<path d="M345.2,719.8 L392.5,607.4 L413.4,607.4"/>
<path d="M331.4,736.7 L350.6,747 L413.6,747"/>
<path d="M413.4,567.3 L413.4,648"/>
<path d="M413.6,707.3 L413.6,787.2"/>
</g>
<polyline points="422.0,566.4 422.8,566.1 423.6,567.9 424.4,570.9 425.2,572.9 426.0,572.9 426.8,571.7 427.6,570.8 428.4,570.5 429.2,570.1 430.0,569.2 430.8,568.9 431.6,570.0 432.4,572.1 433.3,573.4 434.1,572.5 434.9,570.1 435.7,568.1 436.5,567.3 437.3,567.4 438.1,567.4 438.9,567.8 439.7,569.4 440.5,572.1 441.3,574.2 442.1,574.1 442.9,572.1 443.7,570.0 444.5,569.1 445.3,569.3 446.1,569.4 446.9,569.3 447.7,569.7 448.5,571.1 449.3,572.3 450.1,571.8 450.9,569.5 451.7,567.2 452.5,566.6 453.3,567.7 454.1,569.3 455.0,570.4 455.8,571.5 456.6,573.0 457.4,574.3 458.2,574.0 459.0,571.7 459.8,568.8 460.6,567.3 461.4,567.8 462.2,569.1 463.0,569.8 463.8,570.0 464.6,570.6 465.4,571.4 466.2,571.4 467.0,569.8 467.8,567.6 468.6,566.8 469.4,568.3 470.2,571.0 471.0,573.0 471.8,573.5 472.6,573.5 473.4,573.5 474.2,572.9 475.0,570.4 475.8,566.7 476.6,564.3 477.5,565.1 478.3,568.3 479.1,571.2 479.9,572.0 480.7,571.7 481.5,571.7 482.3,571.8 483.1,570.4 483.9,567.7 484.7,566.1 485.5,568.2 486.3,572.9 487.1,576.6 487.9,576.8 488.7,574.1 489.5,571.3 490.3,569.3 491.1,567.1 491.9,564.2 492.7,562.2 493.5,563.9 494.3,568.9 495.1,573.9 495.9,575.6 496.7,574.0 497.5,571.7 498.3,570.7 499.2,570.3 500.0,569.1 500.8,567.8 501.6,568.7 502.4,572.2 503.2,575.5 504.0,575.4 504.8,572.0 505.6,568.1 506.4,566.1 507.2,566.0 508.0,566.2 508.8,566.5 509.6,567.9 510.4,571.0 511.2,574.2 512.0,575.4 512.8,573.8 513.6,570.9 514.4,569.2 515.2,569.0 516.0,569.3 516.8,569.3 517.6,569.4 518.4,570.5 519.2,572.3 520.0,572.8 520.9,570.8 521.7,567.5 522.5,565.5 523.3,566.0 524.1,568.0 524.9,569.8 525.7,571.2 526.5,573.0 527.3,575.3 528.1,576.3 528.9,574.2 529.7,570.0 530.5,566.5 531.3,566.0 532.1,567.7 532.9,569.3 533.7,569.9 534.5,570.3 535.3,571.6 536.1,572.4 536.9,570.9 537.7,567.2 538.5,564.4 539.3,565.3 540.1,569.5 540.9,573.7 541.7,575.6 542.5,575.6 543.4,575.5 544.2,575.0 545.0,572.5 545.8,567.6 546.6,563.2 547.4,562.6 548.2,565.9 549.0,570.1 549.8,572.1 550.6,571.9 551.4,571.5 552.2,571.7 553.0,571.1 553.8,568.8 554.6,566.4 555.4,566.7 556.2,570.7 557.0,575.4 557.8,577.3 558.6,575.6 559.4,572.5 560.2,570.2 561.0,568.3 561.8,565.6 562.6,562.8 563.4,562.7 564.2,566.4 565.1,571.9 565.9,575.3 566.7,574.9 567.5,572.5 568.3,570.9 569.1,570.4 569.9,569.7 570.7,568.3 571.5,568.0 572.3,570.5 573.1,574.5 573.9,576.5 574.7,574.3 575.5,569.7" fill="none" stroke="#f0a070" stroke-width="2.6" opacity="0.45" filter="url(#glow)"/>
<polyline points="422.0,566.4 422.8,566.1 423.6,567.9 424.4,570.9 425.2,572.9 426.0,572.9 426.8,571.7 427.6,570.8 428.4,570.5 429.2,570.1 430.0,569.2 430.8,568.9 431.6,570.0 432.4,572.1 433.3,573.4 434.1,572.5 434.9,570.1 435.7,568.1 436.5,567.3 437.3,567.4 438.1,567.4 438.9,567.8 439.7,569.4 440.5,572.1 441.3,574.2 442.1,574.1 442.9,572.1 443.7,570.0 444.5,569.1 445.3,569.3 446.1,569.4 446.9,569.3 447.7,569.7 448.5,571.1 449.3,572.3 450.1,571.8 450.9,569.5 451.7,567.2 452.5,566.6 453.3,567.7 454.1,569.3 455.0,570.4 455.8,571.5 456.6,573.0 457.4,574.3 458.2,574.0 459.0,571.7 459.8,568.8 460.6,567.3 461.4,567.8 462.2,569.1 463.0,569.8 463.8,570.0 464.6,570.6 465.4,571.4 466.2,571.4 467.0,569.8 467.8,567.6 468.6,566.8 469.4,568.3 470.2,571.0 471.0,573.0 471.8,573.5 472.6,573.5 473.4,573.5 474.2,572.9 475.0,570.4 475.8,566.7 476.6,564.3 477.5,565.1 478.3,568.3 479.1,571.2 479.9,572.0 480.7,571.7 481.5,571.7 482.3,571.8 483.1,570.4 483.9,567.7 484.7,566.1 485.5,568.2 486.3,572.9 487.1,576.6 487.9,576.8 488.7,574.1 489.5,571.3 490.3,569.3 491.1,567.1 491.9,564.2 492.7,562.2 493.5,563.9 494.3,568.9 495.1,573.9 495.9,575.6 496.7,574.0 497.5,571.7 498.3,570.7 499.2,570.3 500.0,569.1 500.8,567.8 501.6,568.7 502.4,572.2 503.2,575.5 504.0,575.4 504.8,572.0 505.6,568.1 506.4,566.1 507.2,566.0 508.0,566.2 508.8,566.5 509.6,567.9 510.4,571.0 511.2,574.2 512.0,575.4 512.8,573.8 513.6,570.9 514.4,569.2 515.2,569.0 516.0,569.3 516.8,569.3 517.6,569.4 518.4,570.5 519.2,572.3 520.0,572.8 520.9,570.8 521.7,567.5 522.5,565.5 523.3,566.0 524.1,568.0 524.9,569.8 525.7,571.2 526.5,573.0 527.3,575.3 528.1,576.3 528.9,574.2 529.7,570.0 530.5,566.5 531.3,566.0 532.1,567.7 532.9,569.3 533.7,569.9 534.5,570.3 535.3,571.6 536.1,572.4 536.9,570.9 537.7,567.2 538.5,564.4 539.3,565.3 540.1,569.5 540.9,573.7 541.7,575.6 542.5,575.6 543.4,575.5 544.2,575.0 545.0,572.5 545.8,567.6 546.6,563.2 547.4,562.6 548.2,565.9 549.0,570.1 549.8,572.1 550.6,571.9 551.4,571.5 552.2,571.7 553.0,571.1 553.8,568.8 554.6,566.4 555.4,566.7 556.2,570.7 557.0,575.4 557.8,577.3 558.6,575.6 559.4,572.5 560.2,570.2 561.0,568.3 561.8,565.6 562.6,562.8 563.4,562.7 564.2,566.4 565.1,571.9 565.9,575.3 566.7,574.9 567.5,572.5 568.3,570.9 569.1,570.4 569.9,569.7 570.7,568.3 571.5,568.0 572.3,570.5 573.1,574.5 573.9,576.5 574.7,574.3 575.5,569.7" fill="none" stroke="#70381c" stroke-width="1.15" stroke-linejoin="round"/>
<polyline points="422.0,589.8 422.8,591.5 423.6,592.6 424.4,593.8 425.2,593.9 426.0,591.0 426.8,586.0 427.6,582.5 428.4,583.4 429.2,587.2 430.0,590.1 430.8,590.1 431.6,588.9 432.4,588.2 433.3,587.2 434.1,584.7 434.9,582.1 435.7,582.8 436.5,587.8 437.3,593.6 438.1,596.1 438.9,594.4 439.7,591.4 440.5,589.5 441.3,588.1 442.1,586.1 442.9,584.7 443.7,586.1 444.5,590.2 445.3,593.2 446.1,591.8 446.9,587.1 447.7,583.1 448.5,582.3 449.3,583.4 450.1,584.7 450.9,586.4 451.7,590.0 452.5,594.3 453.3,595.9 454.1,592.9 455.0,587.8 455.8,585.2 456.6,586.3 457.4,588.9 458.2,590.3 459.0,590.7 459.8,591.5 460.6,592.0 461.4,589.8 462.2,584.8 463.0,580.6 463.8,580.6 464.6,584.6 465.4,588.8 466.2,590.7 467.0,590.8 467.8,590.9 468.6,590.8 469.4,589.3 470.2,586.7 471.0,585.6 471.8,587.6 472.6,591.1 473.4,593.1 474.2,592.2 475.0,589.8 475.8,588.0 476.6,586.8 477.5,585.5 478.3,584.3 479.1,584.7 479.9,587.3 480.7,590.2 481.5,591.1 482.3,589.5 483.1,587.5 483.9,586.8 484.7,587.3 485.5,587.8 486.3,588.3 487.1,589.6 487.9,591.7 488.7,592.8 489.5,591.5 490.3,588.4 491.1,585.8 491.9,585.3 492.7,586.3 493.5,587.2 494.3,587.7 495.1,588.5 495.9,589.7 496.7,589.8 497.5,588.0 498.3,585.6 499.2,584.8 500.0,586.7 500.8,589.6 501.6,591.4 502.4,591.7 503.2,591.7 504.0,591.5 504.8,590.2 505.6,587.3 506.4,584.7 507.2,584.7 508.0,587.5 508.8,590.3 509.6,590.7 510.4,589.0 511.2,587.1 512.0,586.1 512.8,584.9 513.6,583.3 514.4,583.3 515.2,587.0 516.0,593.0 516.8,596.4 517.6,595.1 518.4,591.1 519.2,588.2 520.0,587.4 520.9,587.0 521.7,586.4 522.5,587.0 523.3,590.0 524.1,593.0 524.9,592.4 525.7,587.7 526.5,582.6 527.3,580.9 528.1,582.8 528.9,585.4 529.7,587.5 530.5,589.8 531.3,593.0 532.1,594.9 532.9,593.0 533.7,588.2 534.5,584.7 535.3,585.5 536.1,589.2 536.9,591.9 537.7,592.2 538.5,591.6 539.3,591.1 540.1,589.4 540.9,585.4 541.7,581.0 542.5,580.3 543.4,584.0 544.2,588.9 545.0,591.4 545.8,591.0 546.6,589.9 547.4,589.3 548.2,588.7 549.0,587.3 549.8,586.3 550.6,587.6 551.4,590.7 552.2,593.1 553.0,592.7 553.8,590.1 554.6,587.5 555.4,586.3 556.2,585.8 557.0,585.3 557.8,585.4 558.6,587.2 559.4,589.7 560.2,590.9 561.0,589.7 561.8,587.3 562.6,586.0 563.4,586.7 564.2,588.0 565.1,589.0 565.9,589.9 566.7,591.3 567.5,592.4 568.3,591.7 569.1,588.9 569.9,585.9 570.7,585.0 571.5,586.2 572.3,587.8 573.1,588.5 573.9,588.7 574.7,589.0 575.5,589.1" fill="none" stroke="#f0a070" stroke-width="2.6" opacity="0.42" filter="url(#glow)"/>
<polyline points="422.0,589.8 422.8,591.5 423.6,592.6 424.4,593.8 425.2,593.9 426.0,591.0 426.8,586.0 427.6,582.5 428.4,583.4 429.2,587.2 430.0,590.1 430.8,590.1 431.6,588.9 432.4,588.2 433.3,587.2 434.1,584.7 434.9,582.1 435.7,582.8 436.5,587.8 437.3,593.6 438.1,596.1 438.9,594.4 439.7,591.4 440.5,589.5 441.3,588.1 442.1,586.1 442.9,584.7 443.7,586.1 444.5,590.2 445.3,593.2 446.1,591.8 446.9,587.1 447.7,583.1 448.5,582.3 449.3,583.4 450.1,584.7 450.9,586.4 451.7,590.0 452.5,594.3 453.3,595.9 454.1,592.9 455.0,587.8 455.8,585.2 456.6,586.3 457.4,588.9 458.2,590.3 459.0,590.7 459.8,591.5 460.6,592.0 461.4,589.8 462.2,584.8 463.0,580.6 463.8,580.6 464.6,584.6 465.4,588.8 466.2,590.7 467.0,590.8 467.8,590.9 468.6,590.8 469.4,589.3 470.2,586.7 471.0,585.6 471.8,587.6 472.6,591.1 473.4,593.1 474.2,592.2 475.0,589.8 475.8,588.0 476.6,586.8 477.5,585.5 478.3,584.3 479.1,584.7 479.9,587.3 480.7,590.2 481.5,591.1 482.3,589.5 483.1,587.5 483.9,586.8 484.7,587.3 485.5,587.8 486.3,588.3 487.1,589.6 487.9,591.7 488.7,592.8 489.5,591.5 490.3,588.4 491.1,585.8 491.9,585.3 492.7,586.3 493.5,587.2 494.3,587.7 495.1,588.5 495.9,589.7 496.7,589.8 497.5,588.0 498.3,585.6 499.2,584.8 500.0,586.7 500.8,589.6 501.6,591.4 502.4,591.7 503.2,591.7 504.0,591.5 504.8,590.2 505.6,587.3 506.4,584.7 507.2,584.7 508.0,587.5 508.8,590.3 509.6,590.7 510.4,589.0 511.2,587.1 512.0,586.1 512.8,584.9 513.6,583.3 514.4,583.3 515.2,587.0 516.0,593.0 516.8,596.4 517.6,595.1 518.4,591.1 519.2,588.2 520.0,587.4 520.9,587.0 521.7,586.4 522.5,587.0 523.3,590.0 524.1,593.0 524.9,592.4 525.7,587.7 526.5,582.6 527.3,580.9 528.1,582.8 528.9,585.4 529.7,587.5 530.5,589.8 531.3,593.0 532.1,594.9 532.9,593.0 533.7,588.2 534.5,584.7 535.3,585.5 536.1,589.2 536.9,591.9 537.7,592.2 538.5,591.6 539.3,591.1 540.1,589.4 540.9,585.4 541.7,581.0 542.5,580.3 543.4,584.0 544.2,588.9 545.0,591.4 545.8,591.0 546.6,589.9 547.4,589.3 548.2,588.7 549.0,587.3 549.8,586.3 550.6,587.6 551.4,590.7 552.2,593.1 553.0,592.7 553.8,590.1 554.6,587.5 555.4,586.3 556.2,585.8 557.0,585.3 557.8,585.4 558.6,587.2 559.4,589.7 560.2,590.9 561.0,589.7 561.8,587.3 562.6,586.0 563.4,586.7 564.2,588.0 565.1,589.0 565.9,589.9 566.7,591.3 567.5,592.4 568.3,591.7 569.1,588.9 569.9,585.9 570.7,585.0 571.5,586.2 572.3,587.8 573.1,588.5 573.9,588.7 574.7,589.0 575.5,589.1" fill="none" stroke="#c2662e" stroke-width="1.15" stroke-linejoin="round"/>
<polyline points="422.0,605.0 422.8,605.0 423.6,605.4 424.4,606.4 425.2,607.6 426.0,608.2 426.8,607.9 427.6,606.8 428.4,605.7 429.2,605.4 430.0,606.0 430.8,607.1 431.6,607.8 432.4,608.0 433.3,607.6 434.1,607.1 434.9,606.7 435.7,606.0 436.5,605.1 437.3,604.4 438.1,604.3 438.9,605.4 439.7,607.1 440.5,608.6 441.3,609.0 442.1,608.3 442.9,607.2 443.7,606.2 444.5,605.9 445.3,606.0 446.1,606.1 446.9,606.2 447.7,606.4 448.5,606.9 449.3,607.4 450.1,607.3 450.9,606.4 451.7,605.2 452.5,604.5 453.3,604.9 454.1,606.3 455.0,607.9 455.8,608.8 456.6,608.8 457.4,608.2 458.2,607.4 459.0,606.7 459.8,605.9 460.6,605.1 461.4,604.5 462.2,604.7 463.0,605.8 463.8,607.3 464.6,608.3 465.4,608.1 466.2,606.9 467.0,605.7 467.8,605.2 468.6,605.8 469.4,606.8 470.2,607.6 471.0,608.0 471.8,608.2 472.6,608.2 473.4,607.9 474.2,606.8 475.0,604.9 475.8,603.0 476.6,602.3 477.5,603.5 478.3,606.3 479.1,609.0 479.9,610.3 480.7,609.8 481.5,608.4 482.3,607.1 483.1,606.4 483.9,605.9 484.7,605.3 485.5,605.0 486.3,605.7 487.1,607.6 487.9,609.4 488.7,609.5 489.5,606.9 490.3,602.9 491.1,600.1 491.9,600.4 492.7,603.8 493.5,608.2 494.3,611.2 495.1,612.3 495.9,612.1 496.7,611.3 497.5,609.8 498.3,607.0 499.2,603.2 500.0,600.2 500.8,600.0 501.6,603.1 502.4,607.6 503.2,610.6 504.0,610.4 504.8,607.6 505.6,604.7 506.4,603.5 507.2,604.4 508.0,606.0 508.8,607.4 509.6,608.6 510.4,610.1 511.2,611.7 512.0,612.0 512.8,609.8 513.6,605.0 514.4,600.0 515.2,597.7 516.0,599.4 516.8,603.9 517.6,608.4 518.4,610.8 519.2,610.9 520.0,610.0 520.9,609.0 521.7,608.1 522.5,606.5 523.3,604.6 524.1,603.6 524.9,604.8 525.7,607.9 526.5,610.8 527.3,611.2 528.1,608.1 528.9,603.6 529.7,600.3 530.5,600.1 531.3,602.5 532.1,605.7 532.9,608.2 533.7,609.9 534.5,611.3 535.3,612.2 536.1,611.7 536.9,609.1 537.7,605.1 538.5,601.5 539.3,600.7 540.1,602.9 540.9,606.6 541.7,609.2 542.5,609.3 543.4,607.5 544.2,605.5 545.0,604.6 545.8,604.7 546.6,605.1 547.4,605.5 548.2,606.6 549.0,608.9 549.8,611.8 550.6,613.3 551.4,611.7 552.2,607.2 553.0,602.2 553.8,599.2 554.6,599.7 555.4,602.7 556.2,606.0 557.0,608.1 557.8,609.0 558.6,609.5 559.4,609.8 560.2,609.3 561.0,607.4 561.8,604.9 562.6,603.5 563.4,604.5 564.2,607.5 565.1,610.5 565.9,611.1 566.7,608.9 567.5,605.3 568.3,602.6 569.1,601.8 569.9,602.6 570.7,604.1 571.5,605.6 572.3,607.3 573.1,609.4 573.9,611.3 574.7,611.6 575.5,609.9" fill="none" stroke="#f0a070" stroke-width="2.6" opacity="0.4" filter="url(#glow)"/>
<polyline points="422.0,605.0 422.8,605.0 423.6,605.4 424.4,606.4 425.2,607.6 426.0,608.2 426.8,607.9 427.6,606.8 428.4,605.7 429.2,605.4 430.0,606.0 430.8,607.1 431.6,607.8 432.4,608.0 433.3,607.6 434.1,607.1 434.9,606.7 435.7,606.0 436.5,605.1 437.3,604.4 438.1,604.3 438.9,605.4 439.7,607.1 440.5,608.6 441.3,609.0 442.1,608.3 442.9,607.2 443.7,606.2 444.5,605.9 445.3,606.0 446.1,606.1 446.9,606.2 447.7,606.4 448.5,606.9 449.3,607.4 450.1,607.3 450.9,606.4 451.7,605.2 452.5,604.5 453.3,604.9 454.1,606.3 455.0,607.9 455.8,608.8 456.6,608.8 457.4,608.2 458.2,607.4 459.0,606.7 459.8,605.9 460.6,605.1 461.4,604.5 462.2,604.7 463.0,605.8 463.8,607.3 464.6,608.3 465.4,608.1 466.2,606.9 467.0,605.7 467.8,605.2 468.6,605.8 469.4,606.8 470.2,607.6 471.0,608.0 471.8,608.2 472.6,608.2 473.4,607.9 474.2,606.8 475.0,604.9 475.8,603.0 476.6,602.3 477.5,603.5 478.3,606.3 479.1,609.0 479.9,610.3 480.7,609.8 481.5,608.4 482.3,607.1 483.1,606.4 483.9,605.9 484.7,605.3 485.5,605.0 486.3,605.7 487.1,607.6 487.9,609.4 488.7,609.5 489.5,606.9 490.3,602.9 491.1,600.1 491.9,600.4 492.7,603.8 493.5,608.2 494.3,611.2 495.1,612.3 495.9,612.1 496.7,611.3 497.5,609.8 498.3,607.0 499.2,603.2 500.0,600.2 500.8,600.0 501.6,603.1 502.4,607.6 503.2,610.6 504.0,610.4 504.8,607.6 505.6,604.7 506.4,603.5 507.2,604.4 508.0,606.0 508.8,607.4 509.6,608.6 510.4,610.1 511.2,611.7 512.0,612.0 512.8,609.8 513.6,605.0 514.4,600.0 515.2,597.7 516.0,599.4 516.8,603.9 517.6,608.4 518.4,610.8 519.2,610.9 520.0,610.0 520.9,609.0 521.7,608.1 522.5,606.5 523.3,604.6 524.1,603.6 524.9,604.8 525.7,607.9 526.5,610.8 527.3,611.2 528.1,608.1 528.9,603.6 529.7,600.3 530.5,600.1 531.3,602.5 532.1,605.7 532.9,608.2 533.7,609.9 534.5,611.3 535.3,612.2 536.1,611.7 536.9,609.1 537.7,605.1 538.5,601.5 539.3,600.7 540.1,602.9 540.9,606.6 541.7,609.2 542.5,609.3 543.4,607.5 544.2,605.5 545.0,604.6 545.8,604.7 546.6,605.1 547.4,605.5 548.2,606.6 549.0,608.9 549.8,611.8 550.6,613.3 551.4,611.7 552.2,607.2 553.0,602.2 553.8,599.2 554.6,599.7 555.4,602.7 556.2,606.0 557.0,608.1 557.8,609.0 558.6,609.5 559.4,609.8 560.2,609.3 561.0,607.4 561.8,604.9 562.6,603.5 563.4,604.5 564.2,607.5 565.1,610.5 565.9,611.1 566.7,608.9 567.5,605.3 568.3,602.6 569.1,601.8 569.9,602.6 570.7,604.1 571.5,605.6 572.3,607.3 573.1,609.4 573.9,611.3 574.7,611.6 575.5,609.9" fill="none" stroke="#e17a3c" stroke-width="1.15" stroke-linejoin="round"/>
<polyline points="422.0,632.8 422.8,632.7 423.6,629.9 424.4,625.2 425.2,622.3 426.0,623.9 426.8,628.5 427.6,631.6 428.4,630.7 429.2,626.9 430.0,623.6 430.8,622.6 431.6,623.2 432.4,624.4 433.3,626.6 434.1,630.4 434.9,634.3 435.7,635.3 436.5,631.8 437.3,626.3 438.1,623.1 438.9,624.5 439.7,628.4 440.5,631.1 441.3,630.6 442.1,628.4 442.9,626.2 443.7,624.5 444.5,622.9 445.3,622.0 446.1,623.7 446.9,627.9 447.7,632.3 448.5,633.7 449.3,631.3 450.1,627.6 450.9,625.6 451.7,626.3 452.5,628.0 453.3,629.1 454.1,629.2 455.0,629.0 455.8,628.5 456.6,627.3 457.4,625.4 458.2,624.0 459.0,624.4 459.8,626.7 460.6,629.4 461.4,630.5 462.2,629.6 463.0,628.0 463.8,627.2 464.6,627.2 465.4,627.6 466.2,628.0 467.0,628.5 467.8,629.2 468.6,629.5 469.4,628.5 470.2,626.4 471.0,624.6 471.8,624.5 472.6,626.2 473.4,628.2 474.2,629.2 475.0,629.0 475.8,628.3 476.6,627.8 477.5,627.6 478.3,627.3 479.1,627.2 479.9,628.0 480.7,629.5 481.5,630.3 482.3,629.5 483.1,627.2 483.9,625.2 484.7,624.7 485.5,625.8 486.3,627.3 487.1,628.1 487.9,628.4 488.7,628.5 489.5,628.4 490.3,627.8 491.1,626.7 491.9,626.3 492.7,627.5 493.5,629.8 494.3,631.4 495.1,630.8 495.9,628.3 496.7,625.8 497.5,624.7 498.3,625.0 499.2,625.8 500.0,626.7 500.8,627.8 501.6,629.2 502.4,629.7 503.2,628.0 504.0,625.2 504.8,623.9 505.6,626.1 506.4,630.7 507.2,634.1 508.0,633.9 508.8,630.8 509.6,627.4 510.4,625.2 511.2,623.9 512.0,623.1 512.8,623.7 513.6,626.6 514.4,630.3 515.2,631.4 516.0,628.4 516.8,623.7 517.6,621.7 518.4,624.4 519.2,629.4 520.0,633.0 520.9,633.6 521.7,632.3 522.5,630.5 523.3,628.5 524.1,625.7 524.9,623.4 525.7,623.4 526.5,626.3 527.3,629.7 528.1,630.7 528.9,628.3 529.7,624.9 530.5,623.4 531.3,624.6 532.1,627.2 532.9,629.2 533.7,630.5 534.5,631.4 535.3,631.7 536.1,630.4 536.9,627.4 537.7,624.5 538.5,624.0 539.3,626.4 540.1,629.5 540.9,630.4 541.7,628.5 542.5,625.7 543.4,624.1 544.2,624.3 545.0,625.2 545.8,626.6 546.6,628.7 547.4,631.5 548.2,633.5 549.0,632.5 549.8,628.6 550.6,624.7 551.4,623.9 552.2,626.4 553.0,629.5 553.8,630.5 554.6,629.1 555.4,626.9 556.2,625.4 557.0,624.2 557.8,623.3 558.6,623.5 559.4,626.2 560.2,630.7 561.0,633.9 561.8,633.4 562.6,629.6 563.4,625.8 564.2,625.0 565.1,626.8 565.9,628.9 566.7,629.7 567.5,629.4 568.3,628.8 569.1,627.7 569.9,625.6 570.7,622.9 571.5,622.0 572.3,624.4 573.1,628.8 573.9,632.1 574.7,632.1 575.5,629.7" fill="none" stroke="#f0a070" stroke-width="2.6" opacity="0.35" filter="url(#glow)"/>
<polyline points="422.0,632.8 422.8,632.7 423.6,629.9 424.4,625.2 425.2,622.3 426.0,623.9 426.8,628.5 427.6,631.6 428.4,630.7 429.2,626.9 430.0,623.6 430.8,622.6 431.6,623.2 432.4,624.4 433.3,626.6 434.1,630.4 434.9,634.3 435.7,635.3 436.5,631.8 437.3,626.3 438.1,623.1 438.9,624.5 439.7,628.4 440.5,631.1 441.3,630.6 442.1,628.4 442.9,626.2 443.7,624.5 444.5,622.9 445.3,622.0 446.1,623.7 446.9,627.9 447.7,632.3 448.5,633.7 449.3,631.3 450.1,627.6 450.9,625.6 451.7,626.3 452.5,628.0 453.3,629.1 454.1,629.2 455.0,629.0 455.8,628.5 456.6,627.3 457.4,625.4 458.2,624.0 459.0,624.4 459.8,626.7 460.6,629.4 461.4,630.5 462.2,629.6 463.0,628.0 463.8,627.2 464.6,627.2 465.4,627.6 466.2,628.0 467.0,628.5 467.8,629.2 468.6,629.5 469.4,628.5 470.2,626.4 471.0,624.6 471.8,624.5 472.6,626.2 473.4,628.2 474.2,629.2 475.0,629.0 475.8,628.3 476.6,627.8 477.5,627.6 478.3,627.3 479.1,627.2 479.9,628.0 480.7,629.5 481.5,630.3 482.3,629.5 483.1,627.2 483.9,625.2 484.7,624.7 485.5,625.8 486.3,627.3 487.1,628.1 487.9,628.4 488.7,628.5 489.5,628.4 490.3,627.8 491.1,626.7 491.9,626.3 492.7,627.5 493.5,629.8 494.3,631.4 495.1,630.8 495.9,628.3 496.7,625.8 497.5,624.7 498.3,625.0 499.2,625.8 500.0,626.7 500.8,627.8 501.6,629.2 502.4,629.7 503.2,628.0 504.0,625.2 504.8,623.9 505.6,626.1 506.4,630.7 507.2,634.1 508.0,633.9 508.8,630.8 509.6,627.4 510.4,625.2 511.2,623.9 512.0,623.1 512.8,623.7 513.6,626.6 514.4,630.3 515.2,631.4 516.0,628.4 516.8,623.7 517.6,621.7 518.4,624.4 519.2,629.4 520.0,633.0 520.9,633.6 521.7,632.3 522.5,630.5 523.3,628.5 524.1,625.7 524.9,623.4 525.7,623.4 526.5,626.3 527.3,629.7 528.1,630.7 528.9,628.3 529.7,624.9 530.5,623.4 531.3,624.6 532.1,627.2 532.9,629.2 533.7,630.5 534.5,631.4 535.3,631.7 536.1,630.4 536.9,627.4 537.7,624.5 538.5,624.0 539.3,626.4 540.1,629.5 540.9,630.4 541.7,628.5 542.5,625.7 543.4,624.1 544.2,624.3 545.0,625.2 545.8,626.6 546.6,628.7 547.4,631.5 548.2,633.5 549.0,632.5 549.8,628.6 550.6,624.7 551.4,623.9 552.2,626.4 553.0,629.5 553.8,630.5 554.6,629.1 555.4,626.9 556.2,625.4 557.0,624.2 557.8,623.3 558.6,623.5 559.4,626.2 560.2,630.7 561.0,633.9 561.8,633.4 562.6,629.6 563.4,625.8 564.2,625.0 565.1,626.8 565.9,628.9 566.7,629.7 567.5,629.4 568.3,628.8 569.1,627.7 569.9,625.6 570.7,622.9 571.5,622.0 572.3,624.4 573.1,628.8 573.9,632.1 574.7,632.1 575.5,629.7" fill="none" stroke="#eca787" stroke-width="1.15" stroke-linejoin="round" filter="url(#soft)"/>
<polyline points="422.0,643.5 422.8,643.2 423.6,643.5 424.4,644.0 425.2,644.7 426.0,645.7 426.8,646.6 427.6,646.7 428.4,645.6 429.2,644.1 430.0,643.7 430.8,644.6 431.6,646.0 432.4,646.6 433.3,646.0 434.1,644.9 434.9,644.0 435.7,643.4 436.5,643.1 437.3,643.1 438.1,644.1 438.9,646.1 439.7,648.0 440.5,648.2 441.3,646.4 442.1,644.1 442.9,643.1 443.7,643.7 444.5,645.0 445.3,645.7 446.1,645.6 446.9,645.3 447.7,645.0 448.5,643.9 449.3,642.2 450.1,641.3 450.9,643.0 451.7,646.9 452.5,650.5 453.3,651.0 454.1,648.1 455.0,644.3 455.8,642.2 456.6,641.9 457.4,642.3 458.2,642.9 459.0,644.4 459.8,646.6 460.6,647.8 461.4,645.9 462.2,641.9 463.0,639.5 463.8,641.8 464.6,647.2 465.4,651.7 466.2,652.1 467.0,649.2 467.8,645.5 468.6,642.8 469.4,640.8 470.2,639.2 471.0,639.5 471.8,642.8 472.6,647.7 473.4,650.3 474.2,648.5 475.0,644.0 475.8,641.1 476.6,642.3 477.5,646.0 478.3,649.0 479.1,649.5 479.9,648.4 480.7,646.9 481.5,644.6 482.3,641.0 483.1,637.7 483.9,637.8 484.7,642.1 485.5,647.9 486.3,651.0 487.1,649.7 487.9,646.2 488.7,643.8 489.5,643.6 490.3,644.6 491.1,645.3 491.9,645.8 492.7,646.5 493.5,647.0 494.3,645.9 495.1,643.1 495.9,640.5 496.7,640.4 497.5,643.1 498.3,646.6 499.2,648.5 500.0,648.1 500.8,646.7 501.6,645.6 502.4,644.8 503.2,644.0 504.0,643.5 504.8,644.0 505.6,645.3 506.4,646.4 507.2,646.1 508.0,644.4 508.8,642.8 509.6,642.7 510.4,644.0 511.2,645.7 512.0,646.7 512.8,646.9 513.6,646.6 514.4,646.1 515.2,645.2 516.0,643.9 516.8,643.0 517.6,643.3 518.4,644.7 519.2,646.0 520.0,646.1 520.9,645.1 521.7,644.0 522.5,643.8 523.3,644.4 524.1,645.2 524.9,645.8 525.7,646.4 526.5,646.9 527.3,646.8 528.1,645.5 528.9,643.4 529.7,641.9 530.5,642.2 531.3,644.1 532.1,646.2 532.9,646.8 533.7,646.1 534.5,645.2 535.3,644.7 536.1,644.6 536.9,644.4 537.7,644.7 538.5,646.4 539.3,648.8 540.1,649.5 540.9,646.6 541.7,641.3 542.5,637.5 543.4,638.1 544.2,642.1 545.0,646.3 545.8,648.4 546.6,648.9 547.4,648.9 548.2,647.9 549.0,645.3 549.8,642.3 550.6,641.5 551.4,644.5 552.2,648.7 553.0,650.2 553.8,647.0 554.6,641.7 555.4,638.4 556.2,638.9 557.0,641.7 557.8,644.6 558.6,647.2 559.4,649.8 560.2,651.7 561.0,650.6 561.8,646.2 562.6,641.1 563.4,639.3 564.2,642.1 565.1,646.4 565.9,648.2 566.7,646.5 567.5,643.8 568.3,642.3 569.1,642.3 569.9,642.8 570.7,643.6 571.5,645.4 572.3,648.0 573.1,649.7 573.9,648.8 574.7,645.8 575.5,642.9" fill="none" stroke="#f0a070" stroke-width="2.6" opacity="0.3" filter="url(#glow)"/>
<polyline points="422.0,643.5 422.8,643.2 423.6,643.5 424.4,644.0 425.2,644.7 426.0,645.7 426.8,646.6 427.6,646.7 428.4,645.6 429.2,644.1 430.0,643.7 430.8,644.6 431.6,646.0 432.4,646.6 433.3,646.0 434.1,644.9 434.9,644.0 435.7,643.4 436.5,643.1 437.3,643.1 438.1,644.1 438.9,646.1 439.7,648.0 440.5,648.2 441.3,646.4 442.1,644.1 442.9,643.1 443.7,643.7 444.5,645.0 445.3,645.7 446.1,645.6 446.9,645.3 447.7,645.0 448.5,643.9 449.3,642.2 450.1,641.3 450.9,643.0 451.7,646.9 452.5,650.5 453.3,651.0 454.1,648.1 455.0,644.3 455.8,642.2 456.6,641.9 457.4,642.3 458.2,642.9 459.0,644.4 459.8,646.6 460.6,647.8 461.4,645.9 462.2,641.9 463.0,639.5 463.8,641.8 464.6,647.2 465.4,651.7 466.2,652.1 467.0,649.2 467.8,645.5 468.6,642.8 469.4,640.8 470.2,639.2 471.0,639.5 471.8,642.8 472.6,647.7 473.4,650.3 474.2,648.5 475.0,644.0 475.8,641.1 476.6,642.3 477.5,646.0 478.3,649.0 479.1,649.5 479.9,648.4 480.7,646.9 481.5,644.6 482.3,641.0 483.1,637.7 483.9,637.8 484.7,642.1 485.5,647.9 486.3,651.0 487.1,649.7 487.9,646.2 488.7,643.8 489.5,643.6 490.3,644.6 491.1,645.3 491.9,645.8 492.7,646.5 493.5,647.0 494.3,645.9 495.1,643.1 495.9,640.5 496.7,640.4 497.5,643.1 498.3,646.6 499.2,648.5 500.0,648.1 500.8,646.7 501.6,645.6 502.4,644.8 503.2,644.0 504.0,643.5 504.8,644.0 505.6,645.3 506.4,646.4 507.2,646.1 508.0,644.4 508.8,642.8 509.6,642.7 510.4,644.0 511.2,645.7 512.0,646.7 512.8,646.9 513.6,646.6 514.4,646.1 515.2,645.2 516.0,643.9 516.8,643.0 517.6,643.3 518.4,644.7 519.2,646.0 520.0,646.1 520.9,645.1 521.7,644.0 522.5,643.8 523.3,644.4 524.1,645.2 524.9,645.8 525.7,646.4 526.5,646.9 527.3,646.8 528.1,645.5 528.9,643.4 529.7,641.9 530.5,642.2 531.3,644.1 532.1,646.2 532.9,646.8 533.7,646.1 534.5,645.2 535.3,644.7 536.1,644.6 536.9,644.4 537.7,644.7 538.5,646.4 539.3,648.8 540.1,649.5 540.9,646.6 541.7,641.3 542.5,637.5 543.4,638.1 544.2,642.1 545.0,646.3 545.8,648.4 546.6,648.9 547.4,648.9 548.2,647.9 549.0,645.3 549.8,642.3 550.6,641.5 551.4,644.5 552.2,648.7 553.0,650.2 553.8,647.0 554.6,641.7 555.4,638.4 556.2,638.9 557.0,641.7 557.8,644.6 558.6,647.2 559.4,649.8 560.2,651.7 561.0,650.6 561.8,646.2 562.6,641.1 563.4,639.3 564.2,642.1 565.1,646.4 565.9,648.2 566.7,646.5 567.5,643.8 568.3,642.3 569.1,642.3 569.9,642.8 570.7,643.6 571.5,645.4 572.3,648.0 573.1,649.7 573.9,648.8 574.7,645.8 575.5,642.9" fill="none" stroke="#f2c9ba" stroke-width="1.15" stroke-linejoin="round" filter="url(#soft)"/>
<polyline points="422.5,710.2 423.3,713.0 424.1,712.1 424.9,708.4 425.7,705.1 426.5,704.3 427.3,705.3 428.1,706.4 428.9,707.3 429.7,709.6 430.5,713.6 431.3,717.2 432.1,717.3 432.9,713.5 433.7,708.4 434.5,705.5 435.3,705.3 436.1,705.9 436.9,706.1 437.7,706.6 438.5,708.7 439.3,711.6 440.1,712.6 440.9,710.0 441.8,705.6 442.6,703.0 443.4,703.9 444.2,706.9 445.0,709.5 445.8,711.2 446.6,713.1 447.4,715.5 448.2,716.8 449.0,714.5 449.8,709.3 450.6,704.6 451.4,703.2 452.2,705.0 453.0,707.4 453.8,708.4 454.6,708.9 455.4,710.0 456.2,711.3 457.0,710.6 457.8,707.3 458.6,703.5 459.4,702.7 460.2,705.8 461.0,710.4 461.8,713.4 462.6,714.3 463.4,714.5 464.2,714.7 465.0,713.7 465.8,710.3 466.6,705.6 467.4,702.7 468.2,703.6 469.0,707.0 469.8,709.8 470.6,710.4 471.4,709.8 472.2,709.4 473.0,709.3 473.8,708.3 474.6,706.0 475.4,704.5 476.2,705.6 477.0,709.3 477.8,713.1 478.6,714.5 479.4,713.6 480.3,712.0 481.1,710.9 481.9,709.6 482.7,707.4 483.5,705.1 484.3,704.5 485.1,706.5 485.9,709.4 486.7,711.1 487.5,710.6 488.3,709.0 489.1,708.1 489.9,707.8 490.7,707.5 491.5,706.8 492.3,706.8 493.1,708.6 493.9,711.6 494.7,713.8 495.5,713.6 496.3,711.6 497.1,709.5 497.9,708.2 498.7,707.5 499.5,706.6 500.3,705.9 501.1,706.4 501.9,708.5 502.7,710.7 503.5,711.2 504.3,709.8 505.1,707.8 505.9,707.0 506.7,707.3 507.5,707.8 508.3,708.1 509.1,708.9 509.9,710.7 510.7,712.9 511.5,713.7 512.3,712.2 513.1,709.4 513.9,707.2 514.7,706.6 515.5,706.8 516.3,707.0 517.1,707.1 517.9,708.1 518.8,709.8 519.6,711.1 520.4,710.6 521.2,708.5 522.0,706.6 522.8,706.4 523.6,707.7 524.4,709.1 525.2,710.0 526.0,710.8 526.8,712.0 527.6,713.0 528.4,712.4 529.2,710.0 530.0,707.1 530.8,705.5 531.6,706.0 532.4,707.3 533.2,708.2 534.0,708.6 534.8,709.3 535.6,710.3 536.4,710.6 537.2,709.4 538.0,707.2 538.8,706.0 539.6,706.9 540.4,709.1 541.2,711.0 542.0,711.7 542.8,711.8 543.6,711.9 544.4,711.7 545.2,710.3 546.0,707.7 546.8,705.4 547.6,705.0 548.4,706.7 549.2,708.7 550.0,709.7 550.8,709.7 551.6,709.6 552.4,709.7 553.2,709.4 554.0,708.2 554.8,706.7 555.6,706.5 556.4,708.4 557.3,711.1 558.1,712.7 558.9,712.5 559.7,711.4 560.5,710.5 561.3,709.6 562.1,708.1 562.9,706.1 563.7,704.9 564.5,705.8 565.3,708.3 566.1,710.3 566.9,710.7 567.7,709.8 568.5,708.9 569.3,708.6 570.1,708.4 570.9,707.7 571.7,707.2 572.5,708.0 573.3,710.4 574.1,712.8 574.9,713.4 575.7,711.9" fill="none" stroke="#bcd494" stroke-width="2.6" opacity="0.4" filter="url(#glow)"/>
<polyline points="422.5,710.2 423.3,713.0 424.1,712.1 424.9,708.4 425.7,705.1 426.5,704.3 427.3,705.3 428.1,706.4 428.9,707.3 429.7,709.6 430.5,713.6 431.3,717.2 432.1,717.3 432.9,713.5 433.7,708.4 434.5,705.5 435.3,705.3 436.1,705.9 436.9,706.1 437.7,706.6 438.5,708.7 439.3,711.6 440.1,712.6 440.9,710.0 441.8,705.6 442.6,703.0 443.4,703.9 444.2,706.9 445.0,709.5 445.8,711.2 446.6,713.1 447.4,715.5 448.2,716.8 449.0,714.5 449.8,709.3 450.6,704.6 451.4,703.2 452.2,705.0 453.0,707.4 453.8,708.4 454.6,708.9 455.4,710.0 456.2,711.3 457.0,710.6 457.8,707.3 458.6,703.5 459.4,702.7 460.2,705.8 461.0,710.4 461.8,713.4 462.6,714.3 463.4,714.5 464.2,714.7 465.0,713.7 465.8,710.3 466.6,705.6 467.4,702.7 468.2,703.6 469.0,707.0 469.8,709.8 470.6,710.4 471.4,709.8 472.2,709.4 473.0,709.3 473.8,708.3 474.6,706.0 475.4,704.5 476.2,705.6 477.0,709.3 477.8,713.1 478.6,714.5 479.4,713.6 480.3,712.0 481.1,710.9 481.9,709.6 482.7,707.4 483.5,705.1 484.3,704.5 485.1,706.5 485.9,709.4 486.7,711.1 487.5,710.6 488.3,709.0 489.1,708.1 489.9,707.8 490.7,707.5 491.5,706.8 492.3,706.8 493.1,708.6 493.9,711.6 494.7,713.8 495.5,713.6 496.3,711.6 497.1,709.5 497.9,708.2 498.7,707.5 499.5,706.6 500.3,705.9 501.1,706.4 501.9,708.5 502.7,710.7 503.5,711.2 504.3,709.8 505.1,707.8 505.9,707.0 506.7,707.3 507.5,707.8 508.3,708.1 509.1,708.9 509.9,710.7 510.7,712.9 511.5,713.7 512.3,712.2 513.1,709.4 513.9,707.2 514.7,706.6 515.5,706.8 516.3,707.0 517.1,707.1 517.9,708.1 518.8,709.8 519.6,711.1 520.4,710.6 521.2,708.5 522.0,706.6 522.8,706.4 523.6,707.7 524.4,709.1 525.2,710.0 526.0,710.8 526.8,712.0 527.6,713.0 528.4,712.4 529.2,710.0 530.0,707.1 530.8,705.5 531.6,706.0 532.4,707.3 533.2,708.2 534.0,708.6 534.8,709.3 535.6,710.3 536.4,710.6 537.2,709.4 538.0,707.2 538.8,706.0 539.6,706.9 540.4,709.1 541.2,711.0 542.0,711.7 542.8,711.8 543.6,711.9 544.4,711.7 545.2,710.3 546.0,707.7 546.8,705.4 547.6,705.0 548.4,706.7 549.2,708.7 550.0,709.7 550.8,709.7 551.6,709.6 552.4,709.7 553.2,709.4 554.0,708.2 554.8,706.7 555.6,706.5 556.4,708.4 557.3,711.1 558.1,712.7 558.9,712.5 559.7,711.4 560.5,710.5 561.3,709.6 562.1,708.1 562.9,706.1 563.7,704.9 564.5,705.8 565.3,708.3 566.1,710.3 566.9,710.7 567.7,709.8 568.5,708.9 569.3,708.6 570.1,708.4 570.9,707.7 571.7,707.2 572.5,708.0 573.3,710.4 574.1,712.8 574.9,713.4 575.7,711.9" fill="none" stroke="#465229" stroke-width="1.15" stroke-linejoin="round"/>
<polyline points="422.5,727.7 423.3,727.2 424.1,727.2 424.9,727.3 425.7,727.4 426.5,727.8 427.3,728.7 428.1,729.8 428.9,730.2 429.7,729.1 430.5,726.8 431.3,724.2 432.1,722.9 432.9,723.6 433.7,725.7 434.5,728.2 435.3,729.7 436.1,730.1 436.9,729.7 437.7,729.2 438.5,728.7 439.3,728.0 440.1,727.0 440.9,726.2 441.8,726.3 442.6,727.5 443.4,729.2 444.2,730.4 445.0,729.9 445.8,727.7 446.6,725.1 447.4,723.4 448.2,723.5 449.0,725.0 449.8,727.1 450.6,728.7 451.4,729.7 452.2,730.3 453.0,730.6 453.8,730.4 454.6,729.3 455.4,727.3 456.2,725.4 457.0,724.8 457.8,725.9 458.6,728.2 459.4,730.1 460.2,730.3 461.0,728.6 461.8,726.0 462.6,724.1 463.4,723.6 464.2,724.4 465.0,725.8 465.8,727.2 466.6,728.8 467.4,730.7 468.2,732.5 469.0,733.2 469.8,731.8 470.6,728.4 471.4,724.6 472.2,722.6 473.0,723.4 473.8,726.3 474.6,729.4 475.4,730.6 476.2,729.5 477.0,727.2 477.8,725.1 478.6,724.1 479.4,724.0 480.3,724.3 481.1,725.0 481.9,726.9 482.7,730.3 483.5,734.0 484.3,736.0 485.1,734.7 485.9,730.4 486.7,725.2 487.5,721.8 488.3,721.6 489.1,724.1 489.9,727.0 490.7,728.7 491.5,728.9 492.3,728.3 493.1,727.7 493.9,727.2 494.7,726.1 495.5,724.7 496.3,723.7 497.1,724.8 497.9,728.3 498.7,732.8 499.5,736.0 500.3,735.7 501.1,732.0 501.9,726.9 502.7,723.0 503.5,721.8 504.3,722.7 505.1,724.5 505.9,726.0 506.7,727.2 507.5,728.4 508.3,729.7 509.1,730.1 509.9,728.8 510.7,726.1 511.5,723.6 512.3,723.4 513.1,726.3 513.9,731.0 514.7,734.7 515.5,735.4 516.3,732.9 517.1,728.7 517.9,725.1 518.8,723.1 519.6,722.5 520.4,722.6 521.2,723.2 522.0,724.8 522.8,727.5 523.6,730.6 524.4,732.4 525.2,731.5 526.0,728.3 526.8,724.7 527.6,723.2 528.4,725.0 529.2,728.9 530.0,732.5 530.8,733.8 531.6,732.5 532.4,729.9 533.2,727.4 534.0,725.4 534.8,723.7 535.6,722.2 536.4,721.5 537.2,722.7 538.0,726.0 538.8,730.2 539.6,733.1 540.4,733.2 541.2,730.4 542.0,726.7 542.8,724.5 543.6,724.9 544.4,727.2 545.2,729.8 546.0,731.1 546.8,731.1 547.6,730.3 548.4,729.3 549.2,727.8 550.0,725.3 550.8,722.2 551.6,720.0 552.4,720.4 553.2,723.9 554.0,729.2 554.8,733.4 555.6,734.6 556.4,732.5 557.3,729.0 558.1,726.3 558.9,725.6 559.7,726.4 560.5,727.5 561.3,728.2 562.1,728.7 562.9,729.5 563.7,730.2 564.5,729.8 565.3,727.5 566.1,724.0 566.9,721.0 567.7,720.5 568.5,723.1 569.3,727.5 570.1,731.5 570.9,733.1 571.7,732.4 572.5,730.4 573.3,728.6 574.1,727.5 574.9,726.8 575.7,726.3" fill="none" stroke="#bcd494" stroke-width="2.6" opacity="0.38" filter="url(#glow)"/>
<polyline points="422.5,727.7 423.3,727.2 424.1,727.2 424.9,727.3 425.7,727.4 426.5,727.8 427.3,728.7 428.1,729.8 428.9,730.2 429.7,729.1 430.5,726.8 431.3,724.2 432.1,722.9 432.9,723.6 433.7,725.7 434.5,728.2 435.3,729.7 436.1,730.1 436.9,729.7 437.7,729.2 438.5,728.7 439.3,728.0 440.1,727.0 440.9,726.2 441.8,726.3 442.6,727.5 443.4,729.2 444.2,730.4 445.0,729.9 445.8,727.7 446.6,725.1 447.4,723.4 448.2,723.5 449.0,725.0 449.8,727.1 450.6,728.7 451.4,729.7 452.2,730.3 453.0,730.6 453.8,730.4 454.6,729.3 455.4,727.3 456.2,725.4 457.0,724.8 457.8,725.9 458.6,728.2 459.4,730.1 460.2,730.3 461.0,728.6 461.8,726.0 462.6,724.1 463.4,723.6 464.2,724.4 465.0,725.8 465.8,727.2 466.6,728.8 467.4,730.7 468.2,732.5 469.0,733.2 469.8,731.8 470.6,728.4 471.4,724.6 472.2,722.6 473.0,723.4 473.8,726.3 474.6,729.4 475.4,730.6 476.2,729.5 477.0,727.2 477.8,725.1 478.6,724.1 479.4,724.0 480.3,724.3 481.1,725.0 481.9,726.9 482.7,730.3 483.5,734.0 484.3,736.0 485.1,734.7 485.9,730.4 486.7,725.2 487.5,721.8 488.3,721.6 489.1,724.1 489.9,727.0 490.7,728.7 491.5,728.9 492.3,728.3 493.1,727.7 493.9,727.2 494.7,726.1 495.5,724.7 496.3,723.7 497.1,724.8 497.9,728.3 498.7,732.8 499.5,736.0 500.3,735.7 501.1,732.0 501.9,726.9 502.7,723.0 503.5,721.8 504.3,722.7 505.1,724.5 505.9,726.0 506.7,727.2 507.5,728.4 508.3,729.7 509.1,730.1 509.9,728.8 510.7,726.1 511.5,723.6 512.3,723.4 513.1,726.3 513.9,731.0 514.7,734.7 515.5,735.4 516.3,732.9 517.1,728.7 517.9,725.1 518.8,723.1 519.6,722.5 520.4,722.6 521.2,723.2 522.0,724.8 522.8,727.5 523.6,730.6 524.4,732.4 525.2,731.5 526.0,728.3 526.8,724.7 527.6,723.2 528.4,725.0 529.2,728.9 530.0,732.5 530.8,733.8 531.6,732.5 532.4,729.9 533.2,727.4 534.0,725.4 534.8,723.7 535.6,722.2 536.4,721.5 537.2,722.7 538.0,726.0 538.8,730.2 539.6,733.1 540.4,733.2 541.2,730.4 542.0,726.7 542.8,724.5 543.6,724.9 544.4,727.2 545.2,729.8 546.0,731.1 546.8,731.1 547.6,730.3 548.4,729.3 549.2,727.8 550.0,725.3 550.8,722.2 551.6,720.0 552.4,720.4 553.2,723.9 554.0,729.2 554.8,733.4 555.6,734.6 556.4,732.5 557.3,729.0 558.1,726.3 558.9,725.6 559.7,726.4 560.5,727.5 561.3,728.2 562.1,728.7 562.9,729.5 563.7,730.2 564.5,729.8 565.3,727.5 566.1,724.0 566.9,721.0 567.7,720.5 568.5,723.1 569.3,727.5 570.1,731.5 570.9,733.1 571.7,732.4 572.5,730.4 573.3,728.6 574.1,727.5 574.9,726.8 575.7,726.3" fill="none" stroke="#78954a" stroke-width="1.15" stroke-linejoin="round"/>
<polyline points="422.5,748.6 423.3,747.8 424.1,747.3 424.9,747.2 425.7,747.2 426.5,747.3 427.3,747.7 428.1,748.4 428.9,748.7 429.7,748.1 430.5,746.6 431.3,745.1 432.1,744.9 432.9,746.1 433.7,747.9 434.5,749.3 435.3,749.5 436.1,748.9 436.9,748.1 437.7,747.6 438.5,747.2 439.3,746.8 440.1,746.7 440.9,747.2 441.8,748.2 442.6,748.8 443.4,748.2 444.2,746.7 445.0,745.1 445.8,744.8 446.6,746.0 447.4,748.0 448.2,749.5 449.0,749.8 449.8,749.3 450.6,748.6 451.4,747.8 452.2,747.0 453.0,746.2 453.8,745.9 454.6,746.6 455.4,748.0 456.2,749.1 457.0,748.6 457.8,746.8 458.6,744.9 459.4,744.4 460.2,745.8 461.0,748.2 461.8,750.0 462.6,750.6 463.4,750.1 464.2,749.3 465.0,748.2 465.8,746.7 466.6,745.1 467.4,744.4 468.2,745.5 469.0,747.9 469.8,749.8 470.6,749.5 471.4,747.1 472.2,744.3 473.0,743.6 473.8,745.4 474.6,748.4 475.4,750.9 476.2,751.8 477.0,751.6 477.8,750.7 478.6,748.9 479.4,746.1 480.3,742.9 481.1,741.5 481.9,743.3 482.7,747.7 483.5,751.4 484.3,751.4 485.1,747.9 485.9,744.0 486.7,742.9 487.5,745.1 488.3,748.6 489.1,751.3 489.9,752.4 490.7,752.5 491.5,751.7 492.3,749.5 493.1,745.6 493.9,741.4 494.7,739.8 495.5,742.2 496.3,747.3 497.1,751.6 497.9,752.0 498.7,749.0 499.5,745.4 500.3,744.1 501.1,745.6 501.9,748.2 502.7,750.3 503.5,751.4 504.3,752.0 505.1,751.8 505.9,749.7 506.7,745.5 507.5,740.9 508.3,739.1 509.1,741.6 509.9,747.1 510.7,751.8 511.5,752.6 512.3,750.1 513.1,746.8 513.9,745.4 514.7,746.1 515.5,747.7 516.3,749.0 517.1,750.1 517.9,751.3 518.8,751.7 519.6,749.9 520.4,745.5 521.2,740.7 522.0,738.7 522.8,741.4 523.6,747.1 524.4,751.9 525.2,753.2 526.0,751.1 526.8,748.2 527.6,746.6 528.4,746.6 529.2,747.1 530.0,747.6 530.8,748.5 531.6,750.0 532.4,750.9 533.2,749.6 534.0,746.1 534.8,742.3 535.6,741.0 536.4,743.1 537.2,747.2 538.0,750.6 538.8,751.5 539.6,750.4 540.4,748.7 541.2,747.6 542.0,747.1 542.8,746.8 543.6,746.7 544.4,747.3 545.2,748.6 546.0,749.5 546.8,748.9 547.6,746.8 548.4,744.4 549.2,743.5 550.0,744.8 550.8,747.4 551.6,749.5 552.4,750.2 553.2,749.6 554.0,748.7 554.8,747.9 555.6,747.3 556.4,746.7 557.3,746.4 558.1,746.8 558.9,747.9 559.7,748.8 560.5,748.6 561.3,747.2 562.1,745.5 562.9,744.8 563.7,745.7 564.5,747.5 565.3,749.0 566.1,749.6 566.9,749.3 567.7,748.8 568.5,748.1 569.3,747.3 570.1,746.5 570.9,746.0 571.7,746.4 572.5,747.5 573.3,748.6 574.1,748.6 574.9,747.5 575.7,746.0" fill="none" stroke="#bcd494" stroke-width="2.6" opacity="0.36" filter="url(#glow)"/>
<polyline points="422.5,748.6 423.3,747.8 424.1,747.3 424.9,747.2 425.7,747.2 426.5,747.3 427.3,747.7 428.1,748.4 428.9,748.7 429.7,748.1 430.5,746.6 431.3,745.1 432.1,744.9 432.9,746.1 433.7,747.9 434.5,749.3 435.3,749.5 436.1,748.9 436.9,748.1 437.7,747.6 438.5,747.2 439.3,746.8 440.1,746.7 440.9,747.2 441.8,748.2 442.6,748.8 443.4,748.2 444.2,746.7 445.0,745.1 445.8,744.8 446.6,746.0 447.4,748.0 448.2,749.5 449.0,749.8 449.8,749.3 450.6,748.6 451.4,747.8 452.2,747.0 453.0,746.2 453.8,745.9 454.6,746.6 455.4,748.0 456.2,749.1 457.0,748.6 457.8,746.8 458.6,744.9 459.4,744.4 460.2,745.8 461.0,748.2 461.8,750.0 462.6,750.6 463.4,750.1 464.2,749.3 465.0,748.2 465.8,746.7 466.6,745.1 467.4,744.4 468.2,745.5 469.0,747.9 469.8,749.8 470.6,749.5 471.4,747.1 472.2,744.3 473.0,743.6 473.8,745.4 474.6,748.4 475.4,750.9 476.2,751.8 477.0,751.6 477.8,750.7 478.6,748.9 479.4,746.1 480.3,742.9 481.1,741.5 481.9,743.3 482.7,747.7 483.5,751.4 484.3,751.4 485.1,747.9 485.9,744.0 486.7,742.9 487.5,745.1 488.3,748.6 489.1,751.3 489.9,752.4 490.7,752.5 491.5,751.7 492.3,749.5 493.1,745.6 493.9,741.4 494.7,739.8 495.5,742.2 496.3,747.3 497.1,751.6 497.9,752.0 498.7,749.0 499.5,745.4 500.3,744.1 501.1,745.6 501.9,748.2 502.7,750.3 503.5,751.4 504.3,752.0 505.1,751.8 505.9,749.7 506.7,745.5 507.5,740.9 508.3,739.1 509.1,741.6 509.9,747.1 510.7,751.8 511.5,752.6 512.3,750.1 513.1,746.8 513.9,745.4 514.7,746.1 515.5,747.7 516.3,749.0 517.1,750.1 517.9,751.3 518.8,751.7 519.6,749.9 520.4,745.5 521.2,740.7 522.0,738.7 522.8,741.4 523.6,747.1 524.4,751.9 525.2,753.2 526.0,751.1 526.8,748.2 527.6,746.6 528.4,746.6 529.2,747.1 530.0,747.6 530.8,748.5 531.6,750.0 532.4,750.9 533.2,749.6 534.0,746.1 534.8,742.3 535.6,741.0 536.4,743.1 537.2,747.2 538.0,750.6 538.8,751.5 539.6,750.4 540.4,748.7 541.2,747.6 542.0,747.1 542.8,746.8 543.6,746.7 544.4,747.3 545.2,748.6 546.0,749.5 546.8,748.9 547.6,746.8 548.4,744.4 549.2,743.5 550.0,744.8 550.8,747.4 551.6,749.5 552.4,750.2 553.2,749.6 554.0,748.7 554.8,747.9 555.6,747.3 556.4,746.7 557.3,746.4 558.1,746.8 558.9,747.9 559.7,748.8 560.5,748.6 561.3,747.2 562.1,745.5 562.9,744.8 563.7,745.7 564.5,747.5 565.3,749.0 566.1,749.6 566.9,749.3 567.7,748.8 568.5,748.1 569.3,747.3 570.1,746.5 570.9,746.0 571.7,746.4 572.5,747.5 573.3,748.6 574.1,748.6 574.9,747.5 575.7,746.0" fill="none" stroke="#a6c67c" stroke-width="1.15" stroke-linejoin="round"/>
<polyline points="422.5,761.9 423.3,762.5 424.1,764.1 424.9,765.5 425.7,766.3 426.5,766.7 427.3,767.2 428.1,767.4 428.9,766.6 429.7,764.9 430.5,763.4 431.3,763.1 432.1,764.1 432.9,765.5 433.7,766.1 434.5,765.8 435.3,765.3 436.1,765.2 436.9,765.0 437.7,764.5 438.5,763.8 439.3,763.7 440.1,764.9 440.9,766.8 441.8,768.0 442.6,767.7 443.4,766.4 444.2,765.0 445.0,764.2 445.8,763.6 446.6,763.0 447.4,762.6 448.2,763.3 449.0,765.1 449.8,767.1 450.6,768.0 451.4,767.3 452.2,766.0 453.0,765.0 453.8,764.7 454.6,764.6 455.4,764.3 456.2,764.2 457.0,764.8 457.8,765.9 458.6,766.7 459.4,766.2 460.2,764.7 461.0,763.4 461.8,763.2 462.6,764.2 463.4,765.2 464.2,765.9 465.0,766.4 465.8,767.1 466.6,767.6 467.4,767.2 468.2,765.5 469.0,763.4 469.8,762.1 470.6,762.4 471.4,763.7 472.2,765.0 473.0,765.7 473.8,766.3 474.6,766.9 475.4,767.2 476.2,766.7 477.0,765.2 477.8,763.8 478.6,763.5 479.4,764.5 480.3,765.8 481.1,766.3 481.9,765.9 482.7,765.3 483.5,765.0 484.3,764.8 485.1,764.1 485.9,763.3 486.7,763.3 487.5,764.6 488.3,766.6 489.1,768.1 489.9,768.1 490.7,766.9 491.5,765.6 492.3,764.7 493.1,764.0 493.9,763.1 494.7,762.5 495.5,763.0 496.3,764.7 497.1,766.6 497.9,767.6 498.7,767.1 499.5,765.8 500.3,765.0 501.1,764.8 501.9,764.8 502.7,764.7 503.5,764.5 504.3,765.1 505.1,766.3 505.9,767.0 506.7,766.3 507.5,764.5 508.3,762.8 509.1,762.5 509.9,763.4 510.7,764.7 511.5,765.7 512.3,766.5 513.1,767.7 513.9,768.8 514.7,768.6 515.5,766.5 516.3,763.4 517.1,761.2 517.9,761.1 518.8,762.7 519.6,764.4 520.4,765.4 521.2,766.2 522.0,767.5 522.8,768.5 523.6,767.8 524.4,765.2 525.2,762.3 526.0,761.8 526.8,764.3 527.6,767.6 528.4,769.0 529.2,768.0 530.0,766.1 530.8,764.9 531.6,763.8 532.4,761.7 533.2,759.2 534.0,758.8 534.8,762.1 535.6,767.8 536.4,772.3 537.2,773.0 538.0,770.6 538.8,767.6 539.6,765.3 540.4,763.3 541.2,760.7 542.0,758.6 542.8,759.2 543.6,763.0 544.4,767.8 545.2,770.2 546.0,769.0 546.8,766.0 547.6,764.1 548.4,764.0 549.2,764.5 550.0,764.4 550.8,764.4 551.6,765.9 552.4,768.8 553.2,770.5 554.0,768.7 554.8,763.9 555.6,759.5 556.4,758.1 557.3,759.9 558.1,762.6 558.9,764.9 559.7,767.0 560.5,770.0 561.3,772.7 562.1,772.7 562.9,769.0 563.7,763.3 564.5,759.3 565.3,759.1 566.1,761.4 566.9,763.7 567.7,764.9 568.5,765.8 569.3,767.3 570.1,768.6 570.9,767.8 571.7,764.6 572.5,761.5 573.3,761.6 574.1,764.6 574.9,768.0 575.7,769.1" fill="none" stroke="#bcd494" stroke-width="2.6" opacity="0.32" filter="url(#glow)"/>
<polyline points="422.5,761.9 423.3,762.5 424.1,764.1 424.9,765.5 425.7,766.3 426.5,766.7 427.3,767.2 428.1,767.4 428.9,766.6 429.7,764.9 430.5,763.4 431.3,763.1 432.1,764.1 432.9,765.5 433.7,766.1 434.5,765.8 435.3,765.3 436.1,765.2 436.9,765.0 437.7,764.5 438.5,763.8 439.3,763.7 440.1,764.9 440.9,766.8 441.8,768.0 442.6,767.7 443.4,766.4 444.2,765.0 445.0,764.2 445.8,763.6 446.6,763.0 447.4,762.6 448.2,763.3 449.0,765.1 449.8,767.1 450.6,768.0 451.4,767.3 452.2,766.0 453.0,765.0 453.8,764.7 454.6,764.6 455.4,764.3 456.2,764.2 457.0,764.8 457.8,765.9 458.6,766.7 459.4,766.2 460.2,764.7 461.0,763.4 461.8,763.2 462.6,764.2 463.4,765.2 464.2,765.9 465.0,766.4 465.8,767.1 466.6,767.6 467.4,767.2 468.2,765.5 469.0,763.4 469.8,762.1 470.6,762.4 471.4,763.7 472.2,765.0 473.0,765.7 473.8,766.3 474.6,766.9 475.4,767.2 476.2,766.7 477.0,765.2 477.8,763.8 478.6,763.5 479.4,764.5 480.3,765.8 481.1,766.3 481.9,765.9 482.7,765.3 483.5,765.0 484.3,764.8 485.1,764.1 485.9,763.3 486.7,763.3 487.5,764.6 488.3,766.6 489.1,768.1 489.9,768.1 490.7,766.9 491.5,765.6 492.3,764.7 493.1,764.0 493.9,763.1 494.7,762.5 495.5,763.0 496.3,764.7 497.1,766.6 497.9,767.6 498.7,767.1 499.5,765.8 500.3,765.0 501.1,764.8 501.9,764.8 502.7,764.7 503.5,764.5 504.3,765.1 505.1,766.3 505.9,767.0 506.7,766.3 507.5,764.5 508.3,762.8 509.1,762.5 509.9,763.4 510.7,764.7 511.5,765.7 512.3,766.5 513.1,767.7 513.9,768.8 514.7,768.6 515.5,766.5 516.3,763.4 517.1,761.2 517.9,761.1 518.8,762.7 519.6,764.4 520.4,765.4 521.2,766.2 522.0,767.5 522.8,768.5 523.6,767.8 524.4,765.2 525.2,762.3 526.0,761.8 526.8,764.3 527.6,767.6 528.4,769.0 529.2,768.0 530.0,766.1 530.8,764.9 531.6,763.8 532.4,761.7 533.2,759.2 534.0,758.8 534.8,762.1 535.6,767.8 536.4,772.3 537.2,773.0 538.0,770.6 538.8,767.6 539.6,765.3 540.4,763.3 541.2,760.7 542.0,758.6 542.8,759.2 543.6,763.0 544.4,767.8 545.2,770.2 546.0,769.0 546.8,766.0 547.6,764.1 548.4,764.0 549.2,764.5 550.0,764.4 550.8,764.4 551.6,765.9 552.4,768.8 553.2,770.5 554.0,768.7 554.8,763.9 555.6,759.5 556.4,758.1 557.3,759.9 558.1,762.6 558.9,764.9 559.7,767.0 560.5,770.0 561.3,772.7 562.1,772.7 562.9,769.0 563.7,763.3 564.5,759.3 565.3,759.1 566.1,761.4 566.9,763.7 567.7,764.9 568.5,765.8 569.3,767.3 570.1,768.6 570.9,767.8 571.7,764.6 572.5,761.5 573.3,761.6 574.1,764.6 574.9,768.0 575.7,769.1" fill="none" stroke="#c9d8b4" stroke-width="1.15" stroke-linejoin="round" filter="url(#soft)"/>
<polyline points="422.5,785.1 423.3,786.6 424.1,785.5 424.9,782.9 425.7,781.1 426.5,781.0 427.3,781.9 428.1,782.8 428.9,784.2 429.7,787.0 430.5,790.5 431.3,791.9 432.1,789.3 432.9,783.8 433.7,779.1 434.5,778.0 435.3,780.1 436.1,782.8 436.9,784.1 437.7,784.3 438.5,784.5 439.3,784.6 440.1,783.4 440.9,780.7 441.8,778.5 442.6,778.9 443.4,782.2 444.2,786.2 445.0,788.3 445.8,787.8 446.6,786.2 447.4,784.8 448.2,784.0 449.0,783.2 449.8,782.5 450.6,782.3 451.4,783.2 452.2,784.6 453.0,785.5 453.8,784.9 454.6,783.3 455.4,781.8 456.2,781.4 457.0,781.9 457.8,782.7 458.6,783.4 459.4,784.0 460.2,784.8 461.0,785.5 461.8,785.4 462.6,784.3 463.4,783.1 464.2,782.5 465.0,783.1 465.8,784.3 466.6,785.0 467.4,785.0 468.2,784.5 469.0,784.0 469.8,783.5 470.6,782.7 471.4,781.9 472.2,781.5 473.0,782.1 473.8,783.6 474.6,784.9 475.4,785.2 476.2,784.5 477.0,783.6 477.8,783.2 478.6,783.3 479.4,783.5 480.3,783.7 481.1,784.1 481.9,784.9 482.7,785.7 483.5,785.6 484.3,784.4 485.1,782.8 485.9,781.8 486.7,781.8 487.5,782.6 488.3,783.3 489.1,783.7 489.9,783.9 490.7,784.2 491.5,784.2 492.3,783.7 493.1,782.8 493.9,782.2 494.7,782.6 495.5,784.0 496.3,785.5 497.1,786.0 497.9,785.5 498.7,784.6 499.5,784.0 500.3,783.4 501.1,782.8 501.9,782.2 502.7,782.2 503.5,783.2 504.3,784.5 505.1,785.1 505.9,784.3 506.7,782.7 507.5,781.4 508.3,781.3 509.1,782.2 509.9,783.2 510.7,784.2 511.5,785.4 512.3,787.0 513.1,787.9 513.9,787.0 514.7,784.2 515.5,781.1 516.3,780.3 517.1,782.1 517.9,785.0 518.8,786.4 519.6,785.9 520.4,784.5 521.2,783.2 522.0,781.7 522.8,779.1 523.6,776.6 524.4,776.7 525.2,780.6 526.0,786.4 526.8,790.2 527.6,790.0 528.4,786.9 529.2,784.0 530.0,782.9 530.8,783.0 531.6,782.9 532.4,783.1 533.2,784.7 534.0,787.7 534.8,789.6 535.6,788.0 536.4,782.9 537.2,777.6 538.0,775.6 538.8,777.3 539.6,780.6 540.4,783.2 541.2,784.6 542.0,785.8 542.8,786.9 543.6,786.7 544.4,784.3 545.2,781.2 546.0,780.1 546.8,782.3 547.6,786.4 548.4,789.3 549.2,789.3 550.0,787.1 550.8,784.6 551.6,782.8 552.4,781.1 553.2,779.3 554.0,778.2 554.8,779.4 555.6,783.1 556.4,786.8 557.3,787.5 558.1,784.9 558.9,781.1 559.7,779.3 560.5,780.3 561.3,782.6 562.1,784.6 562.9,786.3 563.7,788.5 564.5,790.7 565.3,790.7 566.1,787.1 566.9,781.6 567.7,777.8 568.5,778.0 569.3,781.3 570.1,784.5 570.9,785.5 571.7,784.7 572.5,783.8 573.3,783.1 574.1,781.6 574.9,779.1 575.7,777.4" fill="none" stroke="#bcd494" stroke-width="2.6" opacity="0.28" filter="url(#glow)"/>
<polyline points="422.5,785.1 423.3,786.6 424.1,785.5 424.9,782.9 425.7,781.1 426.5,781.0 427.3,781.9 428.1,782.8 428.9,784.2 429.7,787.0 430.5,790.5 431.3,791.9 432.1,789.3 432.9,783.8 433.7,779.1 434.5,778.0 435.3,780.1 436.1,782.8 436.9,784.1 437.7,784.3 438.5,784.5 439.3,784.6 440.1,783.4 440.9,780.7 441.8,778.5 442.6,778.9 443.4,782.2 444.2,786.2 445.0,788.3 445.8,787.8 446.6,786.2 447.4,784.8 448.2,784.0 449.0,783.2 449.8,782.5 450.6,782.3 451.4,783.2 452.2,784.6 453.0,785.5 453.8,784.9 454.6,783.3 455.4,781.8 456.2,781.4 457.0,781.9 457.8,782.7 458.6,783.4 459.4,784.0 460.2,784.8 461.0,785.5 461.8,785.4 462.6,784.3 463.4,783.1 464.2,782.5 465.0,783.1 465.8,784.3 466.6,785.0 467.4,785.0 468.2,784.5 469.0,784.0 469.8,783.5 470.6,782.7 471.4,781.9 472.2,781.5 473.0,782.1 473.8,783.6 474.6,784.9 475.4,785.2 476.2,784.5 477.0,783.6 477.8,783.2 478.6,783.3 479.4,783.5 480.3,783.7 481.1,784.1 481.9,784.9 482.7,785.7 483.5,785.6 484.3,784.4 485.1,782.8 485.9,781.8 486.7,781.8 487.5,782.6 488.3,783.3 489.1,783.7 489.9,783.9 490.7,784.2 491.5,784.2 492.3,783.7 493.1,782.8 493.9,782.2 494.7,782.6 495.5,784.0 496.3,785.5 497.1,786.0 497.9,785.5 498.7,784.6 499.5,784.0 500.3,783.4 501.1,782.8 501.9,782.2 502.7,782.2 503.5,783.2 504.3,784.5 505.1,785.1 505.9,784.3 506.7,782.7 507.5,781.4 508.3,781.3 509.1,782.2 509.9,783.2 510.7,784.2 511.5,785.4 512.3,787.0 513.1,787.9 513.9,787.0 514.7,784.2 515.5,781.1 516.3,780.3 517.1,782.1 517.9,785.0 518.8,786.4 519.6,785.9 520.4,784.5 521.2,783.2 522.0,781.7 522.8,779.1 523.6,776.6 524.4,776.7 525.2,780.6 526.0,786.4 526.8,790.2 527.6,790.0 528.4,786.9 529.2,784.0 530.0,782.9 530.8,783.0 531.6,782.9 532.4,783.1 533.2,784.7 534.0,787.7 534.8,789.6 535.6,788.0 536.4,782.9 537.2,777.6 538.0,775.6 538.8,777.3 539.6,780.6 540.4,783.2 541.2,784.6 542.0,785.8 542.8,786.9 543.6,786.7 544.4,784.3 545.2,781.2 546.0,780.1 546.8,782.3 547.6,786.4 548.4,789.3 549.2,789.3 550.0,787.1 550.8,784.6 551.6,782.8 552.4,781.1 553.2,779.3 554.0,778.2 554.8,779.4 555.6,783.1 556.4,786.8 557.3,787.5 558.1,784.9 558.9,781.1 559.7,779.3 560.5,780.3 561.3,782.6 562.1,784.6 562.9,786.3 563.7,788.5 564.5,790.7 565.3,790.7 566.1,787.1 566.9,781.6 567.7,777.8 568.5,778.0 569.3,781.3 570.1,784.5 570.9,785.5 571.7,784.7 572.5,783.8 573.3,783.1 574.1,781.6 574.9,779.1 575.7,777.4" fill="none" stroke="#dee2d2" stroke-width="1.15" stroke-linejoin="round" filter="url(#soft)"/>
<g stroke="#111" fill="none">
<line x1="778.5" y1="417.3" x2="778.5" y2="625.5" stroke-width="1.2"/>
<line x1="778.5" y1="625" x2="946" y2="625" stroke-width="1.15"/>
<line x1="773.2" y1="519.6" x2="778.5" y2="519.6" stroke-width="1"/>
<line x1="778.5" y1="427.4" x2="952" y2="427.4" stroke-width="1.1" stroke-dasharray="2.2 2"/>
<line x1="914.4" y1="431" x2="914.4" y2="512" stroke-width="1.1" stroke-dasharray="2.2 2"/>
<line x1="914.4" y1="551" x2="914.4" y2="619.5" stroke-width="1.1" stroke-dasharray="2.2 2"/>
<line x1="701" y1="606.5" x2="701" y2="632" stroke-width="1.3" stroke-dasharray="1.7 1.6"/>
<line x1="705" y1="619.6" x2="775" y2="619.6" stroke-width="1.1" stroke-dasharray="2.2 2"/>
<line x1="783" y1="619.6" x2="910" y2="619.6" stroke-width="1.1" stroke-dasharray="2.2 2"/>
<line x1="778.5" y1="562.5" x2="904" y2="437" stroke-width="3.4"/>
</g>
<g fill="#111">
<path d="M952.5,625 L944.2,621.8 L944.2,628.2 Z"/>
<path d="M701.3,619.6 L706.3,617.2 L706.3,622.0 Z"/>
<path d="M777.8,619.6 L772.8,617.2 L772.8,622.0 Z"/>
<path d="M779.2,619.6 L784.2,617.2 L784.2,622.0 Z"/>
<path d="M914.0,619.6 L909.0,617.2 L909.0,622.0 Z"/>
<path d="M915.5,426.3 L894.3,434.3 L901.2,438.6 L905.8,446 Z"/>
</g>
<text x="770.5" y="425.3" font-size="11.5" font-weight="normal" font-style="normal" fill="#5a5a5a" text-anchor="end" textLength="55" lengthAdjust="spacingAndGlyphs">response</text>
<text x="770.5" y="437.3" font-size="11.5" fill="#5a5a5a" text-anchor="end" textLength="69" lengthAdjust="spacingAndGlyphs">threshold, <tspan font-style="italic">b</tspan></text>
<text x="770.5" y="523.4" font-size="11" fill="#5a5a5a" text-anchor="end" font-style="italic">A</text>
<text x="770.7" y="556" font-size="11.5" font-weight="normal" font-style="normal" fill="#5a5a5a" text-anchor="end" textLength="79.3" lengthAdjust="spacingAndGlyphs">starting point</text>
<text x="770.7" y="567.8" font-size="11.5" fill="#5a5a5a" text-anchor="end" textLength="59" lengthAdjust="spacingAndGlyphs"><tspan font-style="italic">a</tspan> in [0, <tspan font-style="italic">A</tspan>]</text>
<text x="776" y="600" font-size="11.5" font-weight="normal" font-style="normal" fill="#5a5a5a" text-anchor="end" textLength="72" lengthAdjust="spacingAndGlyphs">nondecision</text>
<text x="718.9" y="612" font-size="11.5" fill="#5a5a5a" textLength="42" lengthAdjust="spacingAndGlyphs">time, <tspan font-style="italic">t</tspan><tspan font-size="8" dy="2.5">0</tspan></text>
<text x="807.5" y="616" font-size="11.5" font-weight="normal" font-style="normal" fill="#5a5a5a" text-anchor="start" textLength="79.2" lengthAdjust="spacingAndGlyphs">decision time</text>
<text x="952" y="641" font-size="12.5" font-weight="normal" font-style="normal" fill="#444" text-anchor="end" textLength="30.3" lengthAdjust="spacingAndGlyphs">Time</text>
<text x="823.7" y="535.5" font-size="17" font-style="italic" fill="#555" textLength="9.2" lengthAdjust="spacingAndGlyphs">v</text>
<text x="833.5" y="541" font-size="10" font-style="italic" fill="#555" textLength="10.9" lengthAdjust="spacingAndGlyphs">r|s</text>
<text x="845.5" y="530" font-size="9" font-style="italic" fill="#555" textLength="10.2" lengthAdjust="spacingAndGlyphs">(i)</text>
<text x="860.1" y="535.5" font-size="15" font-style="normal" fill="#555" textLength="8.3" lengthAdjust="spacingAndGlyphs">=</text>
<text x="872.2" y="535.5" font-size="17" font-style="italic" fill="#555" textLength="10.3" lengthAdjust="spacingAndGlyphs">μ</text>
<text x="883.6" y="541" font-size="10" font-style="italic" fill="#555" textLength="5.4" lengthAdjust="spacingAndGlyphs">v</text>
<text x="893.9" y="535.5" font-size="15" font-style="normal" fill="#555" textLength="8.2" lengthAdjust="spacingAndGlyphs">+</text>
<text x="905.0" y="535.5" font-size="17" font-style="italic" fill="#555" textLength="10.6" lengthAdjust="spacingAndGlyphs">β</text>
<text x="916.7" y="541" font-size="10" font-style="italic" fill="#555" textLength="10.9" lengthAdjust="spacingAndGlyphs">r|s</text>
<text x="933.0" y="534.5" font-size="15" font-style="normal" fill="#555">·</text>
<text x="939.6" y="535.5" font-size="16.5" font-style="italic" fill="#555" textLength="8.7" lengthAdjust="spacingAndGlyphs">θ</text>
<text x="949.6" y="530.5" font-size="9" font-style="italic" fill="#555" textLength="9.6" lengthAdjust="spacingAndGlyphs">(i)</text>
<text x="1011.2" y="536.3" font-size="22" font-style="italic" fill="#333" textLength="13.6" lengthAdjust="spacingAndGlyphs">β</text>
<text x="1025.2" y="543.8" font-size="12.5" font-style="italic" fill="#333" textLength="14.2" lengthAdjust="spacingAndGlyphs">r|s</text>
</g></svg></body></html>
